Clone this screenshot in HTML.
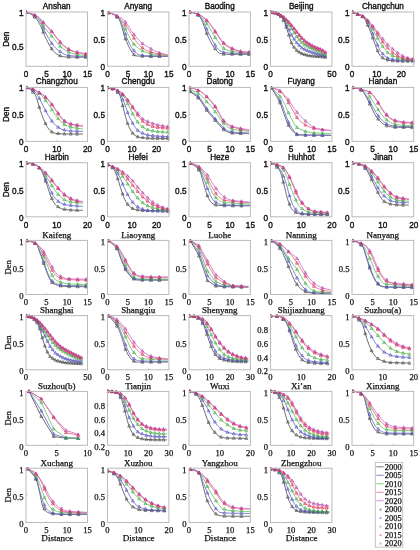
<!DOCTYPE html><html><head><meta charset="utf-8"><style>html,body{margin:0;padding:0;background:#fff;width:420px;height:550px;overflow:hidden}svg{display:block}.s{font-family:"Liberation Sans",sans-serif}.r{font-family:"Liberation Serif",serif}text{fill:#111}text.s{stroke:#111;stroke-width:0.35px}text.r{stroke:#111;stroke-width:0.25px}</style></head><body>
<svg width="420" height="550" viewBox="0 0 420 550">
<defs><filter id="bl" x="0" y="0" width="1" height="1" color-interpolation-filters="sRGB"><feGaussianBlur stdDeviation="0.35"/></filter></defs>
<rect width="420" height="550" fill="#fff"/>
<g filter="url(#bl)"><rect width="420" height="550" fill="#fff"/>
<g><clipPath id="c0"><rect x="26" y="10" width="63.5" height="56.3"/></clipPath><g clip-path="url(#c0)" fill="none" stroke-width="0.85" stroke-linejoin="round"><path d="M25.89 11.89C26.88 12.36 30.21 13.72 31.86 14.71C33.51 15.71 34.35 16.02 35.79 17.86C37.23 19.69 38.93 22.57 40.50 25.71C42.07 28.86 43.64 33.31 45.21 36.71C46.79 40.12 48.36 43.52 49.93 46.14C51.50 48.76 52.68 50.73 54.64 52.43C56.61 54.13 58.96 55.57 61.71 56.36C64.46 57.14 67.08 57.01 71.14 57.14C75.20 57.27 83.58 57.14 86.07 57.14" stroke="#555555"/><path d="M25.89 11.89C26.88 12.30 30.08 13.54 31.86 14.40C33.64 15.26 35.00 15.45 36.57 17.07C38.14 18.70 39.71 21.39 41.29 24.14C42.86 26.89 44.30 30.43 46.00 33.57C47.70 36.71 49.67 40.38 51.50 43.00C53.33 45.62 54.77 47.37 57.00 49.29C59.23 51.20 61.98 53.35 64.86 54.47C67.74 55.60 70.75 55.73 74.29 56.04C77.82 56.36 84.11 56.30 86.07 56.36" stroke="#6a6ad0"/><path d="M25.89 11.89C26.88 12.23 29.81 13.06 31.86 13.93C33.90 14.79 36.05 14.85 38.14 17.07C40.24 19.30 42.07 24.01 44.43 27.29C46.79 30.56 49.54 33.44 52.29 36.71C55.04 39.99 58.05 44.31 60.93 46.93C63.81 49.55 66.82 51.17 69.57 52.43C72.32 53.69 74.68 53.95 77.43 54.47C80.18 55.00 84.63 55.39 86.07 55.57" stroke="#66c466"/><path d="M25.89 11.89C26.88 12.23 29.81 13.06 31.86 13.93C33.90 14.79 36.05 15.42 38.14 17.07C40.24 18.72 42.07 21.29 44.43 23.83C46.79 26.37 49.54 29.07 52.29 32.31C55.04 35.56 58.05 40.35 60.93 43.31C63.81 46.27 66.82 48.55 69.57 50.07C72.32 51.59 74.68 51.77 77.43 52.43C80.18 53.08 84.63 53.74 86.07 54.00" stroke="#ea6a78"/><path d="M25.89 11.89C26.88 12.20 29.81 12.96 31.86 13.77C33.90 14.58 36.05 15.16 38.14 16.76C40.24 18.35 42.07 20.87 44.43 23.36C46.79 25.85 49.54 28.46 52.29 31.69C55.04 34.91 58.05 39.70 60.93 42.69C63.81 45.67 66.82 48.03 69.57 49.60C72.32 51.17 74.68 51.43 77.43 52.11C80.18 52.80 84.63 53.42 86.07 53.69" stroke="#c470d0"/><path d="M26.19 10.53l-1.5 2.7h3zM34.69 15.48l-1.5 2.7h3zM43.19 30.48l-1.5 2.7h3zM51.69 46.99l-1.5 2.7h3zM60.19 54.01l-1.5 2.7h3zM68.69 55.44l-1.5 2.7h3zM77.19 55.64l-1.5 2.7h3zM85.69 55.64l-1.5 2.7h3z" fill="#484848" fill-opacity="0.12" stroke="#484848" stroke-width="0.6"/><path d="M26.19 10.51l-1.5 2.7h3zM34.69 14.5l-1.5 2.7h3zM43.19 26.44l-1.5 2.7h3zM51.69 41.71l-1.5 2.7h3zM60.19 49.89l-1.5 2.7h3zM68.69 53.61l-1.5 2.7h3zM77.19 54.62l-1.5 2.7h3zM85.69 54.85l-1.5 2.7h3z" fill="#5050c0" fill-opacity="0.12" stroke="#5050c0" stroke-width="0.6"/><path d="M26.19 10.49l-1.5 2.7h3zM34.69 13.84l-1.5 2.7h3zM43.19 23.77l-1.5 2.7h3zM51.69 34.49l-1.5 2.7h3zM60.19 44.55l-1.5 2.7h3zM68.69 50.36l-1.5 2.7h3zM77.19 52.91l-1.5 2.7h3zM85.69 54.02l-1.5 2.7h3z" fill="#40a840" fill-opacity="0.12" stroke="#40a840" stroke-width="0.6"/><path d="M26.19 10.49l-1.5 2.7h3zM34.69 13.84l-1.5 2.7h3zM43.19 20.99l-1.5 2.7h3zM51.69 30.17l-1.5 2.7h3zM60.19 40.87l-1.5 2.7h3zM68.69 47.88l-1.5 2.7h3zM77.19 50.86l-1.5 2.7h3zM85.69 52.43l-1.5 2.7h3z" fill="#d82c54" fill-opacity="0.12" stroke="#d82c54" stroke-width="0.6"/><path d="M26.19 10.48l-1.5 2.7h3zM34.69 13.61l-1.5 2.7h3zM43.19 20.55l-1.5 2.7h3zM51.69 29.55l-1.5 2.7h3zM60.19 40.24l-1.5 2.7h3zM68.69 47.39l-1.5 2.7h3zM77.19 50.54l-1.5 2.7h3zM85.69 52.12l-1.5 2.7h3z" fill="#c03c98" fill-opacity="0.12" stroke="#c03c98" stroke-width="0.6"/></g><path d="M46.5 66.3v-1.3" stroke="#a0a0a0" stroke-width="0.6"/><path d="M67 66.3v-1.3" stroke="#a0a0a0" stroke-width="0.6"/><path d="M26 45.94h1.3" stroke="#a0a0a0" stroke-width="0.6"/><rect x="26" y="12" width="61.5" height="54.3" fill="none" stroke="#bababa" stroke-width="1"/><text class="s" x="0" y="0" font-size="8.2" text-anchor="middle"  transform="translate(56.75 8.9) scale(1 1.15)">Anshan</text><text class="s" x="0" y="0" font-size="8.2" text-anchor="end"  transform="translate(23.5 49.94) scale(1 1.15)">0.5</text><text class="s" x="0" y="0" font-size="8.2" text-anchor="end"  transform="translate(23.5 16) scale(1 1.15)">1</text><text class="s" x="0" y="0" font-size="8.2" text-anchor="middle"  transform="translate(26 77.3) scale(1 1.15)">0</text><text class="s" x="0" y="0" font-size="8.2" text-anchor="middle"  transform="translate(46.5 77.3) scale(1 1.15)">5</text><text class="s" x="0" y="0" font-size="8.2" text-anchor="middle"  transform="translate(67 77.3) scale(1 1.15)">10</text><text class="s" x="0" y="0" font-size="8.2" text-anchor="middle"  transform="translate(87.5 77.3) scale(1 1.15)">15</text><text class="s" x="0" y="0" font-size="8.2" text-anchor="middle"  transform="translate(9 39.15) rotate(-90)">Den</text></g>
<g><clipPath id="c1"><rect x="107.45" y="10" width="63.45" height="56.3"/></clipPath><g clip-path="url(#c1)" fill="none" stroke-width="0.85" stroke-linejoin="round"><path d="M108.14 12.36C109.19 12.75 112.73 13.80 114.43 14.71C116.13 15.63 117.18 16.02 118.36 17.86C119.54 19.69 120.45 22.57 121.50 25.71C122.55 28.86 123.46 33.31 124.64 36.71C125.82 40.12 127.13 43.26 128.57 46.14C130.01 49.02 131.98 52.38 133.29 54.00C134.60 55.62 133.29 55.49 136.43 55.89C139.57 56.28 146.90 56.28 152.14 56.36C157.38 56.44 165.24 56.36 167.86 56.36" stroke="#555555"/><path d="M108.14 12.36C109.19 12.75 112.60 13.67 114.43 14.71C116.26 15.76 117.70 16.55 119.14 18.64C120.58 20.74 121.76 24.01 123.07 27.29C124.38 30.56 125.56 34.88 127.00 38.29C128.44 41.69 130.14 45.23 131.71 47.71C133.29 50.20 134.33 51.90 136.43 53.21C138.52 54.52 139.05 55.10 144.29 55.57C149.52 56.04 163.93 55.96 167.86 56.04" stroke="#6a6ad0"/><path d="M108.14 12.36C109.19 12.75 112.46 13.67 114.43 14.71C116.39 15.76 118.10 16.29 119.93 18.64C121.76 21.00 123.73 25.58 125.43 28.86C127.13 32.13 128.57 35.54 130.14 38.29C131.71 41.04 132.76 43.26 134.86 45.36C136.95 47.45 139.83 49.42 142.71 50.86C145.60 52.30 147.95 53.21 152.14 54.00C156.33 54.79 165.24 55.31 167.86 55.57" stroke="#66c466"/><path d="M108.14 12.36C109.45 12.88 113.90 14.32 116.00 15.50C118.10 16.68 119.01 17.73 120.71 19.43C122.42 21.13 124.25 22.96 126.21 25.71C128.18 28.46 130.40 32.79 132.50 35.93C134.60 39.07 136.56 42.21 138.79 44.57C141.01 46.93 143.11 48.63 145.86 50.07C148.61 51.51 151.62 52.35 155.29 53.21C158.95 54.08 165.76 54.92 167.86 55.26" stroke="#ea6a78"/><path d="M108.14 12.36C109.58 12.88 113.90 13.93 116.79 15.50C119.67 17.07 122.68 18.77 125.43 21.79C128.18 24.80 130.54 30.04 133.29 33.57C136.04 37.11 139.05 40.51 141.93 43.00C144.81 45.49 147.82 46.93 150.57 48.50C153.32 50.07 155.55 51.38 158.43 52.43C161.31 53.48 166.29 54.39 167.86 54.79" stroke="#c470d0"/><path d="M108.44 10.97l-1.5 2.7h3zM116.94 15.23l-1.5 2.7h3zM125.44 37.13l-1.5 2.7h3zM133.94 52.89l-1.5 2.7h3zM142.44 54.57l-1.5 2.7h3zM150.94 54.82l-1.5 2.7h3zM159.44 54.86l-1.5 2.7h3z" fill="#484848" fill-opacity="0.12" stroke="#484848" stroke-width="0.6"/><path d="M108.44 10.97l-1.5 2.7h3zM116.94 15.31l-1.5 2.7h3zM125.44 32.43l-1.5 2.7h3zM133.94 48.81l-1.5 2.7h3zM142.44 53.52l-1.5 2.7h3zM150.94 54.2l-1.5 2.7h3zM159.44 54.37l-1.5 2.7h3z" fill="#5050c0" fill-opacity="0.12" stroke="#5050c0" stroke-width="0.6"/><path d="M108.44 10.97l-1.5 2.7h3zM116.94 15.01l-1.5 2.7h3zM125.44 27.39l-1.5 2.7h3zM133.94 42.49l-1.5 2.7h3zM142.44 49.17l-1.5 2.7h3zM150.94 52.1l-1.5 2.7h3zM159.44 53.23l-1.5 2.7h3z" fill="#40a840" fill-opacity="0.12" stroke="#40a840" stroke-width="0.6"/><path d="M108.44 10.98l-1.5 2.7h3zM116.94 14.79l-1.5 2.7h3zM125.44 23.33l-1.5 2.7h3zM133.94 36.41l-1.5 2.7h3zM142.44 45.92l-1.5 2.7h3zM150.94 50.27l-1.5 2.7h3zM159.44 52.39l-1.5 2.7h3z" fill="#d82c54" fill-opacity="0.12" stroke="#d82c54" stroke-width="0.6"/><path d="M108.44 10.97l-1.5 2.7h3zM116.94 14.11l-1.5 2.7h3zM125.44 20.31l-1.5 2.7h3zM133.94 32.79l-1.5 2.7h3zM142.44 41.83l-1.5 2.7h3zM150.94 47.19l-1.5 2.7h3zM159.44 51.18l-1.5 2.7h3z" fill="#c03c98" fill-opacity="0.12" stroke="#c03c98" stroke-width="0.6"/></g><path d="M127.93 66.3v-1.3" stroke="#a0a0a0" stroke-width="0.6"/><path d="M148.42 66.3v-1.3" stroke="#a0a0a0" stroke-width="0.6"/><path d="M107.45 39.15h1.3" stroke="#a0a0a0" stroke-width="0.6"/><rect x="107.45" y="12" width="61.45" height="54.3" fill="none" stroke="#bababa" stroke-width="1"/><text class="s" x="0" y="0" font-size="8.2" text-anchor="middle"  transform="translate(138.18 8.9) scale(1 1.15)">Anyang</text><text class="s" x="0" y="0" font-size="8.2" text-anchor="end"  transform="translate(104.95 70.3) scale(1 1.15)">0</text><text class="s" x="0" y="0" font-size="8.2" text-anchor="end"  transform="translate(104.95 43.15) scale(1 1.15)">0.5</text><text class="s" x="0" y="0" font-size="8.2" text-anchor="end"  transform="translate(104.95 16) scale(1 1.15)">1</text><text class="s" x="0" y="0" font-size="8.2" text-anchor="middle"  transform="translate(107.45 77.3) scale(1 1.15)">0</text><text class="s" x="0" y="0" font-size="8.2" text-anchor="middle"  transform="translate(127.93 77.3) scale(1 1.15)">5</text><text class="s" x="0" y="0" font-size="8.2" text-anchor="middle"  transform="translate(148.42 77.3) scale(1 1.15)">10</text><text class="s" x="0" y="0" font-size="8.2" text-anchor="middle"  transform="translate(168.9 77.3) scale(1 1.15)">15</text></g>
<g><clipPath id="c2"><rect x="189" y="10" width="63.4" height="56.3"/></clipPath><g clip-path="url(#c2)" fill="none" stroke-width="0.85" stroke-linejoin="round"><path d="M189.36 11.89C190.80 12.36 195.77 12.93 198.00 14.71C200.23 16.50 201.14 19.17 202.71 22.57C204.29 25.98 205.86 31.48 207.43 35.14C209.00 38.81 210.57 41.95 212.14 44.57C213.71 47.19 215.02 49.29 216.86 50.86C218.69 52.43 217.64 53.42 223.14 54.00C228.64 54.58 245.40 54.26 249.86 54.31" stroke="#555555"/><path d="M189.36 11.89C190.80 12.36 195.64 13.06 198.00 14.71C200.36 16.36 201.93 19.17 203.50 21.79C205.07 24.40 205.99 27.42 207.43 30.43C208.87 33.44 210.57 36.98 212.14 39.86C213.71 42.74 215.02 45.67 216.86 47.71C218.69 49.76 220.26 51.20 223.14 52.11C226.02 53.03 229.69 52.95 234.14 53.21C238.60 53.48 247.24 53.61 249.86 53.69" stroke="#6a6ad0"/><path d="M189.36 11.89C190.80 12.30 195.51 13.01 198.00 14.40C200.49 15.79 202.58 18.33 204.29 20.21C205.99 22.10 206.38 22.83 208.21 25.71C210.05 28.60 212.80 33.83 215.29 37.50C217.77 41.17 220.52 45.44 223.14 47.71C225.76 49.99 226.55 50.25 231.00 51.17C235.45 52.09 246.71 52.87 249.86 53.21" stroke="#66c466"/><path d="M189.36 11.89C190.93 12.30 195.77 12.88 198.79 14.40C201.80 15.92 204.68 18.07 207.43 21.00C210.18 23.93 212.67 28.33 215.29 32.00C217.90 35.67 220.52 40.25 223.14 43.00C225.76 45.75 228.12 47.06 231.00 48.50C233.88 49.94 237.29 50.99 240.43 51.64C243.57 52.30 248.29 52.30 249.86 52.43" stroke="#ea6a78"/><path d="M189.36 11.89C190.93 12.30 195.77 12.93 198.79 14.40C201.80 15.87 204.68 17.88 207.43 20.69C210.18 23.49 212.67 27.63 215.29 31.21C217.90 34.80 220.52 39.46 223.14 42.21C225.76 44.96 228.12 46.22 231.00 47.71C233.88 49.21 237.29 50.44 240.43 51.17C243.57 51.90 248.29 51.96 249.86 52.11" stroke="#c470d0"/><path d="M189.66 10.48l-1.5 2.7h3zM198.16 13.48l-1.5 2.7h3zM206.66 31.59l-1.5 2.7h3zM215.16 47.09l-1.5 2.7h3zM223.66 52.51l-1.5 2.7h3zM232.16 52.61l-1.5 2.7h3zM240.66 52.71l-1.5 2.7h3zM249.16 52.81l-1.5 2.7h3z" fill="#484848" fill-opacity="0.12" stroke="#484848" stroke-width="0.6"/><path d="M189.66 10.48l-1.5 2.7h3zM198.16 13.42l-1.5 2.7h3zM206.66 27.23l-1.5 2.7h3zM215.16 43.38l-1.5 2.7h3zM223.66 50.67l-1.5 2.7h3zM232.16 51.52l-1.5 2.7h3zM240.66 51.91l-1.5 2.7h3zM249.16 52.16l-1.5 2.7h3z" fill="#5050c0" fill-opacity="0.12" stroke="#5050c0" stroke-width="0.6"/><path d="M189.66 10.47l-1.5 2.7h3zM198.16 13.05l-1.5 2.7h3zM206.66 22.03l-1.5 2.7h3zM215.16 35.79l-1.5 2.7h3zM223.66 46.44l-1.5 2.7h3zM232.16 49.8l-1.5 2.7h3zM240.66 50.72l-1.5 2.7h3zM249.16 51.64l-1.5 2.7h3z" fill="#40a840" fill-opacity="0.12" stroke="#40a840" stroke-width="0.6"/><path d="M189.66 10.47l-1.5 2.7h3zM198.16 12.73l-1.5 2.7h3zM206.66 18.91l-1.5 2.7h3zM215.16 30.32l-1.5 2.7h3zM223.66 41.86l-1.5 2.7h3zM232.16 47.39l-1.5 2.7h3zM240.66 50.16l-1.5 2.7h3zM249.16 50.87l-1.5 2.7h3z" fill="#d82c54" fill-opacity="0.12" stroke="#d82c54" stroke-width="0.6"/><path d="M189.66 10.47l-1.5 2.7h3zM198.16 12.73l-1.5 2.7h3zM206.66 18.62l-1.5 2.7h3zM215.16 29.54l-1.5 2.7h3zM223.66 41.07l-1.5 2.7h3zM232.16 46.64l-1.5 2.7h3zM240.66 49.69l-1.5 2.7h3zM249.16 50.54l-1.5 2.7h3z" fill="#c03c98" fill-opacity="0.12" stroke="#c03c98" stroke-width="0.6"/></g><path d="M209.47 66.3v-1.3" stroke="#a0a0a0" stroke-width="0.6"/><path d="M229.93 66.3v-1.3" stroke="#a0a0a0" stroke-width="0.6"/><path d="M189 39.15h1.3" stroke="#a0a0a0" stroke-width="0.6"/><rect x="189" y="12" width="61.4" height="54.3" fill="none" stroke="#bababa" stroke-width="1"/><text class="s" x="0" y="0" font-size="8.2" text-anchor="middle"  transform="translate(219.7 8.9) scale(1 1.15)">Baoding</text><text class="s" x="0" y="0" font-size="8.2" text-anchor="end"  transform="translate(186.5 70.3) scale(1 1.15)">0</text><text class="s" x="0" y="0" font-size="8.2" text-anchor="end"  transform="translate(186.5 43.15) scale(1 1.15)">0.5</text><text class="s" x="0" y="0" font-size="8.2" text-anchor="end"  transform="translate(186.5 16) scale(1 1.15)">1</text><text class="s" x="0" y="0" font-size="8.2" text-anchor="middle"  transform="translate(189 77.3) scale(1 1.15)">0</text><text class="s" x="0" y="0" font-size="8.2" text-anchor="middle"  transform="translate(209.47 77.3) scale(1 1.15)">5</text><text class="s" x="0" y="0" font-size="8.2" text-anchor="middle"  transform="translate(229.93 77.3) scale(1 1.15)">10</text><text class="s" x="0" y="0" font-size="8.2" text-anchor="middle"  transform="translate(250.4 77.3) scale(1 1.15)">15</text></g>
<g><clipPath id="c3"><rect x="270.5" y="10" width="63.4" height="56.3"/></clipPath><g clip-path="url(#c3)" fill="none" stroke-width="0.85" stroke-linejoin="round"><path d="M270.36 11.89C271.54 12.10 275.46 12.28 277.43 13.14C279.39 14.01 280.83 15.24 282.14 17.07C283.45 18.90 284.24 21.39 285.29 24.14C286.33 26.89 287.38 30.43 288.43 33.57C289.48 36.71 290.39 40.38 291.57 43.00C292.75 45.62 293.93 47.58 295.50 49.29C297.07 50.99 298.77 52.17 301.00 53.21C303.23 54.26 305.98 55.05 308.86 55.57C311.74 56.10 315.40 56.10 318.29 56.36C321.17 56.62 324.83 57.01 326.14 57.14" stroke="#555555"/><path d="M270.36 11.89C271.54 12.10 275.33 12.15 277.43 13.14C279.52 14.14 281.36 15.76 282.93 17.86C284.50 19.95 285.42 22.83 286.86 25.71C288.30 28.60 290.00 32.39 291.57 35.14C293.14 37.89 294.58 40.12 296.29 42.21C297.99 44.31 299.69 46.22 301.79 47.71C303.88 49.21 306.11 50.12 308.86 51.17C311.61 52.22 315.40 53.14 318.29 54.00C321.17 54.86 324.83 55.96 326.14 56.36" stroke="#6a6ad0"/><path d="M270.36 11.89C271.54 12.10 275.20 12.15 277.43 13.14C279.65 14.14 281.88 16.02 283.71 17.86C285.55 19.69 286.86 21.92 288.43 24.14C290.00 26.37 291.57 28.86 293.14 31.21C294.71 33.57 296.15 36.19 297.86 38.29C299.56 40.38 301.26 42.21 303.36 43.79C305.45 45.36 307.94 46.48 310.43 47.71C312.92 48.95 315.67 49.99 318.29 51.17C320.90 52.35 324.83 54.18 326.14 54.79" stroke="#66c466"/><path d="M270.36 11.89C271.54 12.10 275.20 12.28 277.43 13.14C279.65 14.01 281.75 15.50 283.71 17.07C285.68 18.64 287.38 20.48 289.21 22.57C291.05 24.67 292.88 27.29 294.71 29.64C296.55 32.00 298.38 34.62 300.21 36.71C302.05 38.81 303.49 40.51 305.71 42.21C307.94 43.92 310.95 45.62 313.57 46.93C316.19 48.24 319.33 49.02 321.43 50.07C323.52 51.12 325.36 52.69 326.14 53.21" stroke="#ea6a78"/><path d="M270.36 11.89C271.54 12.10 275.20 12.28 277.43 13.14C279.65 14.01 281.75 15.55 283.71 17.07C285.68 18.59 287.38 20.29 289.21 22.26C291.05 24.22 292.88 26.58 294.71 28.86C296.55 31.14 298.38 33.83 300.21 35.93C302.05 38.02 303.49 39.73 305.71 41.43C307.94 43.13 310.95 44.83 313.57 46.14C316.19 47.45 319.33 48.24 321.43 49.29C323.52 50.33 325.36 51.90 326.14 52.43" stroke="#c470d0"/><path d="M270.66 10.44l-1.5 2.7h3zM273.26 10.9l-1.5 2.7h3zM275.86 11.36l-1.5 2.7h3zM278.46 12.5l-1.5 2.7h3zM281.06 14.67l-1.5 2.7h3zM283.66 18.98l-1.5 2.7h3zM286.26 25.56l-1.5 2.7h3zM288.86 33.36l-1.5 2.7h3zM291.46 41.16l-1.5 2.7h3zM294.06 45.48l-1.5 2.7h3zM296.66 48.61l-1.5 2.7h3zM299.26 50.47l-1.5 2.7h3zM301.86 51.97l-1.5 2.7h3zM304.46 52.75l-1.5 2.7h3zM307.06 53.53l-1.5 2.7h3zM309.66 54.14l-1.5 2.7h3zM312.26 54.35l-1.5 2.7h3zM314.86 54.57l-1.5 2.7h3zM317.46 54.79l-1.5 2.7h3zM320.06 55.03l-1.5 2.7h3zM322.66 55.29l-1.5 2.7h3zM325.26 55.55l-1.5 2.7h3z" fill="#484848" fill-opacity="0.12" stroke="#484848" stroke-width="0.6"/><path d="M270.66 10.44l-1.5 2.7h3zM273.26 10.9l-1.5 2.7h3zM275.86 11.36l-1.5 2.7h3zM278.46 12.52l-1.5 2.7h3zM281.06 14.75l-1.5 2.7h3zM283.66 17.81l-1.5 2.7h3zM286.26 23.01l-1.5 2.7h3zM288.86 28.21l-1.5 2.7h3zM291.46 33.41l-1.5 2.7h3zM294.06 37.37l-1.5 2.7h3zM296.66 41.09l-1.5 2.7h3zM299.26 43.69l-1.5 2.7h3zM301.86 46.25l-1.5 2.7h3zM304.46 47.52l-1.5 2.7h3zM307.06 48.79l-1.5 2.7h3zM309.66 49.91l-1.5 2.7h3zM312.26 50.69l-1.5 2.7h3zM314.86 51.47l-1.5 2.7h3zM317.46 52.25l-1.5 2.7h3zM320.06 53.03l-1.5 2.7h3zM322.66 53.81l-1.5 2.7h3zM325.26 54.59l-1.5 2.7h3z" fill="#5050c0" fill-opacity="0.12" stroke="#5050c0" stroke-width="0.6"/><path d="M270.66 10.44l-1.5 2.7h3zM273.26 10.9l-1.5 2.7h3zM275.86 11.36l-1.5 2.7h3zM278.46 12.41l-1.5 2.7h3zM281.06 14.36l-1.5 2.7h3zM283.66 16.31l-1.5 2.7h3zM286.26 19.75l-1.5 2.7h3zM288.86 23.29l-1.5 2.7h3zM291.46 27.19l-1.5 2.7h3zM294.06 31.09l-1.5 2.7h3zM296.66 34.99l-1.5 2.7h3zM299.26 38.19l-1.5 2.7h3zM301.86 40.79l-1.5 2.7h3zM304.46 42.9l-1.5 2.7h3zM307.06 44.34l-1.5 2.7h3zM309.66 45.79l-1.5 2.7h3zM312.26 47.02l-1.5 2.7h3zM314.86 48.16l-1.5 2.7h3zM317.46 49.31l-1.5 2.7h3zM320.06 50.49l-1.5 2.7h3zM322.66 51.68l-1.5 2.7h3zM325.26 52.88l-1.5 2.7h3z" fill="#40a840" fill-opacity="0.12" stroke="#40a840" stroke-width="0.6"/><path d="M270.66 10.44l-1.5 2.7h3zM273.26 10.9l-1.5 2.7h3zM275.86 11.36l-1.5 2.7h3zM278.46 12.29l-1.5 2.7h3zM281.06 13.91l-1.5 2.7h3zM283.66 15.54l-1.5 2.7h3zM286.26 18.11l-1.5 2.7h3zM288.86 20.71l-1.5 2.7h3zM291.46 23.96l-1.5 2.7h3zM294.06 27.3l-1.5 2.7h3zM296.66 30.64l-1.5 2.7h3zM299.26 33.98l-1.5 2.7h3zM301.86 36.86l-1.5 2.7h3zM304.46 39.46l-1.5 2.7h3zM307.06 41.52l-1.5 2.7h3zM309.66 43.08l-1.5 2.7h3zM312.26 44.64l-1.5 2.7h3zM314.86 45.94l-1.5 2.7h3zM317.46 46.98l-1.5 2.7h3zM320.06 48.02l-1.5 2.7h3zM322.66 49.39l-1.5 2.7h3zM325.26 51.12l-1.5 2.7h3z" fill="#d82c54" fill-opacity="0.12" stroke="#d82c54" stroke-width="0.6"/><path d="M270.66 10.44l-1.5 2.7h3zM273.26 10.9l-1.5 2.7h3zM275.86 11.36l-1.5 2.7h3zM278.46 12.29l-1.5 2.7h3zM281.06 13.91l-1.5 2.7h3zM283.66 15.54l-1.5 2.7h3zM286.26 17.97l-1.5 2.7h3zM288.86 20.42l-1.5 2.7h3zM291.46 23.45l-1.5 2.7h3zM294.06 26.57l-1.5 2.7h3zM296.66 29.86l-1.5 2.7h3zM299.26 33.2l-1.5 2.7h3zM301.86 36.07l-1.5 2.7h3zM304.46 38.67l-1.5 2.7h3zM307.06 40.73l-1.5 2.7h3zM309.66 42.29l-1.5 2.7h3zM312.26 43.85l-1.5 2.7h3zM314.86 45.16l-1.5 2.7h3zM317.46 46.2l-1.5 2.7h3zM320.06 47.24l-1.5 2.7h3zM322.66 48.6l-1.5 2.7h3zM325.26 50.34l-1.5 2.7h3z" fill="#c03c98" fill-opacity="0.12" stroke="#c03c98" stroke-width="0.6"/></g><path d="M270.5 39.15h1.3" stroke="#a0a0a0" stroke-width="0.6"/><rect x="270.5" y="12" width="61.4" height="54.3" fill="none" stroke="#bababa" stroke-width="1"/><text class="s" x="0" y="0" font-size="8.2" text-anchor="middle"  transform="translate(301.2 8.9) scale(1 1.15)">Beijing</text><text class="s" x="0" y="0" font-size="8.2" text-anchor="end"  transform="translate(268 70.3) scale(1 1.15)">0</text><text class="s" x="0" y="0" font-size="8.2" text-anchor="end"  transform="translate(268 43.15) scale(1 1.15)">0.5</text><text class="s" x="0" y="0" font-size="8.2" text-anchor="end"  transform="translate(268 16) scale(1 1.15)">1</text><text class="s" x="0" y="0" font-size="8.2" text-anchor="middle"  transform="translate(270.5 77.3) scale(1 1.15)">0</text><text class="s" x="0" y="0" font-size="8.2" text-anchor="middle"  transform="translate(331.9 77.3) scale(1 1.15)">50</text></g>
<g><clipPath id="c4"><rect x="352" y="10" width="63.7" height="56.3"/></clipPath><g clip-path="url(#c4)" fill="none" stroke-width="0.85" stroke-linejoin="round"><path d="M352.36 11.89C354.06 12.62 360.08 14.24 362.57 16.29C365.06 18.33 365.85 21.26 367.29 24.14C368.73 27.02 369.90 30.17 371.21 33.57C372.52 36.98 373.83 41.17 375.14 44.57C376.45 47.98 377.63 51.64 379.07 54.00C380.51 56.36 381.82 57.61 383.79 58.71C385.75 59.81 387.85 60.21 390.86 60.60C393.87 60.99 398.06 60.99 401.86 61.07C405.65 61.15 411.68 61.07 413.64 61.07" stroke="#555555"/><path d="M352.36 11.89C354.06 12.62 359.95 14.50 362.57 16.29C365.19 18.07 366.50 19.95 368.07 22.57C369.64 25.19 370.56 28.60 372.00 32.00C373.44 35.40 375.14 39.60 376.71 43.00C378.29 46.40 379.60 49.94 381.43 52.43C383.26 54.92 385.10 56.67 387.71 57.93C390.33 59.19 392.82 59.58 397.14 59.97C401.46 60.36 410.89 60.23 413.64 60.29" stroke="#6a6ad0"/><path d="M352.36 11.89C354.32 12.75 361.26 15.16 364.14 17.07C367.02 18.98 367.81 20.61 369.64 23.36C371.48 26.11 373.18 30.04 375.14 33.57C377.11 37.11 379.33 41.43 381.43 44.57C383.52 47.71 385.36 50.33 387.71 52.43C390.07 54.52 392.69 55.96 395.57 57.14C398.45 58.32 401.99 59.03 405.00 59.50C408.01 59.97 412.20 59.89 413.64 59.97" stroke="#66c466"/><path d="M352.36 11.89C354.32 12.75 360.87 14.77 364.14 17.07C367.42 19.38 369.64 22.70 372.00 25.71C374.36 28.73 376.19 32.00 378.29 35.14C380.38 38.29 382.21 41.69 384.57 44.57C386.93 47.45 389.81 50.33 392.43 52.43C395.05 54.52 397.67 56.04 400.29 57.14C402.90 58.24 405.92 58.64 408.14 59.03C410.37 59.42 412.73 59.42 413.64 59.50" stroke="#ea6a78"/><path d="M352.36 11.89C354.32 12.67 360.87 14.43 364.14 16.60C367.42 18.77 369.38 21.84 372.00 24.93C374.62 28.02 377.50 32.13 379.86 35.14C382.21 38.15 383.79 40.51 386.14 43.00C388.50 45.49 391.38 47.98 394.00 50.07C396.62 52.17 399.50 54.26 401.86 55.57C404.21 56.88 406.18 57.35 408.14 57.93C410.11 58.50 412.73 58.85 413.64 59.03" stroke="#c470d0"/><path d="M352.66 10.51l-1.5 2.7h3zM357.66 12.67l-1.5 2.7h3zM362.66 14.93l-1.5 2.7h3zM367.66 23.53l-1.5 2.7h3zM372.66 36.11l-1.5 2.7h3zM377.66 49.11l-1.5 2.7h3zM382.66 56.09l-1.5 2.7h3zM387.66 58.25l-1.5 2.7h3zM392.66 59.18l-1.5 2.7h3zM397.66 59.39l-1.5 2.7h3zM402.66 59.57l-1.5 2.7h3zM407.66 59.57l-1.5 2.7h3zM412.66 59.57l-1.5 2.7h3z" fill="#484848" fill-opacity="0.12" stroke="#484848" stroke-width="0.6"/><path d="M352.66 10.51l-1.5 2.7h3zM357.66 12.67l-1.5 2.7h3zM362.66 14.88l-1.5 2.7h3zM367.66 20.6l-1.5 2.7h3zM372.66 32.03l-1.5 2.7h3zM377.66 43.39l-1.5 2.7h3zM382.66 52l-1.5 2.7h3zM387.66 56.38l-1.5 2.7h3zM392.66 57.5l-1.5 2.7h3zM397.66 58.48l-1.5 2.7h3zM402.66 58.58l-1.5 2.7h3zM407.66 58.67l-1.5 2.7h3zM412.66 58.77l-1.5 2.7h3z" fill="#5050c0" fill-opacity="0.12" stroke="#5050c0" stroke-width="0.6"/><path d="M352.66 10.52l-1.5 2.7h3zM357.66 12.72l-1.5 2.7h3zM362.66 14.92l-1.5 2.7h3zM367.66 19.59l-1.5 2.7h3zM372.66 27.46l-1.5 2.7h3zM377.66 36.47l-1.5 2.7h3zM382.66 44.61l-1.5 2.7h3zM387.66 50.86l-1.5 2.7h3zM392.66 53.89l-1.5 2.7h3zM397.66 56.16l-1.5 2.7h3zM402.66 57.41l-1.5 2.7h3zM407.66 58.14l-1.5 2.7h3zM412.66 58.42l-1.5 2.7h3z" fill="#40a840" fill-opacity="0.12" stroke="#40a840" stroke-width="0.6"/><path d="M352.66 10.52l-1.5 2.7h3zM357.66 12.72l-1.5 2.7h3zM362.66 14.92l-1.5 2.7h3zM367.66 19.44l-1.5 2.7h3zM372.66 25.2l-1.5 2.7h3zM377.66 32.7l-1.5 2.7h3zM382.66 40.2l-1.5 2.7h3zM387.66 46.16l-1.5 2.7h3zM392.66 51.07l-1.5 2.7h3zM397.66 54.07l-1.5 2.7h3zM402.66 56.21l-1.5 2.7h3zM407.66 57.41l-1.5 2.7h3zM412.66 57.92l-1.5 2.7h3z" fill="#d82c54" fill-opacity="0.12" stroke="#d82c54" stroke-width="0.6"/><path d="M352.66 10.51l-1.5 2.7h3zM357.66 12.51l-1.5 2.7h3zM362.66 14.51l-1.5 2.7h3zM367.66 18.83l-1.5 2.7h3zM372.66 24.28l-1.5 2.7h3zM377.66 30.78l-1.5 2.7h3zM382.66 37.14l-1.5 2.7h3zM387.66 42.86l-1.5 2.7h3zM392.66 47.36l-1.5 2.7h3zM397.66 51.13l-1.5 2.7h3zM402.66 54.37l-1.5 2.7h3zM407.66 56.25l-1.5 2.7h3zM412.66 57.33l-1.5 2.7h3z" fill="#c03c98" fill-opacity="0.12" stroke="#c03c98" stroke-width="0.6"/></g><path d="M376.68 66.3v-1.3" stroke="#a0a0a0" stroke-width="0.6"/><path d="M401.36 66.3v-1.3" stroke="#a0a0a0" stroke-width="0.6"/><path d="M352 39.15h1.3" stroke="#a0a0a0" stroke-width="0.6"/><rect x="352" y="12" width="61.7" height="54.3" fill="none" stroke="#bababa" stroke-width="1"/><text class="s" x="0" y="0" font-size="8.2" text-anchor="middle"  transform="translate(382.85 8.9) scale(1 1.15)">Changchun</text><text class="s" x="0" y="0" font-size="8.2" text-anchor="end"  transform="translate(349.5 70.3) scale(1 1.15)">0</text><text class="s" x="0" y="0" font-size="8.2" text-anchor="end"  transform="translate(349.5 43.15) scale(1 1.15)">0.5</text><text class="s" x="0" y="0" font-size="8.2" text-anchor="end"  transform="translate(349.5 16) scale(1 1.15)">1</text><text class="s" x="0" y="0" font-size="8.2" text-anchor="middle"  transform="translate(352 77.3) scale(1 1.15)">0</text><text class="s" x="0" y="0" font-size="8.2" text-anchor="middle"  transform="translate(376.68 77.3) scale(1 1.15)">10</text><text class="s" x="0" y="0" font-size="8.2" text-anchor="middle"  transform="translate(401.36 77.3) scale(1 1.15)">20</text></g>
<g><clipPath id="c5"><rect x="26" y="85.4" width="63.5" height="56"/></clipPath><g clip-path="url(#c5)" fill="none" stroke-width="0.85" stroke-linejoin="round"><path d="M26.36 87.36C27.27 87.88 30.29 89.06 31.86 90.50C33.43 91.94 34.48 92.99 35.79 96.00C37.10 99.01 38.40 104.64 39.71 108.57C41.02 112.50 42.33 116.43 43.64 119.57C44.95 122.71 46.13 125.33 47.57 127.43C49.01 129.52 50.19 131.10 52.29 132.14C54.38 133.19 55.04 133.40 60.14 133.71C65.25 134.03 79.13 133.98 82.93 134.03" stroke="#555555"/><path d="M26.36 87.36C27.54 87.88 31.33 88.80 33.43 90.50C35.52 92.20 37.23 94.82 38.93 97.57C40.63 100.32 42.07 103.99 43.64 107.00C45.21 110.01 46.79 113.02 48.36 115.64C49.93 118.26 51.37 120.75 53.07 122.71C54.77 124.68 56.35 126.12 58.57 127.43C60.80 128.74 62.37 129.92 66.43 130.57C70.49 131.23 80.18 131.23 82.93 131.36" stroke="#6a6ad0"/><path d="M26.36 87.36C27.54 87.75 31.20 88.67 33.43 89.71C35.65 90.76 37.62 91.81 39.71 93.64C41.81 95.48 43.90 97.96 46.00 100.71C48.10 103.46 50.32 107.26 52.29 110.14C54.25 113.02 55.82 115.64 57.79 118.00C59.75 120.36 61.85 122.77 64.07 124.29C66.30 125.80 68.00 126.33 71.14 127.11C74.29 127.90 80.96 128.69 82.93 129.00" stroke="#66c466"/><path d="M26.36 87.36C27.54 87.70 31.20 88.48 33.43 89.40C35.65 90.32 37.62 91.50 39.71 92.86C41.81 94.22 43.90 95.48 46.00 97.57C48.10 99.67 50.32 102.81 52.29 105.43C54.25 108.05 55.82 110.67 57.79 113.29C59.75 115.90 61.85 119.31 64.07 121.14C66.30 122.98 68.00 123.45 71.14 124.29C74.29 125.12 80.96 125.86 82.93 126.17" stroke="#ea6a78"/><path d="M26.36 87.36C27.54 87.70 31.20 88.54 33.43 89.40C35.65 90.26 37.62 91.23 39.71 92.54C41.81 93.85 43.90 95.24 46.00 97.26C48.10 99.27 50.32 102.10 52.29 104.64C54.25 107.18 55.82 109.88 57.79 112.50C59.75 115.12 61.85 118.45 64.07 120.36C66.30 122.27 68.00 123.05 71.14 123.97C74.29 124.89 80.96 125.54 82.93 125.86" stroke="#c470d0"/><path d="M26.66 86.03l-1.5 2.7h3zM32.96 90.54l-1.5 2.7h3zM39.26 105.61l-1.5 2.7h3zM45.56 121.9l-1.5 2.7h3zM51.86 130.21l-1.5 2.7h3zM58.16 131.82l-1.5 2.7h3zM64.46 132.27l-1.5 2.7h3zM70.76 132.36l-1.5 2.7h3zM77.06 132.45l-1.5 2.7h3z" fill="#484848" fill-opacity="0.12" stroke="#484848" stroke-width="0.6"/><path d="M26.66 85.99l-1.5 2.7h3zM32.96 88.79l-1.5 2.7h3zM39.26 96.73l-1.5 2.7h3zM45.56 109.01l-1.5 2.7h3zM51.86 119.39l-1.5 2.7h3zM58.16 125.57l-1.5 2.7h3zM64.46 128.28l-1.5 2.7h3zM70.76 129.28l-1.5 2.7h3zM77.06 129.58l-1.5 2.7h3z" fill="#5050c0" fill-opacity="0.12" stroke="#5050c0" stroke-width="0.6"/><path d="M26.66 85.96l-1.5 2.7h3zM32.96 88.06l-1.5 2.7h3zM39.26 91.86l-1.5 2.7h3zM45.56 98.72l-1.5 2.7h3zM51.86 108l-1.5 2.7h3zM58.16 116.87l-1.5 2.7h3zM64.46 122.94l-1.5 2.7h3zM70.76 125.46l-1.5 2.7h3zM77.06 126.56l-1.5 2.7h3z" fill="#40a840" fill-opacity="0.12" stroke="#40a840" stroke-width="0.6"/><path d="M26.66 85.94l-1.5 2.7h3zM32.96 87.76l-1.5 2.7h3zM39.26 91.11l-1.5 2.7h3zM45.56 95.74l-1.5 2.7h3zM51.86 103.39l-1.5 2.7h3zM58.16 112.25l-1.5 2.7h3zM64.46 119.81l-1.5 2.7h3zM70.76 122.61l-1.5 2.7h3zM77.06 123.73l-1.5 2.7h3z" fill="#d82c54" fill-opacity="0.12" stroke="#d82c54" stroke-width="0.6"/><path d="M26.66 85.94l-1.5 2.7h3zM32.96 87.76l-1.5 2.7h3zM39.26 90.81l-1.5 2.7h3zM45.56 95.42l-1.5 2.7h3zM51.86 102.64l-1.5 2.7h3zM58.16 111.46l-1.5 2.7h3zM64.46 119.05l-1.5 2.7h3zM70.76 122.27l-1.5 2.7h3zM77.06 123.42l-1.5 2.7h3z" fill="#c03c98" fill-opacity="0.12" stroke="#c03c98" stroke-width="0.6"/></g><path d="M56.75 141.4v-1.3" stroke="#a0a0a0" stroke-width="0.6"/><path d="M26 114.4h1.3" stroke="#a0a0a0" stroke-width="0.6"/><rect x="26" y="87.4" width="61.5" height="54" fill="none" stroke="#bababa" stroke-width="1"/><text class="s" x="0" y="0" font-size="8.2" text-anchor="middle"  transform="translate(56.75 83.9) scale(1 1.15)">Changzhou</text><text class="s" x="0" y="0" font-size="8.2" text-anchor="end"  transform="translate(23.5 145.4) scale(1 1.15)">0</text><text class="s" x="0" y="0" font-size="8.2" text-anchor="end"  transform="translate(23.5 118.4) scale(1 1.15)">0.5</text><text class="s" x="0" y="0" font-size="8.2" text-anchor="end"  transform="translate(23.5 91.4) scale(1 1.15)">1</text><text class="s" x="0" y="0" font-size="8.2" text-anchor="middle"  transform="translate(26 152.4) scale(1 1.15)">0</text><text class="s" x="0" y="0" font-size="8.2" text-anchor="middle"  transform="translate(56.75 152.4) scale(1 1.15)">10</text><text class="s" x="0" y="0" font-size="8.2" text-anchor="middle"  transform="translate(87.5 152.4) scale(1 1.15)">20</text><text class="s" x="0" y="0" font-size="8.2" text-anchor="middle"  transform="translate(9 114.4) rotate(-90)">Den</text></g>
<g><clipPath id="c6"><rect x="107.45" y="85.4" width="63.45" height="56"/></clipPath><g clip-path="url(#c6)" fill="none" stroke-width="0.85" stroke-linejoin="round"><path d="M107.36 87.36C108.54 87.62 112.46 87.88 114.43 88.93C116.39 89.98 117.83 91.15 119.14 93.64C120.45 96.13 121.24 100.06 122.29 103.86C123.33 107.65 124.38 112.76 125.43 116.43C126.48 120.10 127.39 123.11 128.57 125.86C129.75 128.61 130.93 131.10 132.50 132.93C134.07 134.76 135.25 135.99 138.00 136.86C140.75 137.72 143.89 137.85 149.00 138.11C154.11 138.38 165.37 138.38 168.64 138.43" stroke="#555555"/><path d="M107.36 87.36C108.54 87.62 112.33 87.88 114.43 88.93C116.52 89.98 118.23 91.15 119.93 93.64C121.63 96.13 123.20 100.32 124.64 103.86C126.08 107.39 127.13 111.45 128.57 114.86C130.01 118.26 131.71 121.67 133.29 124.29C134.86 126.90 135.90 128.87 138.00 130.57C140.10 132.27 142.71 133.58 145.86 134.50C149.00 135.42 153.06 135.73 156.86 136.07C160.65 136.41 166.68 136.46 168.64 136.54" stroke="#6a6ad0"/><path d="M107.36 87.36C108.80 87.70 113.51 88.22 116.00 89.40C118.49 90.58 120.32 92.02 122.29 94.43C124.25 96.84 125.95 100.45 127.79 103.86C129.62 107.26 131.45 111.58 133.29 114.86C135.12 118.13 136.69 121.14 138.79 123.50C140.88 125.86 143.11 127.69 145.86 129.00C148.61 130.31 151.49 130.83 155.29 131.36C159.08 131.88 166.42 132.01 168.64 132.14" stroke="#66c466"/><path d="M107.36 87.36C108.80 87.70 113.25 88.09 116.00 89.40C118.75 90.71 121.50 92.80 123.86 95.21C126.21 97.62 128.05 100.85 130.14 103.86C132.24 106.87 134.33 110.40 136.43 113.29C138.52 116.17 140.36 119.05 142.71 121.14C145.07 123.24 147.95 124.81 150.57 125.86C153.19 126.90 155.42 127.04 158.43 127.43C161.44 127.82 166.94 128.08 168.64 128.21" stroke="#ea6a78"/><path d="M107.36 87.36C108.80 87.70 113.25 88.17 116.00 89.40C118.75 90.63 121.50 92.46 123.86 94.74C126.21 97.02 128.05 100.24 130.14 103.07C132.24 105.90 134.33 109.10 136.43 111.71C138.52 114.33 140.36 116.95 142.71 118.79C145.07 120.62 147.95 121.67 150.57 122.71C153.19 123.76 155.42 124.42 158.43 125.07C161.44 125.73 166.94 126.38 168.64 126.64" stroke="#c470d0"/><path d="M107.66 85.92l-1.5 2.7h3zM112.66 87.03l-1.5 2.7h3zM117.66 90.66l-1.5 2.7h3zM122.66 103.84l-1.5 2.7h3zM127.66 121.61l-1.5 2.7h3zM132.66 131.54l-1.5 2.7h3zM137.66 135.11l-1.5 2.7h3zM142.66 135.89l-1.5 2.7h3zM147.66 136.46l-1.5 2.7h3zM152.66 136.67l-1.5 2.7h3zM157.66 136.75l-1.5 2.7h3zM162.66 136.83l-1.5 2.7h3zM167.66 136.91l-1.5 2.7h3z" fill="#484848" fill-opacity="0.12" stroke="#484848" stroke-width="0.6"/><path d="M107.66 85.92l-1.5 2.7h3zM112.66 87.03l-1.5 2.7h3zM117.66 90.2l-1.5 2.7h3zM122.66 98.05l-1.5 2.7h3zM127.66 110.8l-1.5 2.7h3zM132.66 121.53l-1.5 2.7h3zM137.66 128.61l-1.5 2.7h3zM142.66 131.4l-1.5 2.7h3zM147.66 133.26l-1.5 2.7h3zM152.66 133.97l-1.5 2.7h3zM157.66 134.6l-1.5 2.7h3zM162.66 134.8l-1.5 2.7h3zM167.66 135l-1.5 2.7h3z" fill="#5050c0" fill-opacity="0.12" stroke="#5050c0" stroke-width="0.6"/><path d="M107.66 85.93l-1.5 2.7h3zM112.66 87.11l-1.5 2.7h3zM117.66 89.23l-1.5 2.7h3zM122.66 93.57l-1.5 2.7h3zM127.66 102.14l-1.5 2.7h3zM132.66 112.1l-1.5 2.7h3zM137.66 120.23l-1.5 2.7h3zM142.66 125.01l-1.5 2.7h3zM147.66 127.95l-1.5 2.7h3zM152.66 129.2l-1.5 2.7h3zM157.66 130l-1.5 2.7h3zM162.66 130.29l-1.5 2.7h3zM167.66 130.58l-1.5 2.7h3z" fill="#40a840" fill-opacity="0.12" stroke="#40a840" stroke-width="0.6"/><path d="M107.66 85.93l-1.5 2.7h3zM112.66 87.11l-1.5 2.7h3zM117.66 89.13l-1.5 2.7h3zM122.66 92.83l-1.5 2.7h3zM127.66 98.94l-1.5 2.7h3zM132.66 106.13l-1.5 2.7h3zM137.66 113.32l-1.5 2.7h3zM142.66 119.57l-1.5 2.7h3zM147.66 122.61l-1.5 2.7h3zM152.66 124.77l-1.5 2.7h3zM157.66 125.77l-1.5 2.7h3zM162.66 126.25l-1.5 2.7h3zM167.66 126.64l-1.5 2.7h3z" fill="#d82c54" fill-opacity="0.12" stroke="#d82c54" stroke-width="0.6"/><path d="M107.66 85.93l-1.5 2.7h3zM112.66 87.11l-1.5 2.7h3zM117.66 89.03l-1.5 2.7h3zM122.66 92.43l-1.5 2.7h3zM127.66 98.28l-1.5 2.7h3zM132.66 105.03l-1.5 2.7h3zM137.66 111.6l-1.5 2.7h3zM142.66 117.22l-1.5 2.7h3zM147.66 119.76l-1.5 2.7h3zM152.66 121.84l-1.5 2.7h3zM157.66 123.34l-1.5 2.7h3zM162.66 124.22l-1.5 2.7h3zM167.66 124.99l-1.5 2.7h3z" fill="#c03c98" fill-opacity="0.12" stroke="#c03c98" stroke-width="0.6"/></g><path d="M132.03 141.4v-1.3" stroke="#a0a0a0" stroke-width="0.6"/><path d="M156.61 141.4v-1.3" stroke="#a0a0a0" stroke-width="0.6"/><path d="M107.45 114.4h1.3" stroke="#a0a0a0" stroke-width="0.6"/><rect x="107.45" y="87.4" width="61.45" height="54" fill="none" stroke="#bababa" stroke-width="1"/><text class="s" x="0" y="0" font-size="8.2" text-anchor="middle"  transform="translate(138.18 83.9) scale(1 1.15)">Chengdu</text><text class="s" x="0" y="0" font-size="8.2" text-anchor="end"  transform="translate(104.95 145.4) scale(1 1.15)">0</text><text class="s" x="0" y="0" font-size="8.2" text-anchor="end"  transform="translate(104.95 118.4) scale(1 1.15)">0.5</text><text class="s" x="0" y="0" font-size="8.2" text-anchor="end"  transform="translate(104.95 91.4) scale(1 1.15)">1</text><text class="s" x="0" y="0" font-size="8.2" text-anchor="middle"  transform="translate(107.45 152.4) scale(1 1.15)">0</text><text class="s" x="0" y="0" font-size="8.2" text-anchor="middle"  transform="translate(132.03 152.4) scale(1 1.15)">10</text><text class="s" x="0" y="0" font-size="8.2" text-anchor="middle"  transform="translate(156.61 152.4) scale(1 1.15)">20</text></g>
<g><clipPath id="c7"><rect x="189" y="85.4" width="63.4" height="56"/></clipPath><g clip-path="url(#c7)" fill="none" stroke-width="0.85" stroke-linejoin="round"><path d="M189.36 91.29C190.93 92.46 195.90 95.21 198.79 98.36C201.67 101.50 203.89 106.48 206.64 110.14C209.39 113.81 212.40 117.08 215.29 120.36C218.17 123.63 221.18 127.69 223.93 129.79C226.68 131.88 227.60 132.27 231.79 132.93C235.98 133.58 246.19 133.58 249.07 133.71" stroke="#555555"/><path d="M189.36 90.50C190.93 91.55 195.90 93.83 198.79 96.79C201.67 99.75 203.89 104.59 206.64 108.26C209.39 111.92 212.40 115.46 215.29 118.79C218.17 122.11 221.18 126.04 223.93 128.21C226.68 130.39 227.60 131.04 231.79 131.83C235.98 132.61 246.19 132.75 249.07 132.93" stroke="#6a6ad0"/><path d="M189.36 89.40C190.93 90.11 195.90 91.63 198.79 93.64C201.67 95.66 203.89 98.49 206.64 101.50C209.39 104.51 212.40 108.05 215.29 111.71C218.17 115.38 221.18 120.62 223.93 123.50C226.68 126.38 227.60 127.69 231.79 129.00C235.98 130.31 246.19 130.96 249.07 131.36" stroke="#66c466"/><path d="M189.36 87.36C190.93 87.88 195.90 88.93 198.79 90.50C201.67 92.07 203.89 94.04 206.64 96.79C209.39 99.54 212.40 102.89 215.29 107.00C218.17 111.11 221.18 118.18 223.93 121.46C226.68 124.73 229.04 125.39 231.79 126.64C234.54 127.90 237.55 128.35 240.43 129.00C243.31 129.65 247.63 130.31 249.07 130.57" stroke="#ea6a78"/><path d="M189.36 87.36C190.93 87.88 195.90 89.01 198.79 90.50C201.67 91.99 203.89 93.70 206.64 96.31C209.39 98.93 212.40 102.13 215.29 106.21C218.17 110.30 221.18 117.50 223.93 120.83C226.68 124.15 229.04 124.94 231.79 126.17C234.54 127.40 237.55 127.61 240.43 128.21C243.31 128.82 247.63 129.52 249.07 129.79" stroke="#c470d0"/><path d="M189.66 90.01l-1.5 2.7h3zM198.16 96.39l-1.5 2.7h3zM206.66 108.66l-1.5 2.7h3zM215.16 118.71l-1.5 2.7h3zM223.66 127.99l-1.5 2.7h3zM232.16 131.45l-1.5 2.7h3zM240.66 131.83l-1.5 2.7h3z" fill="#484848" fill-opacity="0.12" stroke="#484848" stroke-width="0.6"/><path d="M189.66 89.2l-1.5 2.7h3zM198.16 94.87l-1.5 2.7h3zM206.66 106.77l-1.5 2.7h3zM215.16 117.13l-1.5 2.7h3zM223.66 126.42l-1.5 2.7h3zM232.16 130.35l-1.5 2.7h3zM240.66 130.89l-1.5 2.7h3z" fill="#5050c0" fill-opacity="0.12" stroke="#5050c0" stroke-width="0.6"/><path d="M189.66 88.04l-1.5 2.7h3zM198.16 91.86l-1.5 2.7h3zM206.66 100.02l-1.5 2.7h3zM215.16 110.06l-1.5 2.7h3zM223.66 121.63l-1.5 2.7h3zM232.16 127.55l-1.5 2.7h3zM240.66 128.71l-1.5 2.7h3z" fill="#40a840" fill-opacity="0.12" stroke="#40a840" stroke-width="0.6"/><path d="M189.66 85.96l-1.5 2.7h3zM198.16 88.79l-1.5 2.7h3zM206.66 95.3l-1.5 2.7h3zM215.16 105.35l-1.5 2.7h3zM223.66 119.5l-1.5 2.7h3zM232.16 125.24l-1.5 2.7h3zM240.66 127.54l-1.5 2.7h3z" fill="#d82c54" fill-opacity="0.12" stroke="#d82c54" stroke-width="0.6"/><path d="M189.66 85.96l-1.5 2.7h3zM198.16 88.79l-1.5 2.7h3zM206.66 94.83l-1.5 2.7h3zM215.16 104.57l-1.5 2.7h3zM223.66 118.87l-1.5 2.7h3zM232.16 124.76l-1.5 2.7h3zM240.66 126.76l-1.5 2.7h3z" fill="#c03c98" fill-opacity="0.12" stroke="#c03c98" stroke-width="0.6"/></g><path d="M209.47 141.4v-1.3" stroke="#a0a0a0" stroke-width="0.6"/><path d="M229.93 141.4v-1.3" stroke="#a0a0a0" stroke-width="0.6"/><path d="M189 114.4h1.3" stroke="#a0a0a0" stroke-width="0.6"/><rect x="189" y="87.4" width="61.4" height="54" fill="none" stroke="#bababa" stroke-width="1"/><text class="s" x="0" y="0" font-size="8.2" text-anchor="middle"  transform="translate(219.7 83.9) scale(1 1.15)">Datong</text><text class="s" x="0" y="0" font-size="8.2" text-anchor="end"  transform="translate(186.5 145.4) scale(1 1.15)">0</text><text class="s" x="0" y="0" font-size="8.2" text-anchor="end"  transform="translate(186.5 118.4) scale(1 1.15)">0.5</text><text class="s" x="0" y="0" font-size="8.2" text-anchor="end"  transform="translate(186.5 91.4) scale(1 1.15)">1</text><text class="s" x="0" y="0" font-size="8.2" text-anchor="middle"  transform="translate(189 152.4) scale(1 1.15)">0</text><text class="s" x="0" y="0" font-size="8.2" text-anchor="middle"  transform="translate(209.47 152.4) scale(1 1.15)">5</text><text class="s" x="0" y="0" font-size="8.2" text-anchor="middle"  transform="translate(229.93 152.4) scale(1 1.15)">10</text><text class="s" x="0" y="0" font-size="8.2" text-anchor="middle"  transform="translate(250.4 152.4) scale(1 1.15)">15</text></g>
<g><clipPath id="c8"><rect x="270.5" y="85.4" width="63.4" height="56"/></clipPath><g clip-path="url(#c8)" fill="none" stroke-width="0.85" stroke-linejoin="round"><path d="M271.14 87.36C272.58 89.85 277.69 97.96 279.79 102.29C281.88 106.61 282.27 109.49 283.71 113.29C285.15 117.08 286.86 122.06 288.43 125.07C290.00 128.08 291.70 129.79 293.14 131.36C294.58 132.93 294.98 133.90 297.07 134.50C299.17 135.10 300.08 134.84 305.71 134.97C311.35 135.10 326.67 135.23 330.86 135.29" stroke="#555555"/><path d="M271.14 87.36C272.58 89.45 277.56 95.87 279.79 99.93C282.01 103.99 283.06 108.05 284.50 111.71C285.94 115.38 286.99 118.92 288.43 121.93C289.87 124.94 291.70 127.77 293.14 129.79C294.58 131.80 294.98 133.16 297.07 134.03C299.17 134.89 300.08 134.76 305.71 134.97C311.35 135.18 326.67 135.23 330.86 135.29" stroke="#6a6ad0"/><path d="M271.14 87.36C272.58 88.80 277.69 93.51 279.79 96.00C281.88 98.49 282.27 99.54 283.71 102.29C285.15 105.04 286.86 109.23 288.43 112.50C290.00 115.77 291.70 119.44 293.14 121.93C294.58 124.42 294.98 125.86 297.07 127.43C299.17 129.00 302.70 130.44 305.71 131.36C308.73 132.27 310.95 132.59 315.14 132.93C319.33 133.27 328.24 133.32 330.86 133.40" stroke="#66c466"/><path d="M271.14 87.36C272.58 88.01 277.43 89.58 279.79 91.29C282.14 92.99 283.71 95.48 285.29 97.57C286.86 99.67 287.90 101.63 289.21 103.86C290.52 106.08 291.70 108.44 293.14 110.93C294.58 113.42 295.76 116.43 297.86 118.79C299.95 121.14 303.10 123.50 305.71 125.07C308.33 126.64 309.38 127.30 313.57 128.21C317.76 129.13 327.98 130.18 330.86 130.57" stroke="#ea6a78"/><path d="M271.14 87.36C272.58 87.88 277.43 89.06 279.79 90.50C282.14 91.94 283.71 94.30 285.29 96.00C286.86 97.70 287.90 98.88 289.21 100.71C290.52 102.55 291.70 104.90 293.14 107.00C294.58 109.10 295.76 110.93 297.86 113.29C299.95 115.64 303.10 118.84 305.71 121.14C308.33 123.45 310.95 125.73 313.57 127.11C316.19 128.50 318.55 128.90 321.43 129.47C324.31 130.05 329.29 130.39 330.86 130.57" stroke="#c470d0"/><path d="M271.44 86.38l-1.5 2.7h3zM279.94 101.23l-1.5 2.7h3zM288.44 123.59l-1.5 2.7h3zM296.94 132.9l-1.5 2.7h3zM305.44 133.46l-1.5 2.7h3zM313.94 133.57l-1.5 2.7h3zM322.44 133.68l-1.5 2.7h3z" fill="#484848" fill-opacity="0.12" stroke="#484848" stroke-width="0.6"/><path d="M271.44 86.29l-1.5 2.7h3zM279.94 98.82l-1.5 2.7h3zM288.44 120.45l-1.5 2.7h3zM296.94 132.39l-1.5 2.7h3zM305.44 133.44l-1.5 2.7h3zM313.94 133.57l-1.5 2.7h3zM322.44 133.68l-1.5 2.7h3z" fill="#5050c0" fill-opacity="0.12" stroke="#5050c0" stroke-width="0.6"/><path d="M271.44 86.16l-1.5 2.7h3zM279.94 94.75l-1.5 2.7h3zM288.44 111.03l-1.5 2.7h3zM296.94 125.75l-1.5 2.7h3zM305.44 129.73l-1.5 2.7h3zM313.94 131.23l-1.5 2.7h3zM322.44 131.65l-1.5 2.7h3z" fill="#40a840" fill-opacity="0.12" stroke="#40a840" stroke-width="0.6"/><path d="M271.44 85.99l-1.5 2.7h3zM279.94 89.97l-1.5 2.7h3zM288.44 101.12l-1.5 2.7h3zM296.94 115.76l-1.5 2.7h3zM305.44 123.35l-1.5 2.7h3zM313.94 126.76l-1.5 2.7h3zM322.44 127.92l-1.5 2.7h3z" fill="#d82c54" fill-opacity="0.12" stroke="#d82c54" stroke-width="0.6"/><path d="M271.44 85.97l-1.5 2.7h3zM279.94 89.16l-1.5 2.7h3zM288.44 98.29l-1.5 2.7h3zM296.94 110.57l-1.5 2.7h3zM305.44 119.37l-1.5 2.7h3zM313.94 125.73l-1.5 2.7h3zM322.44 128.09l-1.5 2.7h3z" fill="#c03c98" fill-opacity="0.12" stroke="#c03c98" stroke-width="0.6"/></g><path d="M290.97 141.4v-1.3" stroke="#a0a0a0" stroke-width="0.6"/><path d="M311.43 141.4v-1.3" stroke="#a0a0a0" stroke-width="0.6"/><path d="M270.5 114.4h1.3" stroke="#a0a0a0" stroke-width="0.6"/><rect x="270.5" y="87.4" width="61.4" height="54" fill="none" stroke="#bababa" stroke-width="1"/><text class="s" x="0" y="0" font-size="8.2" text-anchor="middle"  transform="translate(301.2 83.9) scale(1 1.15)">Fuyang</text><text class="s" x="0" y="0" font-size="8.2" text-anchor="end"  transform="translate(268 145.4) scale(1 1.15)">0</text><text class="s" x="0" y="0" font-size="8.2" text-anchor="end"  transform="translate(268 118.4) scale(1 1.15)">0.5</text><text class="s" x="0" y="0" font-size="8.2" text-anchor="end"  transform="translate(268 91.4) scale(1 1.15)">1</text><text class="s" x="0" y="0" font-size="8.2" text-anchor="middle"  transform="translate(270.5 152.4) scale(1 1.15)">0</text><text class="s" x="0" y="0" font-size="8.2" text-anchor="middle"  transform="translate(290.97 152.4) scale(1 1.15)">5</text><text class="s" x="0" y="0" font-size="8.2" text-anchor="middle"  transform="translate(311.43 152.4) scale(1 1.15)">10</text><text class="s" x="0" y="0" font-size="8.2" text-anchor="middle"  transform="translate(331.9 152.4) scale(1 1.15)">15</text></g>
<g><clipPath id="c9"><rect x="352" y="85.4" width="63.7" height="56"/></clipPath><g clip-path="url(#c9)" fill="none" stroke-width="0.85" stroke-linejoin="round"><path d="M352.36 87.36C353.80 87.75 358.77 88.27 361.00 89.71C363.23 91.15 364.14 93.38 365.71 96.00C367.29 98.62 368.86 102.29 370.43 105.43C372.00 108.57 373.57 112.24 375.14 114.86C376.71 117.48 378.02 119.36 379.86 121.14C381.69 122.92 383.79 124.55 386.14 125.54C388.50 126.54 389.55 126.80 394.00 127.11C398.45 127.43 409.71 127.38 412.86 127.43" stroke="#555555"/><path d="M352.36 87.36C353.80 87.75 358.64 88.27 361.00 89.71C363.36 91.15 364.80 93.64 366.50 96.00C368.20 98.36 369.64 101.11 371.21 103.86C372.79 106.61 374.36 110.01 375.93 112.50C377.50 114.99 378.81 116.87 380.64 118.79C382.48 120.70 384.44 122.74 386.93 123.97C389.42 125.20 391.25 125.73 395.57 126.17C399.89 126.62 409.98 126.56 412.86 126.64" stroke="#6a6ad0"/><path d="M352.36 87.36C353.93 87.75 359.17 88.54 361.79 89.71C364.40 90.89 366.11 92.33 368.07 94.43C370.04 96.52 371.74 99.54 373.57 102.29C375.40 105.04 377.11 108.18 379.07 110.93C381.04 113.68 383.13 116.69 385.36 118.79C387.58 120.88 389.94 122.45 392.43 123.50C394.92 124.55 396.88 124.73 400.29 125.07C403.69 125.41 410.76 125.46 412.86 125.54" stroke="#66c466"/><path d="M352.36 87.36C354.06 87.75 359.56 88.80 362.57 89.71C365.58 90.63 368.07 91.02 370.43 92.86C372.79 94.69 374.62 97.70 376.71 100.71C378.81 103.73 380.90 108.05 383.00 110.93C385.10 113.81 387.19 116.30 389.29 118.00C391.38 119.70 393.21 120.36 395.57 121.14C397.93 121.93 400.55 122.37 403.43 122.71C406.31 123.05 411.29 123.11 412.86 123.19" stroke="#ea6a78"/><path d="M352.36 87.36C354.06 87.75 359.56 88.85 362.57 89.71C365.58 90.58 368.07 90.84 370.43 92.54C372.79 94.25 374.62 97.00 376.71 99.93C378.81 102.86 380.90 107.26 383.00 110.14C385.10 113.02 387.19 115.51 389.29 117.21C391.38 118.92 393.21 119.57 395.57 120.36C397.93 121.14 400.55 121.59 403.43 121.93C406.31 122.27 411.29 122.32 412.86 122.40" stroke="#c470d0"/><path d="M352.66 85.94l-1.5 2.7h3zM361.16 88.42l-1.5 2.7h3zM369.66 102.39l-1.5 2.7h3zM378.16 117.38l-1.5 2.7h3zM386.66 124.15l-1.5 2.7h3zM395.16 125.63l-1.5 2.7h3zM403.66 125.78l-1.5 2.7h3zM412.16 125.92l-1.5 2.7h3z" fill="#484848" fill-opacity="0.12" stroke="#484848" stroke-width="0.6"/><path d="M352.66 85.94l-1.5 2.7h3zM361.16 88.39l-1.5 2.7h3zM369.66 99.76l-1.5 2.7h3zM378.16 113.97l-1.5 2.7h3zM386.66 122.25l-1.5 2.7h3zM395.16 124.57l-1.5 2.7h3zM403.66 124.89l-1.5 2.7h3zM412.16 125.12l-1.5 2.7h3z" fill="#5050c0" fill-opacity="0.12" stroke="#5050c0" stroke-width="0.6"/><path d="M352.66 85.93l-1.5 2.7h3zM361.16 88.06l-1.5 2.7h3zM369.66 95.19l-1.5 2.7h3zM378.16 107.99l-1.5 2.7h3zM386.66 118.15l-1.5 2.7h3zM395.16 122.55l-1.5 2.7h3zM403.66 123.7l-1.5 2.7h3zM412.16 124.02l-1.5 2.7h3z" fill="#40a840" fill-opacity="0.12" stroke="#40a840" stroke-width="0.6"/><path d="M352.66 85.93l-1.5 2.7h3zM361.16 87.89l-1.5 2.7h3zM369.66 91.05l-1.5 2.7h3zM378.16 101.56l-1.5 2.7h3zM386.66 113.54l-1.5 2.7h3zM395.16 119.44l-1.5 2.7h3zM403.66 121.23l-1.5 2.7h3zM412.16 121.65l-1.5 2.7h3z" fill="#d82c54" fill-opacity="0.12" stroke="#d82c54" stroke-width="0.6"/><path d="M352.66 85.93l-1.5 2.7h3zM361.16 87.89l-1.5 2.7h3zM369.66 90.77l-1.5 2.7h3zM378.16 100.77l-1.5 2.7h3zM386.66 112.76l-1.5 2.7h3zM395.16 118.65l-1.5 2.7h3zM403.66 120.44l-1.5 2.7h3zM412.16 120.87l-1.5 2.7h3z" fill="#c03c98" fill-opacity="0.12" stroke="#c03c98" stroke-width="0.6"/></g><path d="M372.57 141.4v-1.3" stroke="#a0a0a0" stroke-width="0.6"/><path d="M393.13 141.4v-1.3" stroke="#a0a0a0" stroke-width="0.6"/><path d="M352 114.4h1.3" stroke="#a0a0a0" stroke-width="0.6"/><rect x="352" y="87.4" width="61.7" height="54" fill="none" stroke="#bababa" stroke-width="1"/><text class="s" x="0" y="0" font-size="8.2" text-anchor="middle"  transform="translate(382.85 83.9) scale(1 1.15)">Handan</text><text class="s" x="0" y="0" font-size="8.2" text-anchor="end"  transform="translate(349.5 145.4) scale(1 1.15)">0</text><text class="s" x="0" y="0" font-size="8.2" text-anchor="end"  transform="translate(349.5 118.4) scale(1 1.15)">0.5</text><text class="s" x="0" y="0" font-size="8.2" text-anchor="end"  transform="translate(349.5 91.4) scale(1 1.15)">1</text><text class="s" x="0" y="0" font-size="8.2" text-anchor="middle"  transform="translate(352 152.4) scale(1 1.15)">0</text><text class="s" x="0" y="0" font-size="8.2" text-anchor="middle"  transform="translate(372.57 152.4) scale(1 1.15)">5</text><text class="s" x="0" y="0" font-size="8.2" text-anchor="middle"  transform="translate(393.13 152.4) scale(1 1.15)">10</text><text class="s" x="0" y="0" font-size="8.2" text-anchor="middle"  transform="translate(413.7 152.4) scale(1 1.15)">15</text></g>
<g><clipPath id="c10"><rect x="26" y="160.7" width="63.5" height="56.1"/></clipPath><g clip-path="url(#c10)" fill="none" stroke-width="0.85" stroke-linejoin="round"><path d="M26.36 162.83C27.54 163.01 31.20 163.09 33.43 163.93C35.65 164.77 38.01 165.89 39.71 167.86C41.42 169.82 42.33 172.57 43.64 175.71C44.95 178.86 46.39 183.31 47.57 186.71C48.75 190.12 49.40 193.13 50.71 196.14C52.02 199.15 53.60 202.69 55.43 204.79C57.26 206.88 59.10 207.85 61.71 208.71C64.33 209.58 67.61 209.71 71.14 209.97C74.68 210.23 80.96 210.23 82.93 210.29" stroke="#555555"/><path d="M26.36 162.83C27.54 163.01 31.20 163.09 33.43 163.93C35.65 164.77 37.88 165.76 39.71 167.86C41.55 169.95 42.86 173.36 44.43 176.50C46.00 179.64 47.70 183.57 49.14 186.71C50.58 189.86 51.50 192.87 53.07 195.36C54.64 197.85 56.35 200.07 58.57 201.64C60.80 203.21 62.37 204.00 66.43 204.79C70.49 205.57 80.18 206.10 82.93 206.36" stroke="#6a6ad0"/><path d="M26.36 162.83C27.54 163.01 31.20 163.09 33.43 163.93C35.65 164.77 37.75 166.02 39.71 167.86C41.68 169.69 43.38 172.31 45.21 174.93C47.05 177.55 48.88 180.69 50.71 183.57C52.55 186.45 54.25 189.73 56.21 192.21C58.18 194.70 60.27 196.93 62.50 198.50C64.73 200.07 66.17 200.86 69.57 201.64C72.98 202.43 80.70 202.95 82.93 203.21" stroke="#66c466"/><path d="M26.36 162.83C27.54 163.01 31.20 163.09 33.43 163.93C35.65 164.77 37.62 166.29 39.71 167.86C41.81 169.43 43.90 171.13 46.00 173.36C48.10 175.58 50.19 178.60 52.29 181.21C54.38 183.83 56.48 186.71 58.57 189.07C60.67 191.43 62.50 193.52 64.86 195.36C67.21 197.19 69.70 198.95 72.71 200.07C75.73 201.20 81.23 201.77 82.93 202.11" stroke="#ea6a78"/><path d="M26.36 162.83C27.54 163.01 31.20 163.09 33.43 163.93C35.65 164.77 37.62 166.36 39.71 167.86C41.81 169.35 43.90 170.79 46.00 172.89C48.10 174.98 50.19 177.86 52.29 180.43C54.38 183.00 56.48 185.93 58.57 188.29C60.67 190.64 62.50 192.74 64.86 194.57C67.21 196.40 69.70 198.11 72.71 199.29C75.73 200.46 81.23 201.25 82.93 201.64" stroke="#c470d0"/><path d="M26.66 161.38l-1.5 2.7h3zM32.96 162.36l-1.5 2.7h3zM39.26 166.07l-1.5 2.7h3zM45.56 179.57l-1.5 2.7h3zM51.86 196.74l-1.5 2.7h3zM58.16 204.99l-1.5 2.7h3zM64.46 207.58l-1.5 2.7h3zM70.76 208.42l-1.5 2.7h3zM77.06 208.63l-1.5 2.7h3z" fill="#484848" fill-opacity="0.12" stroke="#484848" stroke-width="0.6"/><path d="M26.66 161.38l-1.5 2.7h3zM32.96 162.36l-1.5 2.7h3zM39.26 166.07l-1.5 2.7h3zM45.56 177.45l-1.5 2.7h3zM51.86 191.19l-1.5 2.7h3zM58.16 199.67l-1.5 2.7h3zM64.46 202.5l-1.5 2.7h3zM70.76 203.7l-1.5 2.7h3zM77.06 204.3l-1.5 2.7h3z" fill="#5050c0" fill-opacity="0.12" stroke="#5050c0" stroke-width="0.6"/><path d="M26.66 161.38l-1.5 2.7h3zM32.96 162.36l-1.5 2.7h3zM39.26 166.07l-1.5 2.7h3zM45.56 173.97l-1.5 2.7h3zM51.86 183.87l-1.5 2.7h3zM58.16 192.66l-1.5 2.7h3zM64.46 197.87l-1.5 2.7h3zM70.76 200.28l-1.5 2.7h3zM77.06 201.02l-1.5 2.7h3z" fill="#40a840" fill-opacity="0.12" stroke="#40a840" stroke-width="0.6"/><path d="M26.66 161.38l-1.5 2.7h3zM32.96 162.36l-1.5 2.7h3zM39.26 166.07l-1.5 2.7h3zM45.56 171.47l-1.5 2.7h3zM51.86 179.18l-1.5 2.7h3zM58.16 187.05l-1.5 2.7h3zM64.46 193.46l-1.5 2.7h3zM70.76 197.4l-1.5 2.7h3zM77.06 199.44l-1.5 2.7h3z" fill="#d82c54" fill-opacity="0.12" stroke="#d82c54" stroke-width="0.6"/><path d="M26.66 161.38l-1.5 2.7h3zM32.96 162.36l-1.5 2.7h3zM39.26 166.07l-1.5 2.7h3zM45.56 171.03l-1.5 2.7h3zM51.86 178.41l-1.5 2.7h3zM58.16 186.27l-1.5 2.7h3zM64.46 192.67l-1.5 2.7h3zM70.76 196.61l-1.5 2.7h3zM77.06 198.79l-1.5 2.7h3z" fill="#c03c98" fill-opacity="0.12" stroke="#c03c98" stroke-width="0.6"/></g><path d="M56.75 216.8v-1.3" stroke="#a0a0a0" stroke-width="0.6"/><path d="M26 189.75h1.3" stroke="#a0a0a0" stroke-width="0.6"/><rect x="26" y="162.7" width="61.5" height="54.1" fill="none" stroke="#bababa" stroke-width="1"/><text class="s" x="0" y="0" font-size="8.2" text-anchor="middle"  transform="translate(56.75 159.6) scale(1 1.15)">Harbin</text><text class="s" x="0" y="0" font-size="8.2" text-anchor="end"  transform="translate(23.5 220.8) scale(1 1.15)">0</text><text class="s" x="0" y="0" font-size="8.2" text-anchor="end"  transform="translate(23.5 193.75) scale(1 1.15)">0.5</text><text class="s" x="0" y="0" font-size="8.2" text-anchor="end"  transform="translate(23.5 166.7) scale(1 1.15)">1</text><text class="s" x="0" y="0" font-size="8.2" text-anchor="middle"  transform="translate(26 227.8) scale(1 1.15)">0</text><text class="s" x="0" y="0" font-size="8.2" text-anchor="middle"  transform="translate(56.75 227.8) scale(1 1.15)">10</text><text class="s" x="0" y="0" font-size="8.2" text-anchor="middle"  transform="translate(87.5 227.8) scale(1 1.15)">20</text><text class="s" x="0" y="0" font-size="8.2" text-anchor="middle"  transform="translate(9 189.75) rotate(-90)">Den</text></g>
<g><clipPath id="c11"><rect x="107.45" y="160.7" width="63.45" height="56.1"/></clipPath><g clip-path="url(#c11)" fill="none" stroke-width="0.85" stroke-linejoin="round"><path d="M107.36 163.93C108.27 164.58 111.29 165.89 112.86 167.86C114.43 169.82 115.48 172.31 116.79 175.71C118.10 179.12 119.40 184.36 120.71 188.29C122.02 192.21 123.33 196.40 124.64 199.29C125.95 202.17 127.13 204.00 128.57 205.57C130.01 207.14 131.19 207.93 133.29 208.71C135.38 209.50 135.25 209.89 141.14 210.29C147.04 210.68 164.06 210.94 168.64 211.07" stroke="#555555"/><path d="M107.36 163.93C108.40 164.58 111.68 165.89 113.64 167.86C115.61 169.82 117.44 172.57 119.14 175.71C120.85 178.86 122.29 183.31 123.86 186.71C125.43 190.12 126.87 193.26 128.57 196.14C130.27 199.02 132.24 202.04 134.07 204.00C135.90 205.96 137.35 206.88 139.57 207.93C141.80 208.98 142.58 209.76 147.43 210.29C152.27 210.81 165.11 210.94 168.64 211.07" stroke="#6a6ad0"/><path d="M107.36 164.71C108.54 165.24 111.94 166.02 114.43 167.86C116.92 169.69 119.93 172.83 122.29 175.71C124.64 178.60 126.48 182.00 128.57 185.14C130.67 188.29 132.76 191.82 134.86 194.57C136.95 197.32 138.79 199.68 141.14 201.64C143.50 203.61 146.12 205.13 149.00 206.36C151.88 207.59 155.15 208.43 158.43 209.03C161.70 209.63 166.94 209.81 168.64 209.97" stroke="#66c466"/><path d="M107.36 164.71C108.80 165.24 113.25 166.29 116.00 167.86C118.75 169.43 121.50 171.79 123.86 174.14C126.21 176.50 128.05 179.38 130.14 182.00C132.24 184.62 134.33 187.37 136.43 189.86C138.52 192.35 140.36 194.70 142.71 196.93C145.07 199.15 147.95 201.51 150.57 203.21C153.19 204.92 155.42 206.10 158.43 207.14C161.44 208.19 166.94 209.11 168.64 209.50" stroke="#ea6a78"/><path d="M107.36 164.71C108.80 165.24 113.25 166.55 116.00 167.86C118.75 169.17 121.24 170.61 123.86 172.57C126.48 174.54 129.36 177.15 131.71 179.64C134.07 182.13 135.90 185.01 138.00 187.50C140.10 189.99 141.93 192.21 144.29 194.57C146.64 196.93 149.52 199.68 152.14 201.64C154.76 203.61 157.25 205.13 160.00 206.36C162.75 207.59 167.20 208.58 168.64 209.03" stroke="#c470d0"/><path d="M107.66 162.64l-1.5 2.7h3zM112.66 166.21l-1.5 2.7h3zM117.66 177l-1.5 2.7h3zM122.66 192.23l-1.5 2.7h3zM127.66 202.61l-1.5 2.7h3zM132.66 206.8l-1.5 2.7h3zM137.66 208.09l-1.5 2.7h3zM142.66 208.83l-1.5 2.7h3zM147.66 208.97l-1.5 2.7h3zM152.66 209.11l-1.5 2.7h3zM157.66 209.26l-1.5 2.7h3zM162.66 209.4l-1.5 2.7h3zM167.66 209.54l-1.5 2.7h3z" fill="#484848" fill-opacity="0.12" stroke="#484848" stroke-width="0.6"/><path d="M107.66 162.62l-1.5 2.7h3zM112.66 165.74l-1.5 2.7h3zM117.66 172.09l-1.5 2.7h3zM122.66 182.41l-1.5 2.7h3zM127.66 192.81l-1.5 2.7h3zM132.66 200.48l-1.5 2.7h3zM137.66 205.06l-1.5 2.7h3zM142.66 207.35l-1.5 2.7h3zM147.66 208.79l-1.5 2.7h3zM152.66 208.98l-1.5 2.7h3zM157.66 209.16l-1.5 2.7h3zM162.66 209.35l-1.5 2.7h3zM167.66 209.53l-1.5 2.7h3z" fill="#5050c0" fill-opacity="0.12" stroke="#5050c0" stroke-width="0.6"/><path d="M107.66 163.35l-1.5 2.7h3zM112.66 165.57l-1.5 2.7h3zM117.66 169.59l-1.5 2.7h3zM122.66 174.77l-1.5 2.7h3zM127.66 182.27l-1.5 2.7h3zM132.66 189.77l-1.5 2.7h3zM137.66 196.22l-1.5 2.7h3zM142.66 201.05l-1.5 2.7h3zM147.66 204.05l-1.5 2.7h3zM152.66 205.89l-1.5 2.7h3zM157.66 207.31l-1.5 2.7h3zM162.66 207.92l-1.5 2.7h3zM167.66 208.38l-1.5 2.7h3z" fill="#40a840" fill-opacity="0.12" stroke="#40a840" stroke-width="0.6"/><path d="M107.66 163.32l-1.5 2.7h3zM112.66 165.14l-1.5 2.7h3zM117.66 167.68l-1.5 2.7h3zM122.66 171.68l-1.5 2.7h3zM127.66 177.39l-1.5 2.7h3zM132.66 183.64l-1.5 2.7h3zM137.66 189.74l-1.5 2.7h3zM142.66 195.36l-1.5 2.7h3zM147.66 199.38l-1.5 2.7h3zM152.66 202.76l-1.5 2.7h3zM157.66 205.26l-1.5 2.7h3zM162.66 206.62l-1.5 2.7h3zM167.66 207.77l-1.5 2.7h3z" fill="#d82c54" fill-opacity="0.12" stroke="#d82c54" stroke-width="0.6"/><path d="M107.66 163.32l-1.5 2.7h3zM112.66 165.14l-1.5 2.7h3zM117.66 167.35l-1.5 2.7h3zM122.66 170.35l-1.5 2.7h3zM127.66 174.49l-1.5 2.7h3zM132.66 179.32l-1.5 2.7h3zM137.66 185.57l-1.5 2.7h3zM142.66 191.24l-1.5 2.7h3zM147.66 196.11l-1.5 2.7h3zM152.66 200.45l-1.5 2.7h3zM157.66 203.45l-1.5 2.7h3zM162.66 205.68l-1.5 2.7h3zM167.66 207.22l-1.5 2.7h3z" fill="#c03c98" fill-opacity="0.12" stroke="#c03c98" stroke-width="0.6"/></g><path d="M132.03 216.8v-1.3" stroke="#a0a0a0" stroke-width="0.6"/><path d="M156.61 216.8v-1.3" stroke="#a0a0a0" stroke-width="0.6"/><path d="M107.45 189.75h1.3" stroke="#a0a0a0" stroke-width="0.6"/><rect x="107.45" y="162.7" width="61.45" height="54.1" fill="none" stroke="#bababa" stroke-width="1"/><text class="s" x="0" y="0" font-size="8.2" text-anchor="middle"  transform="translate(138.18 159.6) scale(1 1.15)">Hefei</text><text class="s" x="0" y="0" font-size="8.2" text-anchor="end"  transform="translate(104.95 220.8) scale(1 1.15)">0</text><text class="s" x="0" y="0" font-size="8.2" text-anchor="end"  transform="translate(104.95 193.75) scale(1 1.15)">0.5</text><text class="s" x="0" y="0" font-size="8.2" text-anchor="end"  transform="translate(104.95 166.7) scale(1 1.15)">1</text><text class="s" x="0" y="0" font-size="8.2" text-anchor="middle"  transform="translate(107.45 227.8) scale(1 1.15)">0</text><text class="s" x="0" y="0" font-size="8.2" text-anchor="middle"  transform="translate(132.03 227.8) scale(1 1.15)">10</text><text class="s" x="0" y="0" font-size="8.2" text-anchor="middle"  transform="translate(156.61 227.8) scale(1 1.15)">20</text></g>
<g><clipPath id="c12"><rect x="189" y="160.7" width="63.4" height="56.1"/></clipPath><g clip-path="url(#c12)" fill="none" stroke-width="0.85" stroke-linejoin="round"><path d="M190.14 162.83C191.58 163.93 196.69 166.50 198.79 169.43C200.88 172.36 201.40 176.37 202.71 180.43C204.02 184.49 205.33 190.25 206.64 193.79C207.95 197.32 209.13 199.81 210.57 201.64C212.01 203.48 213.19 204.13 215.29 204.79C217.38 205.44 217.38 205.39 223.14 205.57C228.90 205.75 245.40 205.83 249.86 205.89" stroke="#555555"/><path d="M190.14 162.83C191.58 163.80 196.56 166.10 198.79 168.64C201.01 171.18 202.06 174.80 203.50 178.07C204.94 181.35 205.99 184.88 207.43 188.29C208.87 191.69 210.57 196.09 212.14 198.50C213.71 200.91 214.76 201.70 216.86 202.74C218.95 203.79 219.21 204.37 224.71 204.79C230.21 205.20 245.67 205.18 249.86 205.26" stroke="#6a6ad0"/><path d="M190.14 162.83C191.58 163.67 196.43 165.71 198.79 167.86C201.14 170.00 202.71 173.10 204.29 175.71C205.86 178.33 206.77 180.56 208.21 183.57C209.65 186.58 211.36 191.17 212.93 193.79C214.50 196.40 215.68 197.85 217.64 199.29C219.61 200.73 219.35 201.64 224.71 202.43C230.08 203.21 245.67 203.74 249.86 204.00" stroke="#66c466"/><path d="M190.14 162.83C191.58 163.54 196.43 165.32 198.79 167.07C201.14 168.83 202.71 171.26 204.29 173.36C205.86 175.45 206.51 176.63 208.21 179.64C209.92 182.65 212.54 188.42 214.50 191.43C216.46 194.44 218.04 196.20 220.00 197.71C221.96 199.23 221.31 199.70 226.29 200.54C231.26 201.38 245.93 202.38 249.86 202.74" stroke="#ea6a78"/><path d="M190.14 162.83C191.58 163.40 195.90 164.27 198.79 166.29C201.67 168.30 204.68 171.39 207.43 174.93C210.18 178.46 212.67 183.96 215.29 187.50C217.90 191.04 220.52 194.05 223.14 196.14C225.76 198.24 226.55 199.08 231.00 200.07C235.45 201.07 246.71 201.77 249.86 202.11" stroke="#c470d0"/><path d="M190.44 161.56l-1.5 2.7h3zM198.94 168.37l-1.5 2.7h3zM207.44 193.89l-1.5 2.7h3zM215.94 203.35l-1.5 2.7h3zM224.44 204.09l-1.5 2.7h3zM232.94 204.19l-1.5 2.7h3zM241.44 204.29l-1.5 2.7h3z" fill="#484848" fill-opacity="0.12" stroke="#484848" stroke-width="0.6"/><path d="M190.44 161.53l-1.5 2.7h3zM198.94 167.46l-1.5 2.7h3zM207.44 186.82l-1.5 2.7h3zM215.94 200.42l-1.5 2.7h3zM224.44 203.22l-1.5 2.7h3zM232.94 203.44l-1.5 2.7h3zM241.44 203.6l-1.5 2.7h3z" fill="#5050c0" fill-opacity="0.12" stroke="#5050c0" stroke-width="0.6"/><path d="M190.44 161.5l-1.5 2.7h3zM198.94 166.58l-1.5 2.7h3zM207.44 180.53l-1.5 2.7h3zM215.94 195.8l-1.5 2.7h3zM224.44 200.81l-1.5 2.7h3zM232.94 201.44l-1.5 2.7h3zM241.44 201.97l-1.5 2.7h3z" fill="#40a840" fill-opacity="0.12" stroke="#40a840" stroke-width="0.6"/><path d="M190.44 161.48l-1.5 2.7h3zM198.94 165.75l-1.5 2.7h3zM207.44 176.91l-1.5 2.7h3zM215.94 191.58l-1.5 2.7h3zM224.44 198.21l-1.5 2.7h3zM232.94 199.66l-1.5 2.7h3zM241.44 200.46l-1.5 2.7h3z" fill="#d82c54" fill-opacity="0.12" stroke="#d82c54" stroke-width="0.6"/><path d="M190.44 161.45l-1.5 2.7h3zM198.94 164.94l-1.5 2.7h3zM207.44 173.45l-1.5 2.7h3zM215.94 186.72l-1.5 2.7h3zM224.44 195.29l-1.5 2.7h3zM232.94 198.78l-1.5 2.7h3zM241.44 199.7l-1.5 2.7h3z" fill="#c03c98" fill-opacity="0.12" stroke="#c03c98" stroke-width="0.6"/></g><path d="M209.47 216.8v-1.3" stroke="#a0a0a0" stroke-width="0.6"/><path d="M229.93 216.8v-1.3" stroke="#a0a0a0" stroke-width="0.6"/><path d="M189 189.75h1.3" stroke="#a0a0a0" stroke-width="0.6"/><rect x="189" y="162.7" width="61.4" height="54.1" fill="none" stroke="#bababa" stroke-width="1"/><text class="s" x="0" y="0" font-size="8.2" text-anchor="middle"  transform="translate(219.7 159.6) scale(1 1.15)">Heze</text><text class="s" x="0" y="0" font-size="8.2" text-anchor="end"  transform="translate(186.5 220.8) scale(1 1.15)">0</text><text class="s" x="0" y="0" font-size="8.2" text-anchor="end"  transform="translate(186.5 193.75) scale(1 1.15)">0.5</text><text class="s" x="0" y="0" font-size="8.2" text-anchor="end"  transform="translate(186.5 166.7) scale(1 1.15)">1</text><text class="s" x="0" y="0" font-size="8.2" text-anchor="middle"  transform="translate(189 227.8) scale(1 1.15)">0</text><text class="s" x="0" y="0" font-size="8.2" text-anchor="middle"  transform="translate(209.47 227.8) scale(1 1.15)">5</text><text class="s" x="0" y="0" font-size="8.2" text-anchor="middle"  transform="translate(229.93 227.8) scale(1 1.15)">10</text><text class="s" x="0" y="0" font-size="8.2" text-anchor="middle"  transform="translate(250.4 227.8) scale(1 1.15)">15</text></g>
<g><clipPath id="c13"><rect x="270.5" y="160.7" width="63.4" height="56.1"/></clipPath><g clip-path="url(#c13)" fill="none" stroke-width="0.85" stroke-linejoin="round"><path d="M270.36 162.83C271.27 163.27 274.15 163.88 275.86 165.50C277.56 167.12 279.26 169.56 280.57 172.57C281.88 175.58 282.54 179.12 283.71 183.57C284.89 188.02 286.33 195.10 287.64 199.29C288.95 203.48 290.13 206.49 291.57 208.71C293.01 210.94 294.19 211.73 296.29 212.64C298.38 213.56 298.90 213.87 304.14 214.21C309.38 214.55 323.79 214.61 327.71 214.69" stroke="#555555"/><path d="M270.36 162.83C271.40 163.27 274.81 164.01 276.64 165.50C278.48 166.99 279.92 169.30 281.36 171.79C282.80 174.27 283.98 176.63 285.29 180.43C286.60 184.23 287.90 190.38 289.21 194.57C290.52 198.76 291.70 202.69 293.14 205.57C294.58 208.45 295.76 210.50 297.86 211.86C299.95 213.22 300.74 213.35 305.71 213.74C310.69 214.14 324.05 214.14 327.71 214.21" stroke="#6a6ad0"/><path d="M270.36 162.83C271.54 163.27 275.20 164.27 277.43 165.50C279.65 166.73 282.01 167.99 283.71 170.21C285.42 172.44 286.33 175.58 287.64 178.86C288.95 182.13 290.13 186.19 291.57 189.86C293.01 193.52 294.71 197.85 296.29 200.86C297.86 203.87 298.90 206.10 301.00 207.93C303.10 209.76 304.40 210.94 308.86 211.86C313.31 212.77 324.57 213.17 327.71 213.43" stroke="#66c466"/><path d="M270.36 162.83C271.54 163.14 275.20 163.88 277.43 164.71C279.65 165.55 281.62 165.63 283.71 167.86C285.81 170.08 288.17 174.40 290.00 178.07C291.83 181.74 293.14 186.19 294.71 189.86C296.29 193.52 297.60 197.19 299.43 200.07C301.26 202.95 303.36 205.31 305.71 207.14C308.07 208.98 309.90 210.15 313.57 211.07C317.24 211.99 325.36 212.38 327.71 212.64" stroke="#ea6a78"/><path d="M270.36 162.83C271.54 163.14 275.20 163.93 277.43 164.71C279.65 165.50 281.62 165.45 283.71 167.54C285.81 169.64 288.04 173.57 290.00 177.29C291.96 181.00 293.67 185.93 295.50 189.86C297.33 193.79 299.04 197.85 301.00 200.86C302.96 203.87 304.93 206.15 307.29 207.93C309.64 209.71 311.74 210.81 315.14 211.54C318.55 212.28 325.62 212.20 327.71 212.33" stroke="#c470d0"/><path d="M270.66 161.47l-1.5 2.7h3zM276.96 165.65l-1.5 2.7h3zM283.26 180.47l-1.5 2.7h3zM289.56 202.38l-1.5 2.7h3zM295.86 210.79l-1.5 2.7h3zM302.16 212.32l-1.5 2.7h3zM308.46 212.8l-1.5 2.7h3zM314.76 212.93l-1.5 2.7h3zM321.06 213.05l-1.5 2.7h3zM327.36 213.18l-1.5 2.7h3z" fill="#484848" fill-opacity="0.12" stroke="#484848" stroke-width="0.6"/><path d="M270.66 161.46l-1.5 2.7h3zM276.96 164.42l-1.5 2.7h3zM283.26 174.47l-1.5 2.7h3zM289.56 194.03l-1.5 2.7h3zM295.86 207.69l-1.5 2.7h3zM302.16 211.39l-1.5 2.7h3zM308.46 212.3l-1.5 2.7h3zM314.76 212.44l-1.5 2.7h3zM321.06 212.57l-1.5 2.7h3zM327.36 212.71l-1.5 2.7h3z" fill="#5050c0" fill-opacity="0.12" stroke="#5050c0" stroke-width="0.6"/><path d="M270.66 161.44l-1.5 2.7h3zM276.96 163.82l-1.5 2.7h3zM283.26 168.37l-1.5 2.7h3zM289.56 182.72l-1.5 2.7h3zM295.86 198.36l-1.5 2.7h3zM302.16 207.01l-1.5 2.7h3zM308.46 210.16l-1.5 2.7h3zM314.76 210.85l-1.5 2.7h3zM321.06 211.37l-1.5 2.7h3zM327.36 211.9l-1.5 2.7h3z" fill="#40a840" fill-opacity="0.12" stroke="#40a840" stroke-width="0.6"/><path d="M270.66 161.41l-1.5 2.7h3zM276.96 163.09l-1.5 2.7h3zM283.26 166.13l-1.5 2.7h3zM289.56 175.85l-1.5 2.7h3zM295.86 190.83l-1.5 2.7h3zM302.16 201.64l-1.5 2.7h3zM308.46 207.01l-1.5 2.7h3zM314.76 209.7l-1.5 2.7h3zM321.06 210.4l-1.5 2.7h3zM327.36 211.1l-1.5 2.7h3z" fill="#d82c54" fill-opacity="0.12" stroke="#d82c54" stroke-width="0.6"/><path d="M270.66 161.41l-1.5 2.7h3zM276.96 163.09l-1.5 2.7h3zM283.26 165.84l-1.5 2.7h3zM289.56 175.1l-1.5 2.7h3zM295.86 189.07l-1.5 2.7h3zM302.16 200.66l-1.5 2.7h3zM308.46 206.97l-1.5 2.7h3zM314.76 209.87l-1.5 2.7h3zM321.06 210.41l-1.5 2.7h3zM327.36 210.81l-1.5 2.7h3z" fill="#c03c98" fill-opacity="0.12" stroke="#c03c98" stroke-width="0.6"/></g><path d="M301.2 216.8v-1.3" stroke="#a0a0a0" stroke-width="0.6"/><path d="M270.5 189.75h1.3" stroke="#a0a0a0" stroke-width="0.6"/><rect x="270.5" y="162.7" width="61.4" height="54.1" fill="none" stroke="#bababa" stroke-width="1"/><text class="s" x="0" y="0" font-size="8.2" text-anchor="middle"  transform="translate(301.2 159.6) scale(1 1.15)">Huhhot</text><text class="s" x="0" y="0" font-size="8.2" text-anchor="end"  transform="translate(268 220.8) scale(1 1.15)">0</text><text class="s" x="0" y="0" font-size="8.2" text-anchor="end"  transform="translate(268 193.75) scale(1 1.15)">0.5</text><text class="s" x="0" y="0" font-size="8.2" text-anchor="end"  transform="translate(268 166.7) scale(1 1.15)">1</text><text class="s" x="0" y="0" font-size="8.2" text-anchor="middle"  transform="translate(270.5 227.8) scale(1 1.15)">0</text><text class="s" x="0" y="0" font-size="8.2" text-anchor="middle"  transform="translate(301.2 227.8) scale(1 1.15)">10</text><text class="s" x="0" y="0" font-size="8.2" text-anchor="middle"  transform="translate(331.9 227.8) scale(1 1.15)">20</text></g>
<g><clipPath id="c14"><rect x="352" y="160.7" width="63.7" height="56.1"/></clipPath><g clip-path="url(#c14)" fill="none" stroke-width="0.85" stroke-linejoin="round"><path d="M352.36 162.83C353.54 163.01 357.20 162.96 359.43 163.93C361.65 164.90 363.88 166.42 365.71 168.64C367.55 170.87 368.86 174.27 370.43 177.29C372.00 180.30 373.57 183.57 375.14 186.71C376.71 189.86 378.29 193.65 379.86 196.14C381.43 198.63 382.74 200.33 384.57 201.64C386.40 202.95 388.76 203.48 390.86 204.00C392.95 204.52 394.13 204.60 397.14 204.79C400.15 204.97 406.96 205.05 408.93 205.10" stroke="#555555"/><path d="M352.36 162.83C353.54 163.01 357.20 163.09 359.43 163.93C361.65 164.77 363.75 165.89 365.71 167.86C367.68 169.82 369.51 172.96 371.21 175.71C372.92 178.46 374.23 181.48 375.93 184.36C377.63 187.24 379.60 190.64 381.43 193.00C383.26 195.36 384.83 197.06 386.93 198.50C389.02 199.94 390.33 200.94 394.00 201.64C397.67 202.35 406.44 202.56 408.93 202.74" stroke="#6a6ad0"/><path d="M352.36 162.83C353.54 163.01 357.20 163.22 359.43 163.93C361.65 164.64 363.62 165.50 365.71 167.07C367.81 168.64 370.04 171.00 372.00 173.36C373.96 175.71 375.67 178.46 377.50 181.21C379.33 183.96 381.04 187.37 383.00 189.86C384.96 192.35 386.93 194.44 389.29 196.14C391.64 197.85 393.87 199.23 397.14 200.07C400.42 200.91 406.96 200.99 408.93 201.17" stroke="#66c466"/><path d="M352.36 162.83C353.54 163.01 357.20 163.35 359.43 163.93C361.65 164.50 363.62 164.98 365.71 166.29C367.81 167.60 369.90 169.69 372.00 171.79C374.10 173.88 376.19 176.24 378.29 178.86C380.38 181.48 382.48 185.01 384.57 187.50C386.67 189.99 388.76 192.08 390.86 193.79C392.95 195.49 394.13 196.75 397.14 197.71C400.15 198.68 406.96 199.29 408.93 199.60" stroke="#ea6a78"/><path d="M352.36 162.83C353.54 163.01 357.20 163.40 359.43 163.93C361.65 164.45 363.62 164.79 365.71 165.97C367.81 167.15 369.90 168.98 372.00 171.00C374.10 173.02 376.19 175.45 378.29 178.07C380.38 180.69 382.48 184.23 384.57 186.71C386.67 189.20 388.76 191.30 390.86 193.00C392.95 194.70 394.13 195.93 397.14 196.93C400.15 197.92 406.96 198.63 408.93 198.97" stroke="#c470d0"/><path d="M352.66 161.38l-1.5 2.7h3zM358.96 162.36l-1.5 2.7h3zM365.26 166.8l-1.5 2.7h3zM371.56 178.04l-1.5 2.7h3zM377.86 190.64l-1.5 2.7h3zM384.16 199.66l-1.5 2.7h3zM390.46 202.35l-1.5 2.7h3zM396.76 203.24l-1.5 2.7h3zM403.06 203.44l-1.5 2.7h3z" fill="#484848" fill-opacity="0.12" stroke="#484848" stroke-width="0.6"/><path d="M352.66 161.38l-1.5 2.7h3zM358.96 162.36l-1.5 2.7h3zM365.26 166.07l-1.5 2.7h3zM371.56 174.84l-1.5 2.7h3zM377.86 185.89l-1.5 2.7h3zM384.16 194.23l-1.5 2.7h3zM390.46 198.57l-1.5 2.7h3zM396.76 200.35l-1.5 2.7h3zM403.06 200.81l-1.5 2.7h3z" fill="#5050c0" fill-opacity="0.12" stroke="#5050c0" stroke-width="0.6"/><path d="M352.66 161.38l-1.5 2.7h3zM358.96 162.36l-1.5 2.7h3zM365.26 165.34l-1.5 2.7h3zM371.56 171.41l-1.5 2.7h3zM377.86 180.28l-1.5 2.7h3zM384.16 189.51l-1.5 2.7h3zM390.46 195.23l-1.5 2.7h3zM396.76 198.38l-1.5 2.7h3zM403.06 199.12l-1.5 2.7h3z" fill="#40a840" fill-opacity="0.12" stroke="#40a840" stroke-width="0.6"/><path d="M352.66 161.38l-1.5 2.7h3zM358.96 162.36l-1.5 2.7h3zM365.26 164.61l-1.5 2.7h3zM371.56 169.9l-1.5 2.7h3zM377.86 176.88l-1.5 2.7h3zM384.16 185.43l-1.5 2.7h3zM390.46 191.89l-1.5 2.7h3zM396.76 195.97l-1.5 2.7h3zM403.06 197.16l-1.5 2.7h3z" fill="#d82c54" fill-opacity="0.12" stroke="#d82c54" stroke-width="0.6"/><path d="M352.66 161.38l-1.5 2.7h3zM358.96 162.36l-1.5 2.7h3zM365.26 164.32l-1.5 2.7h3zM371.56 169.15l-1.5 2.7h3zM377.86 176.09l-1.5 2.7h3zM384.16 184.64l-1.5 2.7h3zM390.46 191.1l-1.5 2.7h3zM396.76 195.19l-1.5 2.7h3zM403.06 196.45l-1.5 2.7h3z" fill="#c03c98" fill-opacity="0.12" stroke="#c03c98" stroke-width="0.6"/></g><path d="M382.85 216.8v-1.3" stroke="#a0a0a0" stroke-width="0.6"/><path d="M352 189.75h1.3" stroke="#a0a0a0" stroke-width="0.6"/><rect x="352" y="162.7" width="61.7" height="54.1" fill="none" stroke="#bababa" stroke-width="1"/><text class="s" x="0" y="0" font-size="8.2" text-anchor="middle"  transform="translate(382.85 159.6) scale(1 1.15)">Jinan</text><text class="s" x="0" y="0" font-size="8.2" text-anchor="end"  transform="translate(349.5 220.8) scale(1 1.15)">0</text><text class="s" x="0" y="0" font-size="8.2" text-anchor="end"  transform="translate(349.5 193.75) scale(1 1.15)">0.5</text><text class="s" x="0" y="0" font-size="8.2" text-anchor="end"  transform="translate(349.5 166.7) scale(1 1.15)">1</text><text class="s" x="0" y="0" font-size="8.2" text-anchor="middle"  transform="translate(352 227.8) scale(1 1.15)">0</text><text class="s" x="0" y="0" font-size="8.2" text-anchor="middle"  transform="translate(382.85 227.8) scale(1 1.15)">10</text><text class="s" x="0" y="0" font-size="8.2" text-anchor="middle"  transform="translate(413.7 227.8) scale(1 1.15)">20</text></g>
<g><clipPath id="c15"><rect x="26" y="238.4" width="63.5" height="56.1"/></clipPath><g clip-path="url(#c15)" fill="none" stroke-width="0.85" stroke-linejoin="round"><path d="M26.36 240.36C27.93 240.88 33.56 241.54 35.79 243.50C38.01 245.46 38.40 248.87 39.71 252.14C41.02 255.42 42.33 259.48 43.64 263.14C44.95 266.81 46.26 271.00 47.57 274.14C48.88 277.29 49.93 280.17 51.50 282.00C53.07 283.83 54.77 284.41 57.00 285.14C59.23 285.88 59.88 286.14 64.86 286.40C69.83 286.66 83.19 286.66 86.86 286.71" stroke="#555555"/><path d="M26.36 240.36C27.93 240.88 33.56 241.67 35.79 243.50C38.01 245.33 38.40 248.35 39.71 251.36C41.02 254.37 42.33 258.04 43.64 261.57C44.95 265.11 46.26 269.43 47.57 272.57C48.88 275.71 49.93 278.54 51.50 280.43C53.07 282.31 54.77 283.05 57.00 283.89C59.23 284.72 59.88 285.12 64.86 285.46C69.83 285.80 83.19 285.85 86.86 285.93" stroke="#6a6ad0"/><path d="M26.36 240.36C27.93 240.88 33.43 241.80 35.79 243.50C38.14 245.20 39.06 248.08 40.50 250.57C41.94 253.06 42.99 255.29 44.43 258.43C45.87 261.57 47.57 266.15 49.14 269.43C50.71 272.70 52.02 275.98 53.86 278.07C55.69 280.17 57.52 281.03 60.14 282.00C62.76 282.97 65.12 283.49 69.57 283.89C74.02 284.28 83.98 284.28 86.86 284.36" stroke="#66c466"/><path d="M26.36 240.36C27.93 240.88 33.30 241.93 35.79 243.50C38.27 245.07 39.58 247.30 41.29 249.79C42.99 252.27 44.43 255.42 46.00 258.43C47.57 261.44 49.14 265.11 50.71 267.86C52.29 270.61 53.60 273.15 55.43 274.93C57.26 276.71 59.10 277.76 61.71 278.54C64.33 279.33 66.95 279.38 71.14 279.64C75.33 279.90 84.24 280.04 86.86 280.11" stroke="#ea6a78"/><path d="M26.36 240.36C27.93 240.88 33.17 242.06 35.79 243.50C38.40 244.94 40.24 246.77 42.07 249.00C43.90 251.23 45.08 253.85 46.79 256.86C48.49 259.87 50.58 264.19 52.29 267.07C53.99 269.95 55.17 272.39 57.00 274.14C58.83 275.90 60.93 276.81 63.29 277.60C65.64 278.39 67.21 278.60 71.14 278.86C75.07 279.12 84.24 279.12 86.86 279.17" stroke="#c470d0"/><path d="M26.66 238.96l-1.5 2.7h3zM35.16 241.79l-1.5 2.7h3zM43.66 261.68l-1.5 2.7h3zM52.16 280.88l-1.5 2.7h3zM60.66 284.23l-1.5 2.7h3zM69.16 284.96l-1.5 2.7h3zM77.66 285.08l-1.5 2.7h3zM86.16 285.2l-1.5 2.7h3z" fill="#484848" fill-opacity="0.12" stroke="#484848" stroke-width="0.6"/><path d="M26.66 238.96l-1.5 2.7h3zM35.16 241.79l-1.5 2.7h3zM43.66 260.11l-1.5 2.7h3zM52.16 279.34l-1.5 2.7h3zM60.66 283.12l-1.5 2.7h3zM69.16 284.05l-1.5 2.7h3zM77.66 284.23l-1.5 2.7h3zM86.16 284.41l-1.5 2.7h3z" fill="#5050c0" fill-opacity="0.12" stroke="#5050c0" stroke-width="0.6"/><path d="M26.66 238.96l-1.5 2.7h3zM35.16 241.79l-1.5 2.7h3zM43.66 255.39l-1.5 2.7h3zM52.16 273.45l-1.5 2.7h3zM60.66 280.6l-1.5 2.7h3zM69.16 282.3l-1.5 2.7h3zM77.66 282.61l-1.5 2.7h3zM86.16 282.84l-1.5 2.7h3z" fill="#40a840" fill-opacity="0.12" stroke="#40a840" stroke-width="0.6"/><path d="M26.66 238.96l-1.5 2.7h3zM35.16 241.79l-1.5 2.7h3zM43.66 252.63l-1.5 2.7h3zM52.16 268.52l-1.5 2.7h3zM60.66 276.44l-1.5 2.7h3zM69.16 277.91l-1.5 2.7h3zM77.66 278.34l-1.5 2.7h3zM86.16 278.59l-1.5 2.7h3z" fill="#d82c54" fill-opacity="0.12" stroke="#d82c54" stroke-width="0.6"/><path d="M26.66 238.96l-1.5 2.7h3zM35.16 241.79l-1.5 2.7h3zM43.66 250.14l-1.5 2.7h3zM52.16 265.33l-1.5 2.7h3zM60.66 274.65l-1.5 2.7h3zM69.16 277.04l-1.5 2.7h3zM77.66 277.49l-1.5 2.7h3zM86.16 277.66l-1.5 2.7h3z" fill="#c03c98" fill-opacity="0.12" stroke="#c03c98" stroke-width="0.6"/></g><path d="M46.5 294.5v-1.3" stroke="#a0a0a0" stroke-width="0.6"/><path d="M67 294.5v-1.3" stroke="#a0a0a0" stroke-width="0.6"/><path d="M26 267.45h1.3" stroke="#a0a0a0" stroke-width="0.6"/><rect x="26" y="240.4" width="61.5" height="54.1" fill="none" stroke="#bababa" stroke-width="1"/><text class="r" x="56.75" y="237.9" font-size="9.0" text-anchor="middle" >Kaifeng</text><text class="r" x="23.5" y="298.8" font-size="8.6" text-anchor="end" >0</text><text class="r" x="23.5" y="271.75" font-size="8.6" text-anchor="end" >0.5</text><text class="r" x="23.5" y="244.7" font-size="8.6" text-anchor="end" >1</text><text class="r" x="26" y="304.9" font-size="8.6" text-anchor="middle" >0</text><text class="r" x="46.5" y="304.9" font-size="8.6" text-anchor="middle" >5</text><text class="r" x="67" y="304.9" font-size="8.6" text-anchor="middle" >10</text><text class="r" x="87.5" y="304.9" font-size="8.6" text-anchor="middle" >15</text><text class="r" x="0" y="0" font-size="8.6" text-anchor="middle"  transform="translate(11.4 267.45) rotate(-90)">Den</text></g>
<g><clipPath id="c16"><rect x="107.45" y="238.4" width="63.45" height="56.1"/></clipPath><g clip-path="url(#c16)" fill="none" stroke-width="0.85" stroke-linejoin="round"><path d="M108.14 240.36C109.58 241.67 114.69 245.20 116.79 248.21C118.88 251.23 119.27 254.89 120.71 258.43C122.15 261.96 123.86 266.55 125.43 269.43C127.00 272.31 128.57 274.01 130.14 275.71C131.71 277.42 132.24 278.91 134.86 279.64C137.48 280.38 140.36 280.04 145.86 280.11C151.36 280.19 164.19 280.11 167.86 280.11" stroke="#555555"/><path d="M108.14 240.36C109.58 241.59 114.69 244.86 116.79 247.74C118.88 250.62 119.27 254.29 120.71 257.64C122.15 261.00 123.86 264.98 125.43 267.86C127.00 270.74 128.57 273.10 130.14 274.93C131.71 276.76 132.24 278.07 134.86 278.86C137.48 279.64 140.36 279.51 145.86 279.64C151.36 279.77 164.19 279.64 167.86 279.64" stroke="#6a6ad0"/><path d="M108.14 240.36C109.58 241.54 114.56 244.68 116.79 247.43C119.01 250.18 119.93 253.71 121.50 256.86C123.07 260.00 124.64 263.40 126.21 266.29C127.79 269.17 129.36 272.18 130.93 274.14C132.50 276.11 133.15 277.29 135.64 278.07C138.13 278.86 140.49 278.67 145.86 278.86C151.23 279.04 164.19 279.12 167.86 279.17" stroke="#66c466"/><path d="M108.14 240.36C109.58 241.40 114.43 244.15 116.79 246.64C119.14 249.13 120.58 252.40 122.29 255.29C123.99 258.17 125.43 261.18 127.00 263.93C128.57 266.68 130.14 269.82 131.71 271.79C133.29 273.75 134.07 274.80 136.43 275.71C138.79 276.63 140.62 276.97 145.86 277.29C151.10 277.60 164.19 277.55 167.86 277.60" stroke="#ea6a78"/><path d="M108.14 240.36C109.58 241.27 114.43 243.63 116.79 245.86C119.14 248.08 120.58 250.96 122.29 253.71C123.99 256.46 125.43 259.53 127.00 262.36C128.57 265.19 130.14 268.59 131.71 270.69C133.29 272.78 134.07 273.96 136.43 274.93C138.79 275.90 140.62 276.16 145.86 276.50C151.10 276.84 164.19 276.89 167.86 276.97" stroke="#c470d0"/><path d="M108.44 239.13l-1.5 2.7h3zM116.94 247.12l-1.5 2.7h3zM125.44 267.95l-1.5 2.7h3zM133.94 277.38l-1.5 2.7h3zM142.44 278.47l-1.5 2.7h3zM150.94 278.61l-1.5 2.7h3zM159.44 278.61l-1.5 2.7h3z" fill="#484848" fill-opacity="0.12" stroke="#484848" stroke-width="0.6"/><path d="M108.44 239.11l-1.5 2.7h3zM116.94 246.64l-1.5 2.7h3zM125.44 266.38l-1.5 2.7h3zM133.94 276.6l-1.5 2.7h3zM142.44 277.9l-1.5 2.7h3zM150.94 278.14l-1.5 2.7h3zM159.44 278.14l-1.5 2.7h3z" fill="#5050c0" fill-opacity="0.12" stroke="#5050c0" stroke-width="0.6"/><path d="M108.44 239.1l-1.5 2.7h3zM116.94 246.24l-1.5 2.7h3zM125.44 263.24l-1.5 2.7h3zM133.94 275.15l-1.5 2.7h3zM142.44 277.09l-1.5 2.7h3zM150.94 277.43l-1.5 2.7h3zM159.44 277.55l-1.5 2.7h3z" fill="#40a840" fill-opacity="0.12" stroke="#40a840" stroke-width="0.6"/><path d="M108.44 239.08l-1.5 2.7h3zM116.94 245.39l-1.5 2.7h3zM125.44 259.57l-1.5 2.7h3zM133.94 272.14l-1.5 2.7h3zM142.44 275.22l-1.5 2.7h3zM150.94 275.86l-1.5 2.7h3zM159.44 275.98l-1.5 2.7h3z" fill="#d82c54" fill-opacity="0.12" stroke="#d82c54" stroke-width="0.6"/><path d="M108.44 239.05l-1.5 2.7h3zM116.94 244.58l-1.5 2.7h3zM125.44 258l-1.5 2.7h3zM133.94 271.19l-1.5 2.7h3zM142.44 274.43l-1.5 2.7h3zM150.94 275.11l-1.5 2.7h3zM159.44 275.29l-1.5 2.7h3z" fill="#c03c98" fill-opacity="0.12" stroke="#c03c98" stroke-width="0.6"/></g><path d="M127.93 294.5v-1.3" stroke="#a0a0a0" stroke-width="0.6"/><path d="M148.42 294.5v-1.3" stroke="#a0a0a0" stroke-width="0.6"/><path d="M107.45 267.45h1.3" stroke="#a0a0a0" stroke-width="0.6"/><rect x="107.45" y="240.4" width="61.45" height="54.1" fill="none" stroke="#bababa" stroke-width="1"/><text class="r" x="138.18" y="237.9" font-size="9.0" text-anchor="middle" >Liaoyang</text><text class="r" x="104.95" y="298.8" font-size="8.6" text-anchor="end" >0</text><text class="r" x="104.95" y="271.75" font-size="8.6" text-anchor="end" >0.5</text><text class="r" x="104.95" y="244.7" font-size="8.6" text-anchor="end" >1</text><text class="r" x="107.45" y="304.9" font-size="8.6" text-anchor="middle" >0</text><text class="r" x="127.93" y="304.9" font-size="8.6" text-anchor="middle" >5</text><text class="r" x="148.42" y="304.9" font-size="8.6" text-anchor="middle" >10</text><text class="r" x="168.9" y="304.9" font-size="8.6" text-anchor="middle" >15</text></g>
<g><clipPath id="c17"><rect x="189" y="238.4" width="63.4" height="56.1"/></clipPath><g clip-path="url(#c17)" fill="none" stroke-width="0.85" stroke-linejoin="round"><path d="M190.14 240.36L198.79 255.29L207.43 280.43L215.29 285.93L223.93 286.71L248.29 287.03" stroke="#555555"/><path d="M190.14 240.36L198.79 252.14L207.43 275.71L215.29 284.36L223.93 286.4L248.29 287.03" stroke="#6a6ad0"/><path d="M190.14 240.36L198.79 248.21L207.43 271L215.29 281.21L223.93 285.14L248.29 286.71" stroke="#66c466"/><path d="M190.14 240.36L198.79 246.64L207.43 263.93L215.29 277.29L223.93 282.79L231.79 285.93L248.29 286.71" stroke="#ea6a78"/><path d="M190.14 240.36L198.79 245.07L207.43 260.79L215.29 274.14L223.93 281.21L231.79 285.46L248.29 286.4" stroke="#c470d0"/><path d="M190.44 239.38l-1.5 2.7h3zM198.94 254.24l-1.5 2.7h3zM207.44 278.94l-1.5 2.7h3zM215.94 284.49l-1.5 2.7h3zM224.44 285.22l-1.5 2.7h3zM232.94 285.33l-1.5 2.7h3zM241.44 285.44l-1.5 2.7h3z" fill="#484848" fill-opacity="0.12" stroke="#484848" stroke-width="0.6"/><path d="M190.44 239.27l-1.5 2.7h3zM198.94 251.07l-1.5 2.7h3zM207.44 274.23l-1.5 2.7h3zM215.94 283.01l-1.5 2.7h3zM224.44 284.91l-1.5 2.7h3zM232.94 285.13l-1.5 2.7h3zM241.44 285.35l-1.5 2.7h3z" fill="#5050c0" fill-opacity="0.12" stroke="#5050c0" stroke-width="0.6"/><path d="M190.44 239.13l-1.5 2.7h3zM198.94 247.13l-1.5 2.7h3zM207.44 269.52l-1.5 2.7h3zM215.94 280.01l-1.5 2.7h3zM224.44 283.68l-1.5 2.7h3zM232.94 284.22l-1.5 2.7h3zM241.44 284.77l-1.5 2.7h3z" fill="#40a840" fill-opacity="0.12" stroke="#40a840" stroke-width="0.6"/><path d="M190.44 239.08l-1.5 2.7h3zM198.94 245.46l-1.5 2.7h3zM207.44 262.45l-1.5 2.7h3zM215.94 276.2l-1.5 2.7h3zM224.44 281.49l-1.5 2.7h3zM232.94 284.48l-1.5 2.7h3zM241.44 284.89l-1.5 2.7h3z" fill="#d82c54" fill-opacity="0.12" stroke="#d82c54" stroke-width="0.6"/><path d="M190.44 239.02l-1.5 2.7h3zM198.94 243.86l-1.5 2.7h3zM207.44 259.31l-1.5 2.7h3zM215.94 273.18l-1.5 2.7h3zM224.44 279.99l-1.5 2.7h3zM232.94 284.02l-1.5 2.7h3zM241.44 284.51l-1.5 2.7h3z" fill="#c03c98" fill-opacity="0.12" stroke="#c03c98" stroke-width="0.6"/></g><path d="M209.47 294.5v-1.3" stroke="#a0a0a0" stroke-width="0.6"/><path d="M229.93 294.5v-1.3" stroke="#a0a0a0" stroke-width="0.6"/><path d="M189 267.45h1.3" stroke="#a0a0a0" stroke-width="0.6"/><rect x="189" y="240.4" width="61.4" height="54.1" fill="none" stroke="#bababa" stroke-width="1"/><text class="r" x="219.7" y="237.9" font-size="9.0" text-anchor="middle" >Luohe</text><text class="r" x="186.5" y="298.8" font-size="8.6" text-anchor="end" >0</text><text class="r" x="186.5" y="271.75" font-size="8.6" text-anchor="end" >0.5</text><text class="r" x="186.5" y="244.7" font-size="8.6" text-anchor="end" >1</text><text class="r" x="189" y="304.9" font-size="8.6" text-anchor="middle" >0</text><text class="r" x="209.47" y="304.9" font-size="8.6" text-anchor="middle" >5</text><text class="r" x="229.93" y="304.9" font-size="8.6" text-anchor="middle" >10</text><text class="r" x="250.4" y="304.9" font-size="8.6" text-anchor="middle" >15</text></g>
<g><clipPath id="c18"><rect x="270.5" y="238.4" width="63.4" height="56.1"/></clipPath><g clip-path="url(#c18)" fill="none" stroke-width="0.85" stroke-linejoin="round"><path d="M271.14 240.36C272.71 241.80 277.69 244.68 280.57 249.00C283.45 253.32 285.81 260.52 288.43 266.29C291.05 272.05 293.54 279.38 296.29 283.57C299.04 287.76 302.05 289.86 304.93 291.43C307.81 293.00 309.25 292.69 313.57 293.00C317.89 293.31 327.98 293.26 330.86 293.31" stroke="#555555"/><path d="M271.14 240.36C272.71 241.54 277.56 243.76 280.57 247.43C283.58 251.10 286.46 257.25 289.21 262.36C291.96 267.46 294.45 273.62 297.07 278.07C299.69 282.52 302.18 286.64 304.93 289.07C307.68 291.51 309.25 292.03 313.57 292.69C317.89 293.34 327.98 292.95 330.86 293.00" stroke="#6a6ad0"/><path d="M271.14 240.36C272.71 241.27 277.56 242.71 280.57 245.86C283.58 249.00 286.46 255.29 289.21 259.21C291.96 263.14 294.32 265.37 297.07 269.43C299.82 273.49 302.96 280.04 305.71 283.57C308.46 287.11 309.38 289.12 313.57 290.64C317.76 292.16 327.98 292.35 330.86 292.69" stroke="#66c466"/><path d="M271.14 240.36C272.71 241.01 277.69 242.45 280.57 244.29C283.45 246.12 285.68 248.21 288.43 251.36C291.18 254.50 294.19 258.95 297.07 263.14C299.95 267.33 302.96 272.70 305.71 276.50C308.46 280.30 310.95 283.70 313.57 285.93C316.19 288.15 318.55 288.94 321.43 289.86C324.31 290.77 329.29 291.17 330.86 291.43" stroke="#ea6a78"/><path d="M271.14 240.36C272.71 241.01 277.43 242.19 280.57 244.29C283.71 246.38 287.25 250.57 290.00 252.93C292.75 255.29 294.45 255.02 297.07 258.43C299.69 261.83 302.96 269.30 305.71 273.36C308.46 277.42 310.95 280.43 313.57 282.79C316.19 285.14 318.55 286.32 321.43 287.50C324.31 288.68 329.29 289.46 330.86 289.86" stroke="#c470d0"/><path d="M271.44 239.13l-1.5 2.7h3zM279.94 246.92l-1.5 2.7h3zM288.44 264.82l-1.5 2.7h3zM296.94 282.67l-1.5 2.7h3zM305.44 290.02l-1.5 2.7h3zM313.94 291.51l-1.5 2.7h3zM322.44 291.66l-1.5 2.7h3z" fill="#484848" fill-opacity="0.12" stroke="#484848" stroke-width="0.6"/><path d="M271.44 239.08l-1.5 2.7h3zM279.94 245.46l-1.5 2.7h3zM288.44 259.52l-1.5 2.7h3zM296.94 276.31l-1.5 2.7h3zM305.44 287.79l-1.5 2.7h3zM313.94 291.19l-1.5 2.7h3zM322.44 291.35l-1.5 2.7h3z" fill="#5050c0" fill-opacity="0.12" stroke="#5050c0" stroke-width="0.6"/><path d="M271.44 239.03l-1.5 2.7h3zM279.94 243.99l-1.5 2.7h3zM288.44 256.52l-1.5 2.7h3zM296.94 267.76l-1.5 2.7h3zM305.44 281.63l-1.5 2.7h3zM313.94 289.19l-1.5 2.7h3zM322.44 290.19l-1.5 2.7h3z" fill="#40a840" fill-opacity="0.12" stroke="#40a840" stroke-width="0.6"/><path d="M271.44 238.98l-1.5 2.7h3zM279.94 242.52l-1.5 2.7h3zM288.44 249.88l-1.5 2.7h3zM296.94 261.47l-1.5 2.7h3zM305.44 274.58l-1.5 2.7h3zM313.94 284.61l-1.5 2.7h3zM322.44 288.53l-1.5 2.7h3z" fill="#d82c54" fill-opacity="0.12" stroke="#d82c54" stroke-width="0.6"/><path d="M271.44 238.98l-1.5 2.7h3zM279.94 242.52l-1.5 2.7h3zM288.44 250l-1.5 2.7h3zM296.94 256.83l-1.5 2.7h3zM305.44 271.39l-1.5 2.7h3zM313.94 281.51l-1.5 2.7h3zM322.44 286.25l-1.5 2.7h3z" fill="#c03c98" fill-opacity="0.12" stroke="#c03c98" stroke-width="0.6"/></g><path d="M290.97 294.5v-1.3" stroke="#a0a0a0" stroke-width="0.6"/><path d="M311.43 294.5v-1.3" stroke="#a0a0a0" stroke-width="0.6"/><path d="M270.5 267.45h1.3" stroke="#a0a0a0" stroke-width="0.6"/><rect x="270.5" y="240.4" width="61.4" height="54.1" fill="none" stroke="#bababa" stroke-width="1"/><text class="r" x="301.2" y="237.9" font-size="9.0" text-anchor="middle" >Nanning</text><text class="r" x="268" y="298.8" font-size="8.6" text-anchor="end" >0</text><text class="r" x="268" y="271.75" font-size="8.6" text-anchor="end" >0.5</text><text class="r" x="268" y="244.7" font-size="8.6" text-anchor="end" >1</text><text class="r" x="270.5" y="304.9" font-size="8.6" text-anchor="middle" >0</text><text class="r" x="290.97" y="304.9" font-size="8.6" text-anchor="middle" >5</text><text class="r" x="311.43" y="304.9" font-size="8.6" text-anchor="middle" >10</text><text class="r" x="331.9" y="304.9" font-size="8.6" text-anchor="middle" >15</text></g>
<g><clipPath id="c19"><rect x="352" y="238.4" width="63.7" height="56.1"/></clipPath><g clip-path="url(#c19)" fill="none" stroke-width="0.85" stroke-linejoin="round"><path d="M352.36 240.36C353.93 241.14 359.56 242.58 361.79 245.07C364.01 247.56 364.40 251.49 365.71 255.29C367.02 259.08 368.20 263.93 369.64 267.86C371.08 271.79 372.79 275.98 374.36 278.86C375.93 281.74 377.11 283.78 379.07 285.14C381.04 286.50 380.51 286.64 386.14 287.03C391.77 287.42 408.40 287.42 412.86 287.50" stroke="#555555"/><path d="M352.36 240.36C353.93 241.14 359.56 242.71 361.79 245.07C364.01 247.43 364.40 250.96 365.71 254.50C367.02 258.04 368.20 262.36 369.64 266.29C371.08 270.21 372.79 275.06 374.36 278.07C375.93 281.08 377.11 282.92 379.07 284.36C381.04 285.80 380.51 286.27 386.14 286.71C391.77 287.16 408.40 286.98 412.86 287.03" stroke="#6a6ad0"/><path d="M352.36 240.36C353.93 241.01 359.43 242.45 361.79 244.29C364.14 246.12 364.93 248.48 366.50 251.36C368.07 254.24 369.64 258.04 371.21 261.57C372.79 265.11 374.23 269.30 375.93 272.57C377.63 275.85 379.46 279.25 381.43 281.21C383.39 283.18 382.48 283.57 387.71 284.36C392.95 285.14 408.67 285.67 412.86 285.93" stroke="#66c466"/><path d="M352.36 240.36C353.93 240.88 359.30 242.19 361.79 243.50C364.27 244.81 365.58 245.99 367.29 248.21C368.99 250.44 370.43 253.58 372.00 256.86C373.57 260.13 375.01 264.45 376.71 267.86C378.42 271.26 380.12 274.80 382.21 277.29C384.31 279.77 384.18 281.48 389.29 282.79C394.39 284.10 408.93 284.75 412.86 285.14" stroke="#ea6a78"/><path d="M352.36 240.36C353.93 240.88 359.17 242.27 361.79 243.50C364.40 244.73 366.24 245.65 368.07 247.74C369.90 249.84 371.21 252.85 372.79 256.07C374.36 259.29 375.80 263.67 377.50 267.07C379.20 270.48 380.90 273.96 383.00 276.50C385.10 279.04 385.10 280.93 390.07 282.31C395.05 283.70 409.06 284.41 412.86 284.83" stroke="#c470d0"/><path d="M352.66 239.01l-1.5 2.7h3zM361.16 243.26l-1.5 2.7h3zM369.66 266.39l-1.5 2.7h3zM378.16 282.42l-1.5 2.7h3zM386.66 285.54l-1.5 2.7h3zM395.16 285.69l-1.5 2.7h3zM403.66 285.84l-1.5 2.7h3zM412.16 285.99l-1.5 2.7h3z" fill="#484848" fill-opacity="0.12" stroke="#484848" stroke-width="0.6"/><path d="M352.66 239.01l-1.5 2.7h3zM361.16 243.26l-1.5 2.7h3zM369.66 264.82l-1.5 2.7h3zM378.16 281.64l-1.5 2.7h3zM386.66 285.22l-1.5 2.7h3zM395.16 285.32l-1.5 2.7h3zM403.66 285.42l-1.5 2.7h3zM412.16 285.52l-1.5 2.7h3z" fill="#5050c0" fill-opacity="0.12" stroke="#5050c0" stroke-width="0.6"/><path d="M352.66 238.98l-1.5 2.7h3zM361.16 242.52l-1.5 2.7h3zM369.66 256.7l-1.5 2.7h3zM378.16 274.57l-1.5 2.7h3zM386.66 282.33l-1.5 2.7h3zM395.16 283.32l-1.5 2.7h3zM403.66 283.85l-1.5 2.7h3zM412.16 284.38l-1.5 2.7h3z" fill="#40a840" fill-opacity="0.12" stroke="#40a840" stroke-width="0.6"/><path d="M352.66 238.96l-1.5 2.7h3zM361.16 241.79l-1.5 2.7h3zM369.66 251.06l-1.5 2.7h3zM378.16 268.83l-1.5 2.7h3zM386.66 279.24l-1.5 2.7h3zM395.16 281.87l-1.5 2.7h3zM403.66 282.72l-1.5 2.7h3zM412.16 283.57l-1.5 2.7h3z" fill="#d82c54" fill-opacity="0.12" stroke="#d82c54" stroke-width="0.6"/><path d="M352.66 238.96l-1.5 2.7h3zM361.16 241.79l-1.5 2.7h3zM369.66 249.04l-1.5 2.7h3zM378.16 266.7l-1.5 2.7h3zM386.66 278.01l-1.5 2.7h3zM395.16 281.38l-1.5 2.7h3zM403.66 282.31l-1.5 2.7h3zM412.16 283.25l-1.5 2.7h3z" fill="#c03c98" fill-opacity="0.12" stroke="#c03c98" stroke-width="0.6"/></g><path d="M372.57 294.5v-1.3" stroke="#a0a0a0" stroke-width="0.6"/><path d="M393.13 294.5v-1.3" stroke="#a0a0a0" stroke-width="0.6"/><path d="M352 267.45h1.3" stroke="#a0a0a0" stroke-width="0.6"/><rect x="352" y="240.4" width="61.7" height="54.1" fill="none" stroke="#bababa" stroke-width="1"/><text class="r" x="382.85" y="237.9" font-size="9.0" text-anchor="middle" >Nanyang</text><text class="r" x="349.5" y="298.8" font-size="8.6" text-anchor="end" >0</text><text class="r" x="349.5" y="271.75" font-size="8.6" text-anchor="end" >0.5</text><text class="r" x="349.5" y="244.7" font-size="8.6" text-anchor="end" >1</text><text class="r" x="352" y="304.9" font-size="8.6" text-anchor="middle" >0</text><text class="r" x="372.57" y="304.9" font-size="8.6" text-anchor="middle" >5</text><text class="r" x="393.13" y="304.9" font-size="8.6" text-anchor="middle" >10</text><text class="r" x="413.7" y="304.9" font-size="8.6" text-anchor="middle" >15</text></g>
<g><clipPath id="c20"><rect x="26" y="313.6" width="63.5" height="56.2"/></clipPath><g clip-path="url(#c20)" fill="none" stroke-width="0.85" stroke-linejoin="round"><path d="M26.36 315.83C27.27 316.01 30.15 315.96 31.86 316.93C33.56 317.90 35.26 319.68 36.57 321.64C37.88 323.61 38.67 325.70 39.71 328.71C40.76 331.73 41.81 336.31 42.86 339.71C43.90 343.12 44.82 346.39 46.00 349.14C47.18 351.89 48.36 354.38 49.93 356.21C51.50 358.05 52.94 359.10 55.43 360.14C57.92 361.19 60.54 361.92 64.86 362.50C69.18 363.08 78.61 363.42 81.36 363.60" stroke="#555555"/><path d="M26.36 315.83C27.27 316.01 30.02 315.96 31.86 316.93C33.69 317.90 35.79 319.68 37.36 321.64C38.93 323.61 39.98 326.23 41.29 328.71C42.60 331.20 43.77 333.69 45.21 336.57C46.65 339.45 48.23 343.25 49.93 346.00C51.63 348.75 53.20 351.11 55.43 353.07C57.65 355.04 60.67 356.61 63.29 357.79C65.90 358.96 68.13 359.49 71.14 360.14C74.15 360.80 79.65 361.45 81.36 361.71" stroke="#6a6ad0"/><path d="M26.36 315.83C27.27 316.01 29.89 315.96 31.86 316.93C33.82 317.90 36.31 319.68 38.14 321.64C39.98 323.61 41.29 326.36 42.86 328.71C44.43 331.07 45.87 333.43 47.57 335.79C49.27 338.14 51.24 340.76 53.07 342.86C54.90 344.95 56.35 346.65 58.57 348.36C60.80 350.06 63.81 351.63 66.43 353.07C69.05 354.51 71.80 355.95 74.29 357.00C76.77 358.05 80.18 358.96 81.36 359.36" stroke="#66c466"/><path d="M26.36 315.83C27.27 316.01 29.89 316.09 31.86 316.93C33.82 317.77 36.18 319.15 38.14 320.86C40.11 322.56 41.81 324.92 43.64 327.14C45.48 329.37 47.31 331.86 49.14 334.21C50.98 336.57 52.81 339.19 54.64 341.29C56.48 343.38 57.92 345.08 60.14 346.79C62.37 348.49 65.38 350.06 68.00 351.50C70.62 352.94 73.63 354.38 75.86 355.43C78.08 356.48 80.44 357.39 81.36 357.79" stroke="#ea6a78"/><path d="M26.36 315.83C27.27 315.93 29.89 315.67 31.86 316.46C33.82 317.24 36.18 318.89 38.14 320.54C40.11 322.19 41.81 324.21 43.64 326.36C45.48 328.50 47.31 331.07 49.14 333.43C50.98 335.79 52.81 338.40 54.64 340.50C56.48 342.60 57.92 344.30 60.14 346.00C62.37 347.70 65.38 349.27 68.00 350.71C70.62 352.15 73.63 353.54 75.86 354.64C78.08 355.74 80.44 356.87 81.36 357.31" stroke="#c470d0"/><path d="M26.66 314.39l-1.5 2.7h3zM29.26 314.91l-1.5 2.7h3zM31.86 315.43l-1.5 2.7h3zM34.46 318.03l-1.5 2.7h3zM37.06 321.24l-1.5 2.7h3zM39.66 327.09l-1.5 2.7h3zM42.26 336.11l-1.5 2.7h3zM44.86 344.21l-1.5 2.7h3zM47.46 350.27l-1.5 2.7h3zM50.06 354.81l-1.5 2.7h3zM52.66 356.66l-1.5 2.7h3zM55.26 358.52l-1.5 2.7h3zM57.86 359.25l-1.5 2.7h3zM60.46 359.9l-1.5 2.7h3zM63.06 360.55l-1.5 2.7h3zM65.66 361.05l-1.5 2.7h3zM68.26 361.23l-1.5 2.7h3zM70.86 361.4l-1.5 2.7h3zM73.46 361.57l-1.5 2.7h3zM76.06 361.75l-1.5 2.7h3zM78.66 361.92l-1.5 2.7h3zM81.26 362.09l-1.5 2.7h3z" fill="#484848" fill-opacity="0.12" stroke="#484848" stroke-width="0.6"/><path d="M26.66 314.39l-1.5 2.7h3zM29.26 314.91l-1.5 2.7h3zM31.86 315.43l-1.5 2.7h3zM34.46 317.66l-1.5 2.7h3zM37.06 319.89l-1.5 2.7h3zM39.66 324.28l-1.5 2.7h3zM42.26 329.16l-1.5 2.7h3zM44.86 334.36l-1.5 2.7h3zM47.46 339.56l-1.5 2.7h3zM50.06 344.67l-1.5 2.7h3zM52.66 348.01l-1.5 2.7h3zM55.26 351.35l-1.5 2.7h3zM57.86 353.03l-1.5 2.7h3zM60.46 354.59l-1.5 2.7h3zM63.06 356.15l-1.5 2.7h3zM65.66 357l-1.5 2.7h3zM68.26 357.78l-1.5 2.7h3zM70.86 358.56l-1.5 2.7h3zM73.46 359l-1.5 2.7h3zM76.06 359.4l-1.5 2.7h3zM78.66 359.8l-1.5 2.7h3zM81.26 360.2l-1.5 2.7h3z" fill="#5050c0" fill-opacity="0.12" stroke="#5050c0" stroke-width="0.6"/><path d="M26.66 314.39l-1.5 2.7h3zM29.26 314.91l-1.5 2.7h3zM31.86 315.43l-1.5 2.7h3zM34.46 317.38l-1.5 2.7h3zM37.06 319.33l-1.5 2.7h3zM39.66 322.41l-1.5 2.7h3zM42.26 326.31l-1.5 2.7h3zM44.86 330.21l-1.5 2.7h3zM47.46 334.11l-1.5 2.7h3zM50.06 337.48l-1.5 2.7h3zM52.66 340.82l-1.5 2.7h3zM55.26 343.54l-1.5 2.7h3zM57.86 346.14l-1.5 2.7h3zM60.46 347.99l-1.5 2.7h3zM63.06 349.55l-1.5 2.7h3zM65.66 351.11l-1.5 2.7h3zM68.26 352.49l-1.5 2.7h3zM70.86 353.79l-1.5 2.7h3zM73.46 355.09l-1.5 2.7h3zM76.06 356.09l-1.5 2.7h3zM78.66 356.96l-1.5 2.7h3zM81.26 357.82l-1.5 2.7h3z" fill="#40a840" fill-opacity="0.12" stroke="#40a840" stroke-width="0.6"/><path d="M26.66 314.39l-1.5 2.7h3zM29.26 314.91l-1.5 2.7h3zM31.86 315.43l-1.5 2.7h3zM34.46 317.05l-1.5 2.7h3zM37.06 318.68l-1.5 2.7h3zM39.66 321.09l-1.5 2.7h3zM42.26 324.06l-1.5 2.7h3zM44.86 327.2l-1.5 2.7h3zM47.46 330.55l-1.5 2.7h3zM50.06 333.89l-1.5 2.7h3zM52.66 337.23l-1.5 2.7h3zM55.26 340.4l-1.5 2.7h3zM57.86 343l-1.5 2.7h3zM60.46 345.47l-1.5 2.7h3zM63.06 347.03l-1.5 2.7h3zM65.66 348.59l-1.5 2.7h3zM68.26 350.13l-1.5 2.7h3zM70.86 351.43l-1.5 2.7h3zM73.46 352.73l-1.5 2.7h3zM76.06 354.01l-1.5 2.7h3zM78.66 355.13l-1.5 2.7h3zM81.26 356.24l-1.5 2.7h3z" fill="#d82c54" fill-opacity="0.12" stroke="#d82c54" stroke-width="0.6"/><path d="M26.66 314.36l-1.5 2.7h3zM29.26 314.66l-1.5 2.7h3zM31.86 314.96l-1.5 2.7h3zM34.46 316.65l-1.5 2.7h3zM37.06 318.34l-1.5 2.7h3zM39.66 320.64l-1.5 2.7h3zM42.26 323.39l-1.5 2.7h3zM44.86 326.42l-1.5 2.7h3zM47.46 329.76l-1.5 2.7h3zM50.06 333.1l-1.5 2.7h3zM52.66 336.45l-1.5 2.7h3zM55.26 339.61l-1.5 2.7h3zM57.86 342.21l-1.5 2.7h3zM60.46 344.69l-1.5 2.7h3zM63.06 346.25l-1.5 2.7h3zM65.66 347.81l-1.5 2.7h3zM68.26 349.34l-1.5 2.7h3zM70.86 350.64l-1.5 2.7h3zM73.46 351.94l-1.5 2.7h3zM76.06 353.24l-1.5 2.7h3zM78.66 354.5l-1.5 2.7h3zM81.26 355.77l-1.5 2.7h3z" fill="#c03c98" fill-opacity="0.12" stroke="#c03c98" stroke-width="0.6"/></g><path d="M26 342.7h1.3" stroke="#a0a0a0" stroke-width="0.6"/><rect x="26" y="315.6" width="61.5" height="54.2" fill="none" stroke="#bababa" stroke-width="1"/><text class="r" x="56.75" y="313" font-size="9.0" text-anchor="middle" >Shanghai</text><text class="r" x="23.5" y="374.1" font-size="8.6" text-anchor="end" >0</text><text class="r" x="23.5" y="347" font-size="8.6" text-anchor="end" >0.5</text><text class="r" x="23.5" y="319.9" font-size="8.6" text-anchor="end" >1</text><text class="r" x="26" y="380.2" font-size="8.6" text-anchor="middle" >0</text><text class="r" x="87.5" y="380.2" font-size="8.6" text-anchor="middle" >50</text><text class="r" x="0" y="0" font-size="8.6" text-anchor="middle"  transform="translate(11.4 342.7) rotate(-90)">Den</text></g>
<g><clipPath id="c21"><rect x="107.45" y="313.6" width="63.45" height="56.2"/></clipPath><g clip-path="url(#c21)" fill="none" stroke-width="0.85" stroke-linejoin="round"><path d="M108.14 315.36C109.58 317.06 114.56 322.04 116.79 325.57C119.01 329.11 120.06 332.64 121.50 336.57C122.94 340.50 123.99 345.61 125.43 349.14C126.87 352.68 128.57 355.69 130.14 357.79C131.71 359.88 132.76 361.01 134.86 361.71C136.95 362.42 137.21 361.98 142.71 362.03C148.21 362.08 163.67 362.03 167.86 362.03" stroke="#555555"/><path d="M108.14 315.36C109.58 316.67 114.56 320.20 116.79 323.21C119.01 326.23 120.06 329.89 121.50 333.43C122.94 336.96 123.99 340.89 125.43 344.43C126.87 347.96 128.57 352.15 130.14 354.64C131.71 357.13 132.76 358.31 134.86 359.36C136.95 360.40 137.21 360.59 142.71 360.93C148.21 361.27 163.67 361.32 167.86 361.40" stroke="#6a6ad0"/><path d="M108.14 315.36C109.58 316.40 114.43 319.15 116.79 321.64C119.14 324.13 120.71 327.54 122.29 330.29C123.86 333.04 124.77 335.13 126.21 338.14C127.65 341.15 129.23 345.48 130.93 348.36C132.63 351.24 134.46 353.73 136.43 355.43C138.39 357.13 137.48 357.79 142.71 358.57C147.95 359.36 163.67 359.88 167.86 360.14" stroke="#66c466"/><path d="M108.14 315.36C109.58 316.27 114.43 318.89 116.79 320.86C119.14 322.82 120.58 324.79 122.29 327.14C123.99 329.50 125.17 331.99 127.00 335.00C128.83 338.01 131.19 342.33 133.29 345.21C135.38 348.10 137.21 350.32 139.57 352.29C141.93 354.25 142.71 355.82 147.43 357.00C152.14 358.18 164.45 358.96 167.86 359.36" stroke="#ea6a78"/><path d="M108.14 315.36C109.58 316.01 113.90 317.06 116.79 319.29C119.67 321.51 122.68 325.05 125.43 328.71C128.18 332.38 130.67 337.75 133.29 341.29C135.90 344.82 138.52 347.57 141.14 349.93C143.76 352.29 146.12 354.12 149.00 355.43C151.88 356.74 155.29 357.21 158.43 357.79C161.57 358.36 166.29 358.70 167.86 358.89" stroke="#c470d0"/><path d="M108.44 314.21l-1.5 2.7h3zM116.94 324.44l-1.5 2.7h3zM125.44 347.67l-1.5 2.7h3zM133.94 359.45l-1.5 2.7h3zM142.44 360.52l-1.5 2.7h3zM150.94 360.53l-1.5 2.7h3zM159.44 360.53l-1.5 2.7h3z" fill="#484848" fill-opacity="0.12" stroke="#484848" stroke-width="0.6"/><path d="M108.44 314.13l-1.5 2.7h3zM116.94 322.05l-1.5 2.7h3zM125.44 342.96l-1.5 2.7h3zM133.94 356.94l-1.5 2.7h3zM142.44 359.37l-1.5 2.7h3zM150.94 359.58l-1.5 2.7h3zM159.44 359.74l-1.5 2.7h3z" fill="#5050c0" fill-opacity="0.12" stroke="#5050c0" stroke-width="0.6"/><path d="M108.44 314.08l-1.5 2.7h3zM116.94 320.39l-1.5 2.7h3zM125.44 335.1l-1.5 2.7h3zM133.94 350.73l-1.5 2.7h3zM142.44 356.94l-1.5 2.7h3zM150.94 357.59l-1.5 2.7h3zM159.44 358.12l-1.5 2.7h3z" fill="#40a840" fill-opacity="0.12" stroke="#40a840" stroke-width="0.6"/><path d="M108.44 314.05l-1.5 2.7h3zM116.94 319.54l-1.5 2.7h3zM125.44 330.9l-1.5 2.7h3zM133.94 344.45l-1.5 2.7h3zM142.44 352.51l-1.5 2.7h3zM150.94 355.91l-1.5 2.7h3zM159.44 356.89l-1.5 2.7h3z" fill="#d82c54" fill-opacity="0.12" stroke="#d82c54" stroke-width="0.6"/><path d="M108.44 313.99l-1.5 2.7h3zM116.94 317.96l-1.5 2.7h3zM125.44 327.24l-1.5 2.7h3zM133.94 340.51l-1.5 2.7h3zM142.44 349.34l-1.5 2.7h3zM150.94 354.41l-1.5 2.7h3zM159.44 356.4l-1.5 2.7h3z" fill="#c03c98" fill-opacity="0.12" stroke="#c03c98" stroke-width="0.6"/></g><path d="M127.93 369.8v-1.3" stroke="#a0a0a0" stroke-width="0.6"/><path d="M148.42 369.8v-1.3" stroke="#a0a0a0" stroke-width="0.6"/><path d="M107.45 342.7h1.3" stroke="#a0a0a0" stroke-width="0.6"/><rect x="107.45" y="315.6" width="61.45" height="54.2" fill="none" stroke="#bababa" stroke-width="1"/><text class="r" x="138.18" y="313" font-size="9.0" text-anchor="middle" >Shangqiu</text><text class="r" x="104.95" y="374.1" font-size="8.6" text-anchor="end" >0</text><text class="r" x="104.95" y="347" font-size="8.6" text-anchor="end" >0.5</text><text class="r" x="104.95" y="319.9" font-size="8.6" text-anchor="end" >1</text><text class="r" x="107.45" y="380.2" font-size="8.6" text-anchor="middle" >0</text><text class="r" x="127.93" y="380.2" font-size="8.6" text-anchor="middle" >5</text><text class="r" x="148.42" y="380.2" font-size="8.6" text-anchor="middle" >10</text><text class="r" x="168.9" y="380.2" font-size="8.6" text-anchor="middle" >15</text></g>
<g><clipPath id="c22"><rect x="189" y="313.6" width="63.4" height="56.2"/></clipPath><g clip-path="url(#c22)" fill="none" stroke-width="0.85" stroke-linejoin="round"><path d="M189.36 315.83C190.54 315.93 194.33 315.49 196.43 316.46C198.52 317.43 200.36 319.21 201.93 321.64C203.50 324.08 204.55 327.54 205.86 331.07C207.17 334.61 208.48 339.32 209.79 342.86C211.10 346.39 212.27 349.80 213.71 352.29C215.15 354.77 216.60 356.48 218.43 357.79C220.26 359.10 222.10 359.54 224.71 360.14C227.33 360.75 230.21 361.14 234.14 361.40C238.07 361.66 245.93 361.66 248.29 361.71" stroke="#555555"/><path d="M189.36 315.83C190.54 315.93 194.33 315.62 196.43 316.46C198.52 317.30 200.23 318.55 201.93 320.86C203.63 323.16 205.20 327.01 206.64 330.29C208.08 333.56 209.13 337.10 210.57 340.50C212.01 343.90 213.71 348.10 215.29 350.71C216.86 353.33 218.17 354.85 220.00 356.21C221.83 357.58 223.40 358.18 226.29 358.89C229.17 359.59 233.62 360.12 237.29 360.46C240.95 360.80 246.45 360.85 248.29 360.93" stroke="#6a6ad0"/><path d="M189.36 315.83C190.54 315.93 194.20 315.75 196.43 316.46C198.65 317.16 200.88 318.29 202.71 320.07C204.55 321.85 205.86 324.39 207.43 327.14C209.00 329.89 210.44 333.30 212.14 336.57C213.85 339.85 215.68 343.85 217.64 346.79C219.61 349.72 221.70 352.34 223.93 354.17C226.15 356.00 228.25 356.92 231.00 357.79C233.75 358.65 237.55 359.02 240.43 359.36C243.31 359.70 246.98 359.75 248.29 359.83" stroke="#66c466"/><path d="M189.36 315.83C190.54 315.93 193.94 315.75 196.43 316.46C198.92 317.16 202.06 318.29 204.29 320.07C206.51 321.85 207.95 324.39 209.79 327.14C211.62 329.89 213.45 333.69 215.29 336.57C217.12 339.45 218.95 342.07 220.79 344.43C222.62 346.79 224.06 348.88 226.29 350.71C228.51 352.55 231.52 354.25 234.14 355.43C236.76 356.61 239.64 357.26 242.00 357.79C244.36 358.31 247.24 358.44 248.29 358.57" stroke="#ea6a78"/><path d="M189.36 315.83C190.54 315.93 193.94 315.83 196.43 316.46C198.92 317.09 202.06 317.95 204.29 319.60C206.51 321.25 207.95 323.66 209.79 326.36C211.62 329.05 213.45 332.90 215.29 335.79C217.12 338.67 218.95 341.29 220.79 343.64C222.62 346.00 224.06 348.10 226.29 349.93C228.51 351.76 231.52 353.41 234.14 354.64C236.76 355.87 239.64 356.71 242.00 357.31C244.36 357.92 247.24 358.10 248.29 358.26" stroke="#c470d0"/><path d="M189.66 314.36l-1.5 2.7h3zM193.96 314.74l-1.5 2.7h3zM198.26 316.68l-1.5 2.7h3zM202.56 321.65l-1.5 2.7h3zM206.86 332.57l-1.5 2.7h3zM211.16 344.65l-1.5 2.7h3zM215.46 352.82l-1.5 2.7h3zM219.76 356.78l-1.5 2.7h3zM224.06 358.4l-1.5 2.7h3zM228.36 359.13l-1.5 2.7h3zM232.66 359.7l-1.5 2.7h3zM236.96 359.96l-1.5 2.7h3zM241.26 360.06l-1.5 2.7h3zM245.56 360.15l-1.5 2.7h3z" fill="#484848" fill-opacity="0.12" stroke="#484848" stroke-width="0.6"/><path d="M189.66 314.36l-1.5 2.7h3zM193.96 314.74l-1.5 2.7h3zM198.26 316.42l-1.5 2.7h3zM202.56 320.61l-1.5 2.7h3zM206.86 329.34l-1.5 2.7h3zM211.16 340.27l-1.5 2.7h3zM215.46 349.41l-1.5 2.7h3zM219.76 354.43l-1.5 2.7h3zM224.06 356.44l-1.5 2.7h3zM228.36 357.68l-1.5 2.7h3zM232.66 358.3l-1.5 2.7h3zM236.96 358.91l-1.5 2.7h3zM241.26 359.13l-1.5 2.7h3zM245.56 359.31l-1.5 2.7h3z" fill="#5050c0" fill-opacity="0.12" stroke="#5050c0" stroke-width="0.6"/><path d="M189.66 314.36l-1.5 2.7h3zM193.96 314.74l-1.5 2.7h3zM198.26 316.01l-1.5 2.7h3zM202.56 318.48l-1.5 2.7h3zM206.86 324.79l-1.5 2.7h3zM211.16 333.1l-1.5 2.7h3zM215.46 341.23l-1.5 2.7h3zM219.76 347.77l-1.5 2.7h3zM224.06 352.74l-1.5 2.7h3zM228.36 354.93l-1.5 2.7h3zM232.66 356.56l-1.5 2.7h3zM236.96 357.28l-1.5 2.7h3zM241.26 357.91l-1.5 2.7h3zM245.56 358.16l-1.5 2.7h3z" fill="#40a840" fill-opacity="0.12" stroke="#40a840" stroke-width="0.6"/><path d="M189.66 314.36l-1.5 2.7h3zM193.96 314.74l-1.5 2.7h3zM198.26 315.8l-1.5 2.7h3zM202.56 317.78l-1.5 2.7h3zM206.86 321.88l-1.5 2.7h3zM211.16 327.99l-1.5 2.7h3zM215.46 335.32l-1.5 2.7h3zM219.76 341.46l-1.5 2.7h3zM224.06 346.67l-1.5 2.7h3zM228.36 350.46l-1.5 2.7h3zM232.66 353.04l-1.5 2.7h3zM236.96 354.77l-1.5 2.7h3zM241.26 356.06l-1.5 2.7h3zM245.56 356.73l-1.5 2.7h3z" fill="#d82c54" fill-opacity="0.12" stroke="#d82c54" stroke-width="0.6"/><path d="M189.66 314.36l-1.5 2.7h3zM193.96 314.74l-1.5 2.7h3zM198.26 315.69l-1.5 2.7h3zM202.56 317.41l-1.5 2.7h3zM206.86 321.26l-1.5 2.7h3zM211.16 327.21l-1.5 2.7h3zM215.46 334.53l-1.5 2.7h3zM219.76 340.67l-1.5 2.7h3zM224.06 345.88l-1.5 2.7h3zM228.36 349.67l-1.5 2.7h3zM232.66 352.25l-1.5 2.7h3zM236.96 354.1l-1.5 2.7h3zM241.26 355.56l-1.5 2.7h3zM245.56 356.35l-1.5 2.7h3z" fill="#c03c98" fill-opacity="0.12" stroke="#c03c98" stroke-width="0.6"/></g><path d="M209.47 369.8v-1.3" stroke="#a0a0a0" stroke-width="0.6"/><path d="M229.93 369.8v-1.3" stroke="#a0a0a0" stroke-width="0.6"/><path d="M189 342.7h1.3" stroke="#a0a0a0" stroke-width="0.6"/><rect x="189" y="315.6" width="61.4" height="54.2" fill="none" stroke="#bababa" stroke-width="1"/><text class="r" x="219.7" y="313" font-size="9.0" text-anchor="middle" >Shenyang</text><text class="r" x="186.5" y="374.1" font-size="8.6" text-anchor="end" >0</text><text class="r" x="186.5" y="347" font-size="8.6" text-anchor="end" >0.5</text><text class="r" x="186.5" y="319.9" font-size="8.6" text-anchor="end" >1</text><text class="r" x="189" y="380.2" font-size="8.6" text-anchor="middle" >0</text><text class="r" x="209.47" y="380.2" font-size="8.6" text-anchor="middle" >10</text><text class="r" x="229.93" y="380.2" font-size="8.6" text-anchor="middle" >20</text><text class="r" x="250.4" y="380.2" font-size="8.6" text-anchor="middle" >30</text></g>
<g><clipPath id="c23"><rect x="270.5" y="313.6" width="63.4" height="56.2"/></clipPath><g clip-path="url(#c23)" fill="none" stroke-width="0.85" stroke-linejoin="round"><path d="M270.36 315.83C271.80 315.88 276.51 315.30 279.00 316.14C281.49 316.98 283.45 318.24 285.29 320.86C287.12 323.48 288.56 327.93 290.00 331.86C291.44 335.79 292.62 340.76 293.93 344.43C295.24 348.10 296.42 351.24 297.86 353.86C299.30 356.48 300.74 358.70 302.57 360.14C304.40 361.58 306.24 361.98 308.86 362.50C311.48 363.02 315.14 363.10 318.29 363.29C321.43 363.47 326.14 363.55 327.71 363.60" stroke="#555555"/><path d="M270.36 315.83C271.80 315.88 276.51 315.30 279.00 316.14C281.49 316.98 283.32 318.24 285.29 320.86C287.25 323.48 289.21 328.19 290.79 331.86C292.36 335.52 293.27 339.45 294.71 342.86C296.15 346.26 297.73 349.67 299.43 352.29C301.13 354.90 302.83 357.05 304.93 358.57C307.02 360.09 308.20 360.75 312.00 361.40C315.80 362.05 325.10 362.32 327.71 362.50" stroke="#6a6ad0"/><path d="M270.36 315.83C271.80 315.88 276.38 315.30 279.00 316.14C281.62 316.98 283.98 318.76 286.07 320.86C288.17 322.95 289.74 325.70 291.57 328.71C293.40 331.73 295.24 335.65 297.07 338.93C298.90 342.20 300.61 345.74 302.57 348.36C304.54 350.98 306.50 352.94 308.86 354.64C311.21 356.35 313.57 357.65 316.71 358.57C319.86 359.49 325.88 359.88 327.71 360.14" stroke="#66c466"/><path d="M270.36 315.83C271.80 315.88 276.25 315.44 279.00 316.14C281.75 316.85 284.50 318.11 286.86 320.07C289.21 322.04 291.05 325.05 293.14 327.93C295.24 330.81 297.33 334.35 299.43 337.36C301.52 340.37 303.62 343.64 305.71 346.00C307.81 348.36 309.64 349.98 312.00 351.50C314.36 353.02 317.24 354.20 319.86 355.11C322.48 356.03 326.40 356.69 327.71 357.00" stroke="#ea6a78"/><path d="M270.36 315.83C271.80 315.88 276.25 315.44 279.00 316.14C281.75 316.85 284.50 318.24 286.86 320.07C289.21 321.90 291.05 324.39 293.14 327.14C295.24 329.89 297.33 333.69 299.43 336.57C301.52 339.45 303.62 342.20 305.71 344.43C307.81 346.65 309.64 348.36 312.00 349.93C314.36 351.50 317.24 352.81 319.86 353.86C322.48 354.90 326.40 355.82 327.71 356.21" stroke="#c470d0"/><path d="M270.66 314.34l-1.5 2.7h3zM276.96 314.57l-1.5 2.7h3zM283.26 317.84l-1.5 2.7h3zM289.56 329.32l-1.5 2.7h3zM295.86 347.56l-1.5 2.7h3zM302.16 358.09l-1.5 2.7h3zM308.46 360.85l-1.5 2.7h3zM314.76 361.49l-1.5 2.7h3zM321.06 361.88l-1.5 2.7h3zM327.36 362.09l-1.5 2.7h3z" fill="#484848" fill-opacity="0.12" stroke="#484848" stroke-width="0.6"/><path d="M270.66 314.34l-1.5 2.7h3zM276.96 314.57l-1.5 2.7h3zM283.26 317.84l-1.5 2.7h3zM289.56 327.9l-1.5 2.7h3zM295.86 343.64l-1.5 2.7h3zM302.16 353.9l-1.5 2.7h3zM308.46 358.48l-1.5 2.7h3zM314.76 360.09l-1.5 2.7h3zM321.06 360.53l-1.5 2.7h3zM327.36 360.98l-1.5 2.7h3z" fill="#5050c0" fill-opacity="0.12" stroke="#5050c0" stroke-width="0.6"/><path d="M270.66 314.34l-1.5 2.7h3zM276.96 314.57l-1.5 2.7h3zM283.26 317.48l-1.5 2.7h3zM289.56 324.34l-1.5 2.7h3zM295.86 335.17l-1.5 2.7h3zM302.16 346.15l-1.5 2.7h3zM308.46 352.74l-1.5 2.7h3zM314.76 356.09l-1.5 2.7h3zM321.06 357.69l-1.5 2.7h3zM327.36 358.59l-1.5 2.7h3z" fill="#40a840" fill-opacity="0.12" stroke="#40a840" stroke-width="0.6"/><path d="M270.66 314.34l-1.5 2.7h3zM276.96 314.57l-1.5 2.7h3zM283.26 316.77l-1.5 2.7h3zM289.56 321.95l-1.5 2.7h3zM295.86 330.5l-1.5 2.7h3zM302.16 339.61l-1.5 2.7h3zM308.46 346.9l-1.5 2.7h3zM314.76 351.27l-1.5 2.7h3zM321.06 353.9l-1.5 2.7h3zM327.36 355.41l-1.5 2.7h3z" fill="#d82c54" fill-opacity="0.12" stroke="#d82c54" stroke-width="0.6"/><path d="M270.66 314.34l-1.5 2.7h3zM276.96 314.57l-1.5 2.7h3zM283.26 316.77l-1.5 2.7h3zM289.56 321.61l-1.5 2.7h3zM295.86 329.71l-1.5 2.7h3zM302.16 338.48l-1.5 2.7h3zM308.46 345.33l-1.5 2.7h3zM314.76 349.81l-1.5 2.7h3zM321.06 352.72l-1.5 2.7h3zM327.36 354.61l-1.5 2.7h3z" fill="#c03c98" fill-opacity="0.12" stroke="#c03c98" stroke-width="0.6"/></g><path d="M301.2 369.8v-1.3" stroke="#a0a0a0" stroke-width="0.6"/><path d="M270.5 356.25h1.3" stroke="#a0a0a0" stroke-width="0.6"/><path d="M270.5 342.7h1.3" stroke="#a0a0a0" stroke-width="0.6"/><path d="M270.5 329.15h1.3" stroke="#a0a0a0" stroke-width="0.6"/><rect x="270.5" y="315.6" width="61.4" height="54.2" fill="none" stroke="#bababa" stroke-width="1"/><text class="r" x="301.2" y="313" font-size="9.0" text-anchor="middle" >Shijiazhuang</text><text class="r" x="268" y="374.1" font-size="8.6" text-anchor="end" >0.2</text><text class="r" x="268" y="360.55" font-size="8.6" text-anchor="end" >0.4</text><text class="r" x="268" y="347" font-size="8.6" text-anchor="end" >0.6</text><text class="r" x="268" y="333.45" font-size="8.6" text-anchor="end" >0.8</text><text class="r" x="270.5" y="380.2" font-size="8.6" text-anchor="middle" >0</text><text class="r" x="301.2" y="380.2" font-size="8.6" text-anchor="middle" >10</text><text class="r" x="331.9" y="380.2" font-size="8.6" text-anchor="middle" >20</text></g>
<g><clipPath id="c24"><rect x="352" y="313.6" width="63.7" height="56.2"/></clipPath><g clip-path="url(#c24)" fill="none" stroke-width="0.85" stroke-linejoin="round"><path d="M352.36 315.83C353.27 316.27 356.15 317.01 357.86 318.50C359.56 319.99 361.26 322.04 362.57 324.79C363.88 327.54 364.67 331.73 365.71 335.00C366.76 338.27 367.81 341.68 368.86 344.43C369.90 347.18 370.69 349.27 372.00 351.50C373.31 353.73 374.88 356.21 376.71 357.79C378.55 359.36 380.64 360.14 383.00 360.93C385.36 361.71 386.40 362.16 390.86 362.50C395.31 362.84 406.57 362.89 409.71 362.97" stroke="#555555"/><path d="M352.36 315.83C353.40 316.27 356.55 316.88 358.64 318.50C360.74 320.12 363.10 323.08 364.93 325.57C366.76 328.06 368.07 330.81 369.64 333.43C371.21 336.05 372.79 338.93 374.36 341.29C375.93 343.64 377.37 345.74 379.07 347.57C380.77 349.40 382.35 350.92 384.57 352.29C386.80 353.65 389.55 354.96 392.43 355.74C395.31 356.53 398.98 356.74 401.86 357.00C404.74 357.26 408.40 357.26 409.71 357.31" stroke="#6a6ad0"/><path d="M352.36 315.83C353.54 316.27 357.20 317.40 359.43 318.50C361.65 319.60 363.62 320.73 365.71 322.43C367.81 324.13 369.90 326.49 372.00 328.71C374.10 330.94 376.19 333.43 378.29 335.79C380.38 338.14 382.48 340.76 384.57 342.86C386.67 344.95 388.76 346.92 390.86 348.36C392.95 349.80 395.05 350.71 397.14 351.50C399.24 352.29 401.33 352.63 403.43 353.07C405.52 353.52 408.67 353.99 409.71 354.17" stroke="#66c466"/><path d="M352.36 315.83C353.54 316.20 357.20 317.19 359.43 318.03C361.65 318.87 363.62 319.73 365.71 320.86C367.81 321.98 369.90 323.35 372.00 324.79C374.10 326.23 376.19 327.67 378.29 329.50C380.38 331.33 382.48 333.82 384.57 335.79C386.67 337.75 388.76 339.71 390.86 341.29C392.95 342.86 395.05 344.17 397.14 345.21C399.24 346.26 401.33 346.97 403.43 347.57C405.52 348.17 408.67 348.62 409.71 348.83" stroke="#ea6a78"/><path d="M352.36 315.83C353.54 316.20 357.20 317.19 359.43 318.03C361.65 318.87 363.62 319.81 365.71 320.86C367.81 321.90 369.90 323.00 372.00 324.31C374.10 325.62 376.19 326.99 378.29 328.71C380.38 330.44 382.48 332.85 384.57 334.69C386.67 336.52 388.76 338.22 390.86 339.71C392.95 341.21 395.05 342.54 397.14 343.64C399.24 344.74 401.33 345.61 403.43 346.31C405.52 347.02 408.67 347.62 409.71 347.89" stroke="#c470d0"/><path d="M352.66 314.47l-1.5 2.7h3zM358.96 318.47l-1.5 2.7h3zM365.26 332.01l-1.5 2.7h3zM371.56 349l-1.5 2.7h3zM377.86 356.86l-1.5 2.7h3zM384.16 359.66l-1.5 2.7h3zM390.46 360.92l-1.5 2.7h3zM396.76 361.15l-1.5 2.7h3zM403.06 361.31l-1.5 2.7h3zM409.36 361.46l-1.5 2.7h3z" fill="#484848" fill-opacity="0.12" stroke="#484848" stroke-width="0.6"/><path d="M352.66 314.46l-1.5 2.7h3zM358.96 317.35l-1.5 2.7h3zM365.26 324.62l-1.5 2.7h3zM371.56 335.12l-1.5 2.7h3zM377.86 344.45l-1.5 2.7h3zM384.16 350.43l-1.5 2.7h3zM390.46 353.38l-1.5 2.7h3zM396.76 354.82l-1.5 2.7h3zM403.06 355.55l-1.5 2.7h3zM409.36 355.8l-1.5 2.7h3z" fill="#5050c0" fill-opacity="0.12" stroke="#5050c0" stroke-width="0.6"/><path d="M352.66 314.44l-1.5 2.7h3zM358.96 316.82l-1.5 2.7h3zM365.26 320.64l-1.5 2.7h3zM371.56 326.77l-1.5 2.7h3zM377.86 333.8l-1.5 2.7h3zM384.16 340.89l-1.5 2.7h3zM390.46 346.51l-1.5 2.7h3zM396.76 349.81l-1.5 2.7h3zM403.06 351.48l-1.5 2.7h3zM409.36 352.61l-1.5 2.7h3z" fill="#40a840" fill-opacity="0.12" stroke="#40a840" stroke-width="0.6"/><path d="M352.66 314.42l-1.5 2.7h3zM358.96 316.38l-1.5 2.7h3zM365.26 319.15l-1.5 2.7h3zM371.56 323.01l-1.5 2.7h3zM377.86 327.68l-1.5 2.7h3zM384.16 333.87l-1.5 2.7h3zM390.46 339.44l-1.5 2.7h3zM396.76 343.47l-1.5 2.7h3zM403.06 345.93l-1.5 2.7h3zM409.36 347.26l-1.5 2.7h3z" fill="#d82c54" fill-opacity="0.12" stroke="#d82c54" stroke-width="0.6"/><path d="M352.66 314.42l-1.5 2.7h3zM358.96 316.38l-1.5 2.7h3zM365.26 319.15l-1.5 2.7h3zM371.56 322.57l-1.5 2.7h3zM377.86 326.91l-1.5 2.7h3zM384.16 332.79l-1.5 2.7h3zM390.46 337.89l-1.5 2.7h3zM396.76 341.9l-1.5 2.7h3zM403.06 344.66l-1.5 2.7h3zM409.36 346.3l-1.5 2.7h3z" fill="#c03c98" fill-opacity="0.12" stroke="#c03c98" stroke-width="0.6"/></g><path d="M382.85 369.8v-1.3" stroke="#a0a0a0" stroke-width="0.6"/><path d="M352 342.7h1.3" stroke="#a0a0a0" stroke-width="0.6"/><rect x="352" y="315.6" width="61.7" height="54.2" fill="none" stroke="#bababa" stroke-width="1"/><text class="r" x="382.85" y="313" font-size="9.0" text-anchor="middle" >Suzhou(a)</text><text class="r" x="349.5" y="374.1" font-size="8.6" text-anchor="end" >0</text><text class="r" x="349.5" y="347" font-size="8.6" text-anchor="end" >0.5</text><text class="r" x="349.5" y="319.9" font-size="8.6" text-anchor="end" >1</text><text class="r" x="352" y="380.2" font-size="8.6" text-anchor="middle" >0</text><text class="r" x="382.85" y="380.2" font-size="8.6" text-anchor="middle" >10</text><text class="r" x="413.7" y="380.2" font-size="8.6" text-anchor="middle" >20</text></g>
<g><clipPath id="c25"><rect x="26" y="389.4" width="63.5" height="55.9"/></clipPath><g clip-path="url(#c25)" fill="none" stroke-width="0.85" stroke-linejoin="round"><path d="M28.71 390.83L41.29 416.29L53.86 436.71L66.11 437.97L78.21 438.29" stroke="#555555"/><path d="M28.71 390.83L41.29 410.79L53.86 434.36L66.11 437.97L78.21 438.29" stroke="#6a6ad0"/><path d="M28.71 390.83L41.29 402.46L53.86 429.17L66.11 437.97L78.21 438.29" stroke="#66c466"/><path d="M28.71 390.83L41.29 398.69L53.86 417.86L66.11 432.79L78.21 435.14" stroke="#ea6a78"/><path d="M28.71 390.83L41.29 398.69L53.86 417.07L66.11 430.43L78.21 434.36" stroke="#c470d0"/><path d="M29.01 389.94l-1.5 2.7h3zM41.31 414.83l-1.5 2.7h3zM53.61 434.82l-1.5 2.7h3zM65.91 436.45l-1.5 2.7h3zM78.21 436.79l-1.5 2.7h3z" fill="#484848" fill-opacity="0.12" stroke="#484848" stroke-width="0.6"/><path d="M29.01 389.8l-1.5 2.7h3zM41.31 409.34l-1.5 2.7h3zM53.61 432.4l-1.5 2.7h3zM65.91 436.41l-1.5 2.7h3zM78.21 436.79l-1.5 2.7h3z" fill="#5050c0" fill-opacity="0.12" stroke="#5050c0" stroke-width="0.6"/><path d="M29.01 389.61l-1.5 2.7h3zM41.31 401.02l-1.5 2.7h3zM53.61 427.16l-1.5 2.7h3zM65.91 436.33l-1.5 2.7h3zM78.21 436.79l-1.5 2.7h3z" fill="#40a840" fill-opacity="0.12" stroke="#40a840" stroke-width="0.6"/><path d="M29.01 389.52l-1.5 2.7h3zM41.31 397.23l-1.5 2.7h3zM53.61 415.99l-1.5 2.7h3zM65.91 431.04l-1.5 2.7h3zM78.21 433.64l-1.5 2.7h3z" fill="#d82c54" fill-opacity="0.12" stroke="#d82c54" stroke-width="0.6"/><path d="M29.01 389.52l-1.5 2.7h3zM41.31 397.23l-1.5 2.7h3zM53.61 415.22l-1.5 2.7h3zM65.91 428.71l-1.5 2.7h3zM78.21 432.86l-1.5 2.7h3z" fill="#c03c98" fill-opacity="0.12" stroke="#c03c98" stroke-width="0.6"/></g><path d="M56.75 445.3v-1.3" stroke="#a0a0a0" stroke-width="0.6"/><path d="M26 418.35h1.3" stroke="#a0a0a0" stroke-width="0.6"/><rect x="26" y="391.4" width="61.5" height="53.9" fill="none" stroke="#bababa" stroke-width="1"/><text class="r" x="56.75" y="388.6" font-size="9.0" text-anchor="middle" >Suzhou(b)</text><text class="r" x="23.5" y="449.6" font-size="8.6" text-anchor="end" >0</text><text class="r" x="23.5" y="422.65" font-size="8.6" text-anchor="end" >0.5</text><text class="r" x="23.5" y="395.7" font-size="8.6" text-anchor="end" >1</text><text class="r" x="26" y="455.7" font-size="8.6" text-anchor="middle" >0</text><text class="r" x="56.75" y="455.7" font-size="8.6" text-anchor="middle" >5</text><text class="r" x="87.5" y="455.7" font-size="8.6" text-anchor="middle" >10</text><text class="r" x="0" y="0" font-size="8.6" text-anchor="middle"  transform="translate(11.4 418.35) rotate(-90)">Den</text></g>
<g><clipPath id="c26"><rect x="107.45" y="389.4" width="63.45" height="55.9"/></clipPath><g clip-path="url(#c26)" fill="none" stroke-width="0.85" stroke-linejoin="round"><path d="M107.36 390.83C108.80 391.01 113.77 390.83 116.00 391.93C118.23 393.03 119.40 394.94 120.71 397.43C122.02 399.92 122.81 403.19 123.86 406.86C124.90 410.52 125.95 415.76 127.00 419.43C128.05 423.10 128.96 426.24 130.14 428.86C131.32 431.48 132.50 433.57 134.07 435.14C135.64 436.71 137.08 437.55 139.57 438.29C142.06 439.02 144.42 439.28 149.00 439.54C153.58 439.80 164.06 439.80 167.07 439.86" stroke="#555555"/><path d="M107.36 390.83C108.80 391.01 113.64 390.83 116.00 391.93C118.36 393.03 119.93 394.94 121.50 397.43C123.07 399.92 124.12 403.45 125.43 406.86C126.74 410.26 128.05 414.71 129.36 417.86C130.67 421.00 131.85 423.36 133.29 425.71C134.73 428.07 135.90 430.43 138.00 432.00C140.10 433.57 142.98 434.41 145.86 435.14C148.74 435.88 151.75 436.14 155.29 436.40C158.82 436.66 165.11 436.66 167.07 436.71" stroke="#6a6ad0"/><path d="M107.36 390.83C108.80 391.01 113.51 390.96 116.00 391.93C118.49 392.90 120.45 394.42 122.29 396.64C124.12 398.87 125.56 402.40 127.00 405.29C128.44 408.17 129.49 411.18 130.93 413.93C132.37 416.68 133.94 419.43 135.64 421.79C137.35 424.14 138.92 426.37 141.14 428.07C143.37 429.77 146.12 431.08 149.00 432.00C151.88 432.92 155.42 433.26 158.43 433.57C161.44 433.89 165.63 433.83 167.07 433.89" stroke="#66c466"/><path d="M107.36 390.83C108.80 391.01 113.38 391.22 116.00 391.93C118.62 392.64 120.98 393.11 123.07 395.07C125.17 397.04 126.87 400.70 128.57 403.71C130.27 406.73 131.71 410.39 133.29 413.14C134.86 415.89 136.30 418.12 138.00 420.21C139.70 422.31 141.40 424.33 143.50 425.71C145.60 427.10 148.08 427.89 150.57 428.54C153.06 429.20 155.68 429.38 158.43 429.64C161.18 429.90 165.63 430.04 167.07 430.11" stroke="#ea6a78"/><path d="M107.36 390.83C108.80 391.01 113.38 391.22 116.00 391.93C118.62 392.64 120.98 393.24 123.07 395.07C125.17 396.90 126.87 400.05 128.57 402.93C130.27 405.81 131.71 409.61 133.29 412.36C134.86 415.11 136.30 417.33 138.00 419.43C139.70 421.52 141.40 423.57 143.50 424.93C145.60 426.29 148.08 426.95 150.57 427.60C153.06 428.25 155.68 428.60 158.43 428.86C161.18 429.12 165.63 429.12 167.07 429.17" stroke="#c470d0"/><path d="M107.66 389.37l-1.5 2.7h3zM111.96 389.91l-1.5 2.7h3zM116.26 390.73l-1.5 2.7h3zM120.56 395.75l-1.5 2.7h3zM124.86 409.36l-1.5 2.7h3zM129.16 424.4l-1.5 2.7h3zM133.46 432.66l-1.5 2.7h3zM137.76 435.75l-1.5 2.7h3zM142.06 437.12l-1.5 2.7h3zM146.36 437.69l-1.5 2.7h3zM150.66 438.07l-1.5 2.7h3zM154.96 438.15l-1.5 2.7h3zM159.26 438.22l-1.5 2.7h3zM163.56 438.3l-1.5 2.7h3z" fill="#484848" fill-opacity="0.12" stroke="#484848" stroke-width="0.6"/><path d="M107.66 389.37l-1.5 2.7h3zM111.96 389.91l-1.5 2.7h3zM116.26 390.69l-1.5 2.7h3zM120.56 394.99l-1.5 2.7h3zM124.86 403.99l-1.5 2.7h3zM129.16 415.8l-1.5 2.7h3zM133.46 424.44l-1.5 2.7h3zM137.76 430.18l-1.5 2.7h3zM142.06 432.12l-1.5 2.7h3zM146.36 433.71l-1.5 2.7h3zM150.66 434.28l-1.5 2.7h3zM154.96 434.86l-1.5 2.7h3zM159.26 435.01l-1.5 2.7h3zM163.56 435.12l-1.5 2.7h3z" fill="#5050c0" fill-opacity="0.12" stroke="#5050c0" stroke-width="0.6"/><path d="M107.66 389.37l-1.5 2.7h3zM111.96 389.91l-1.5 2.7h3zM116.26 390.62l-1.5 2.7h3zM120.56 393.85l-1.5 2.7h3zM124.86 399.86l-1.5 2.7h3zM129.16 408.53l-1.5 2.7h3zM133.46 416.64l-1.5 2.7h3zM137.76 422.7l-1.5 2.7h3zM142.06 427.03l-1.5 2.7h3zM146.36 429.18l-1.5 2.7h3zM150.66 430.78l-1.5 2.7h3zM154.96 431.49l-1.5 2.7h3zM159.26 432.1l-1.5 2.7h3zM163.56 432.26l-1.5 2.7h3z" fill="#40a840" fill-opacity="0.12" stroke="#40a840" stroke-width="0.6"/><path d="M107.66 389.37l-1.5 2.7h3zM111.96 389.91l-1.5 2.7h3zM116.26 390.54l-1.5 2.7h3zM120.56 392.45l-1.5 2.7h3zM124.86 396.38l-1.5 2.7h3zM129.16 403.39l-1.5 2.7h3zM133.46 411.9l-1.5 2.7h3zM137.76 418.35l-1.5 2.7h3zM142.06 422.77l-1.5 2.7h3zM146.36 425.36l-1.5 2.7h3zM150.66 427.05l-1.5 2.7h3zM154.96 427.66l-1.5 2.7h3zM159.26 428.19l-1.5 2.7h3zM163.56 428.42l-1.5 2.7h3z" fill="#d82c54" fill-opacity="0.12" stroke="#d82c54" stroke-width="0.6"/><path d="M107.66 389.37l-1.5 2.7h3zM111.96 389.91l-1.5 2.7h3zM116.26 390.54l-1.5 2.7h3zM120.56 392.45l-1.5 2.7h3zM124.86 396.12l-1.5 2.7h3zM129.16 402.6l-1.5 2.7h3zM133.46 411.11l-1.5 2.7h3zM137.76 417.56l-1.5 2.7h3zM142.06 421.99l-1.5 2.7h3zM146.36 424.51l-1.5 2.7h3zM150.66 426.11l-1.5 2.7h3zM154.96 426.8l-1.5 2.7h3zM159.26 427.39l-1.5 2.7h3zM163.56 427.54l-1.5 2.7h3z" fill="#c03c98" fill-opacity="0.12" stroke="#c03c98" stroke-width="0.6"/></g><path d="M127.93 445.3v-1.3" stroke="#a0a0a0" stroke-width="0.6"/><path d="M148.42 445.3v-1.3" stroke="#a0a0a0" stroke-width="0.6"/><path d="M107.45 431.82h1.3" stroke="#a0a0a0" stroke-width="0.6"/><path d="M107.45 418.35h1.3" stroke="#a0a0a0" stroke-width="0.6"/><path d="M107.45 404.88h1.3" stroke="#a0a0a0" stroke-width="0.6"/><rect x="107.45" y="391.4" width="61.45" height="53.9" fill="none" stroke="#bababa" stroke-width="1"/><text class="r" x="138.18" y="388.6" font-size="9.0" text-anchor="middle" >Tianjin</text><text class="r" x="104.95" y="449.6" font-size="8.6" text-anchor="end" >0.2</text><text class="r" x="104.95" y="436.12" font-size="8.6" text-anchor="end" >0.4</text><text class="r" x="104.95" y="422.65" font-size="8.6" text-anchor="end" >0.6</text><text class="r" x="104.95" y="409.18" font-size="8.6" text-anchor="end" >0.8</text><text class="r" x="107.45" y="455.7" font-size="8.6" text-anchor="middle" >0</text><text class="r" x="127.93" y="455.7" font-size="8.6" text-anchor="middle" >10</text><text class="r" x="148.42" y="455.7" font-size="8.6" text-anchor="middle" >20</text><text class="r" x="168.9" y="455.7" font-size="8.6" text-anchor="middle" >30</text></g>
<g><clipPath id="c27"><rect x="189" y="389.4" width="63.4" height="55.9"/></clipPath><g clip-path="url(#c27)" fill="none" stroke-width="0.85" stroke-linejoin="round"><path d="M189.36 390.83C190.54 391.40 194.46 392.40 196.43 394.29C198.39 396.17 199.70 399.00 201.14 402.14C202.58 405.29 203.76 409.61 205.07 413.14C206.38 416.68 207.56 420.35 209.00 423.36C210.44 426.37 211.88 428.99 213.71 431.21C215.55 433.44 217.64 435.59 220.00 436.71C222.36 437.84 223.40 437.71 227.86 437.97C232.31 438.23 243.57 438.23 246.71 438.29" stroke="#555555"/><path d="M189.36 390.83C190.54 391.35 194.20 392.35 196.43 393.97C198.65 395.60 200.88 398.16 202.71 400.57C204.55 402.98 205.86 405.55 207.43 408.43C209.00 411.31 210.44 414.98 212.14 417.86C213.85 420.74 215.81 423.62 217.64 425.71C219.48 427.81 220.92 429.17 223.14 430.43C225.37 431.69 228.38 432.60 231.00 433.26C233.62 433.91 236.24 434.10 238.86 434.36C241.48 434.62 245.40 434.75 246.71 434.83" stroke="#6a6ad0"/><path d="M189.36 390.83C190.54 391.27 194.20 392.27 196.43 393.50C198.65 394.73 200.62 396.25 202.71 398.21C204.81 400.18 206.90 402.80 209.00 405.29C211.10 407.77 213.19 410.65 215.29 413.14C217.38 415.63 219.48 418.25 221.57 420.21C223.67 422.18 225.76 423.54 227.86 424.93C229.95 426.32 232.05 427.68 234.14 428.54C236.24 429.41 238.33 429.75 240.43 430.11C242.52 430.48 245.67 430.64 246.71 430.74" stroke="#66c466"/><path d="M189.36 390.83C190.54 391.20 194.20 392.06 196.43 393.03C198.65 394.00 200.62 395.12 202.71 396.64C204.81 398.16 206.90 400.18 209.00 402.14C211.10 404.11 213.19 406.33 215.29 408.43C217.38 410.52 219.48 412.75 221.57 414.71C223.67 416.68 225.76 418.64 227.86 420.21C229.95 421.79 232.05 423.10 234.14 424.14C236.24 425.19 238.33 425.85 240.43 426.50C242.52 427.15 245.67 427.81 246.71 428.07" stroke="#ea6a78"/><path d="M189.36 390.83C190.54 391.20 194.20 392.14 196.43 393.03C198.65 393.92 200.62 394.70 202.71 396.17C204.81 397.64 206.90 399.92 209.00 401.83C211.10 403.74 213.19 405.63 215.29 407.64C217.38 409.66 219.48 412.02 221.57 413.93C223.67 415.84 225.76 417.54 227.86 419.11C229.95 420.69 232.05 422.20 234.14 423.36C236.24 424.51 238.33 425.37 240.43 426.03C242.52 426.68 245.67 427.08 246.71 427.29" stroke="#c470d0"/><path d="M189.66 389.48l-1.5 2.7h3zM195.96 392.56l-1.5 2.7h3zM202.26 403.76l-1.5 2.7h3zM208.56 420.71l-1.5 2.7h3zM214.86 430.71l-1.5 2.7h3zM221.16 435.4l-1.5 2.7h3zM227.46 436.41l-1.5 2.7h3zM233.76 436.57l-1.5 2.7h3zM240.06 436.67l-1.5 2.7h3zM246.36 436.78l-1.5 2.7h3z" fill="#484848" fill-opacity="0.12" stroke="#484848" stroke-width="0.6"/><path d="M189.66 389.46l-1.5 2.7h3zM195.96 392.26l-1.5 2.7h3zM202.26 398.59l-1.5 2.7h3zM208.56 409.19l-1.5 2.7h3zM214.86 420.23l-1.5 2.7h3zM221.16 427.23l-1.5 2.7h3zM227.46 430.48l-1.5 2.7h3zM233.76 432.14l-1.5 2.7h3zM240.06 432.93l-1.5 2.7h3zM246.36 433.31l-1.5 2.7h3z" fill="#5050c0" fill-opacity="0.12" stroke="#5050c0" stroke-width="0.6"/><path d="M189.66 389.44l-1.5 2.7h3zM195.96 391.82l-1.5 2.7h3zM202.26 396.37l-1.5 2.7h3zM208.56 403.29l-1.5 2.7h3zM214.86 411.11l-1.5 2.7h3zM221.16 418.25l-1.5 2.7h3zM227.46 423.13l-1.5 2.7h3zM233.76 426.82l-1.5 2.7h3zM240.06 428.52l-1.5 2.7h3zM246.36 429.21l-1.5 2.7h3z" fill="#40a840" fill-opacity="0.12" stroke="#40a840" stroke-width="0.6"/><path d="M189.66 389.42l-1.5 2.7h3zM195.96 391.38l-1.5 2.7h3zM202.26 394.88l-1.5 2.7h3zM208.56 400.26l-1.5 2.7h3zM214.86 406.5l-1.5 2.7h3zM221.16 412.8l-1.5 2.7h3zM227.46 418.36l-1.5 2.7h3zM233.76 422.4l-1.5 2.7h3zM240.06 424.86l-1.5 2.7h3zM246.36 426.48l-1.5 2.7h3z" fill="#d82c54" fill-opacity="0.12" stroke="#d82c54" stroke-width="0.6"/><path d="M189.66 389.42l-1.5 2.7h3zM195.96 391.38l-1.5 2.7h3zM202.26 394.44l-1.5 2.7h3zM208.56 399.93l-1.5 2.7h3zM214.86 405.75l-1.5 2.7h3zM221.16 412.01l-1.5 2.7h3zM227.46 417.28l-1.5 2.7h3zM233.76 421.6l-1.5 2.7h3zM240.06 424.37l-1.5 2.7h3zM246.36 425.71l-1.5 2.7h3z" fill="#c03c98" fill-opacity="0.12" stroke="#c03c98" stroke-width="0.6"/></g><path d="M219.7 445.3v-1.3" stroke="#a0a0a0" stroke-width="0.6"/><path d="M189 418.35h1.3" stroke="#a0a0a0" stroke-width="0.6"/><rect x="189" y="391.4" width="61.4" height="53.9" fill="none" stroke="#bababa" stroke-width="1"/><text class="r" x="219.7" y="388.6" font-size="9.0" text-anchor="middle" >Wuxi</text><text class="r" x="186.5" y="449.6" font-size="8.6" text-anchor="end" >0</text><text class="r" x="186.5" y="422.65" font-size="8.6" text-anchor="end" >0.5</text><text class="r" x="186.5" y="395.7" font-size="8.6" text-anchor="end" >1</text><text class="r" x="189" y="455.7" font-size="8.6" text-anchor="middle" >0</text><text class="r" x="219.7" y="455.7" font-size="8.6" text-anchor="middle" >10</text><text class="r" x="250.4" y="455.7" font-size="8.6" text-anchor="middle" >20</text></g>
<g><clipPath id="c28"><rect x="270.5" y="389.4" width="63.4" height="55.9"/></clipPath><g clip-path="url(#c28)" fill="none" stroke-width="0.85" stroke-linejoin="round"><path d="M270.36 390.83C271.27 391.14 274.15 391.35 275.86 392.71C277.56 394.08 279.26 396.38 280.57 399.00C281.88 401.62 282.67 405.02 283.71 408.43C284.76 411.83 285.68 416.02 286.86 419.43C288.04 422.83 289.35 426.37 290.79 428.86C292.23 431.35 293.54 432.92 295.50 434.36C297.46 435.80 299.30 436.85 302.57 437.50C305.85 438.15 310.69 438.10 315.14 438.29C319.60 438.47 326.93 438.55 329.29 438.60" stroke="#555555"/><path d="M270.36 390.83C271.40 391.09 274.68 391.30 276.64 392.40C278.61 393.50 280.44 395.02 282.14 397.43C283.85 399.84 285.42 403.58 286.86 406.86C288.30 410.13 289.35 413.93 290.79 417.07C292.23 420.21 293.80 423.23 295.50 425.71C297.20 428.20 298.77 430.30 301.00 432.00C303.23 433.70 305.98 435.01 308.86 435.93C311.74 436.85 314.88 437.16 318.29 437.50C321.69 437.84 327.45 437.89 329.29 437.97" stroke="#6a6ad0"/><path d="M270.36 390.83C271.54 391.09 275.20 391.43 277.43 392.40C279.65 393.37 281.88 394.76 283.71 396.64C285.55 398.53 286.86 400.96 288.43 403.71C290.00 406.46 291.57 410.13 293.14 413.14C294.71 416.15 296.15 419.17 297.86 421.79C299.56 424.40 301.26 426.89 303.36 428.86C305.45 430.82 307.68 432.39 310.43 433.57C313.18 434.75 316.71 435.40 319.86 435.93C323.00 436.45 327.71 436.58 329.29 436.71" stroke="#66c466"/><path d="M270.36 390.83C271.80 391.09 276.38 391.56 279.00 392.40C281.62 393.24 283.98 393.97 286.07 395.86C288.17 397.74 289.74 400.70 291.57 403.71C293.40 406.73 295.37 410.92 297.07 413.93C298.77 416.94 300.08 419.43 301.79 421.79C303.49 424.14 305.06 426.42 307.29 428.07C309.51 429.72 312.52 430.77 315.14 431.69C317.76 432.60 320.64 433.13 323.00 433.57C325.36 434.02 328.24 434.23 329.29 434.36" stroke="#ea6a78"/><path d="M270.36 390.83C271.80 391.09 276.25 391.56 279.00 392.40C281.75 393.24 284.63 394.10 286.86 395.86C289.08 397.61 290.52 400.05 292.36 402.93C294.19 405.81 296.15 410.13 297.86 413.14C299.56 416.15 300.87 418.77 302.57 421.00C304.27 423.23 305.98 424.98 308.07 426.50C310.17 428.02 312.65 429.20 315.14 430.11C317.63 431.03 320.64 431.55 323.00 432.00C325.36 432.45 328.24 432.65 329.29 432.79" stroke="#c470d0"/><path d="M270.66 389.43l-1.5 2.7h3zM274.96 390.91l-1.5 2.7h3zM279.26 395.75l-1.5 2.7h3zM283.56 406.46l-1.5 2.7h3zM287.86 420.33l-1.5 2.7h3zM292.16 428.96l-1.5 2.7h3zM296.46 433.28l-1.5 2.7h3zM300.76 435.19l-1.5 2.7h3zM305.06 436.16l-1.5 2.7h3zM309.36 436.42l-1.5 2.7h3zM313.66 436.69l-1.5 2.7h3zM317.96 436.85l-1.5 2.7h3zM322.26 436.94l-1.5 2.7h3zM326.56 437.04l-1.5 2.7h3z" fill="#484848" fill-opacity="0.12" stroke="#484848" stroke-width="0.6"/><path d="M270.66 389.4l-1.5 2.7h3zM274.96 390.48l-1.5 2.7h3zM279.26 393.29l-1.5 2.7h3zM283.56 398.76l-1.5 2.7h3zM287.86 407.96l-1.5 2.7h3zM292.16 418.09l-1.5 2.7h3zM296.46 425.31l-1.5 2.7h3zM300.76 430.22l-1.5 2.7h3zM305.06 432.53l-1.5 2.7h3zM309.36 434.51l-1.5 2.7h3zM313.66 435.23l-1.5 2.7h3zM317.96 435.95l-1.5 2.7h3zM322.26 436.17l-1.5 2.7h3zM326.56 436.35l-1.5 2.7h3z" fill="#5050c0" fill-opacity="0.12" stroke="#5050c0" stroke-width="0.6"/><path d="M270.66 389.4l-1.5 2.7h3zM274.96 390.35l-1.5 2.7h3zM279.26 392.13l-1.5 2.7h3zM283.56 395.04l-1.5 2.7h3zM287.86 401.36l-1.5 2.7h3zM292.16 409.67l-1.5 2.7h3zM296.46 417.72l-1.5 2.7h3zM300.76 424.01l-1.5 2.7h3zM305.06 428.49l-1.5 2.7h3zM309.36 431.36l-1.5 2.7h3zM313.66 432.88l-1.5 2.7h3zM317.96 433.95l-1.5 2.7h3zM322.26 434.63l-1.5 2.7h3zM326.56 434.99l-1.5 2.7h3z" fill="#40a840" fill-opacity="0.12" stroke="#40a840" stroke-width="0.6"/><path d="M270.66 389.38l-1.5 2.7h3zM274.96 390.16l-1.5 2.7h3zM279.26 391.03l-1.5 2.7h3zM283.56 393.13l-1.5 2.7h3zM287.86 396.91l-1.5 2.7h3zM292.16 403.3l-1.5 2.7h3zM296.46 411.29l-1.5 2.7h3zM300.76 418.57l-1.5 2.7h3zM305.06 424.02l-1.5 2.7h3zM309.36 427.52l-1.5 2.7h3zM313.66 429.5l-1.5 2.7h3zM317.96 430.86l-1.5 2.7h3zM322.26 431.89l-1.5 2.7h3zM326.56 432.52l-1.5 2.7h3z" fill="#d82c54" fill-opacity="0.12" stroke="#d82c54" stroke-width="0.6"/><path d="M270.66 389.38l-1.5 2.7h3zM274.96 390.16l-1.5 2.7h3zM279.26 391.01l-1.5 2.7h3zM283.56 392.91l-1.5 2.7h3zM287.86 395.64l-1.5 2.7h3zM292.16 401.17l-1.5 2.7h3zM296.46 409.04l-1.5 2.7h3zM300.76 416.48l-1.5 2.7h3zM305.06 421.99l-1.5 2.7h3zM309.36 425.66l-1.5 2.7h3zM313.66 427.85l-1.5 2.7h3zM317.96 429.29l-1.5 2.7h3zM322.26 430.32l-1.5 2.7h3zM326.56 430.94l-1.5 2.7h3z" fill="#c03c98" fill-opacity="0.12" stroke="#c03c98" stroke-width="0.6"/></g><path d="M290.97 445.3v-1.3" stroke="#a0a0a0" stroke-width="0.6"/><path d="M311.43 445.3v-1.3" stroke="#a0a0a0" stroke-width="0.6"/><path d="M270.5 418.35h1.3" stroke="#a0a0a0" stroke-width="0.6"/><rect x="270.5" y="391.4" width="61.4" height="53.9" fill="none" stroke="#bababa" stroke-width="1"/><text class="r" x="301.2" y="388.6" font-size="9.0" text-anchor="middle" >Xi’an</text><text class="r" x="268" y="449.6" font-size="8.6" text-anchor="end" >0</text><text class="r" x="268" y="422.65" font-size="8.6" text-anchor="end" >0.5</text><text class="r" x="268" y="395.7" font-size="8.6" text-anchor="end" >1</text><text class="r" x="270.5" y="455.7" font-size="8.6" text-anchor="middle" >0</text><text class="r" x="290.97" y="455.7" font-size="8.6" text-anchor="middle" >10</text><text class="r" x="311.43" y="455.7" font-size="8.6" text-anchor="middle" >20</text><text class="r" x="331.9" y="455.7" font-size="8.6" text-anchor="middle" >30</text></g>
<g><clipPath id="c29"><rect x="352" y="389.4" width="63.7" height="55.9"/></clipPath><g clip-path="url(#c29)" fill="none" stroke-width="0.85" stroke-linejoin="round"><path d="M352.36 390.83C354.06 391.40 360.21 391.61 362.57 394.29C364.93 396.96 365.19 402.40 366.50 406.86C367.81 411.31 368.99 417.20 370.43 421.00C371.87 424.80 373.57 427.68 375.14 429.64C376.71 431.61 377.76 432.08 379.86 432.79C381.95 433.49 382.21 433.70 387.71 433.89C393.21 434.07 408.67 433.89 412.86 433.89" stroke="#555555"/><path d="M352.36 390.83C354.06 391.40 360.21 391.88 362.57 394.29C364.93 396.70 365.19 401.62 366.50 405.29C367.81 408.95 368.99 412.88 370.43 416.29C371.87 419.69 373.57 423.36 375.14 425.71C376.71 428.07 377.76 429.25 379.86 430.43C381.95 431.61 382.21 432.31 387.71 432.79C393.21 433.26 408.67 433.18 412.86 433.26" stroke="#6a6ad0"/><path d="M352.36 390.83C354.06 391.40 360.08 392.14 362.57 394.29C365.06 396.43 365.71 400.57 367.29 403.71C368.86 406.86 370.43 410.13 372.00 413.14C373.57 416.15 374.88 419.30 376.71 421.79C378.55 424.27 380.64 426.68 383.00 428.07C385.36 429.46 385.88 429.67 390.86 430.11C395.83 430.56 409.19 430.64 412.86 430.74" stroke="#66c466"/><path d="M352.36 390.83C354.06 391.40 359.95 392.40 362.57 394.29C365.19 396.17 366.24 399.26 368.07 402.14C369.90 405.02 371.87 408.82 373.57 411.57C375.27 414.32 376.45 416.42 378.29 418.64C380.12 420.87 382.21 423.36 384.57 424.93C386.93 426.50 387.71 427.36 392.43 428.07C397.14 428.78 409.45 428.99 412.86 429.17" stroke="#ea6a78"/><path d="M352.36 390.83C354.06 391.40 359.82 392.53 362.57 394.29C365.32 396.04 366.89 398.74 368.86 401.36C370.82 403.98 372.52 407.38 374.36 410.00C376.19 412.62 377.89 414.85 379.86 417.07C381.82 419.30 383.79 421.79 386.14 423.36C388.50 424.93 389.55 425.71 394.00 426.50C398.45 427.29 409.71 427.81 412.86 428.07" stroke="#c470d0"/><path d="M352.66 389.43l-1.5 2.7h3zM361.16 392.31l-1.5 2.7h3zM369.66 416.72l-1.5 2.7h3zM378.16 430.15l-1.5 2.7h3zM386.66 432.24l-1.5 2.7h3zM395.16 432.39l-1.5 2.7h3zM403.66 432.39l-1.5 2.7h3zM412.16 432.39l-1.5 2.7h3z" fill="#484848" fill-opacity="0.12" stroke="#484848" stroke-width="0.6"/><path d="M352.66 389.43l-1.5 2.7h3zM361.16 392.31l-1.5 2.7h3zM369.66 412.63l-1.5 2.7h3zM378.16 427.23l-1.5 2.7h3zM386.66 430.97l-1.5 2.7h3zM395.16 431.43l-1.5 2.7h3zM403.66 431.58l-1.5 2.7h3zM412.16 431.74l-1.5 2.7h3z" fill="#5050c0" fill-opacity="0.12" stroke="#5050c0" stroke-width="0.6"/><path d="M352.66 389.43l-1.5 2.7h3zM361.16 392.31l-1.5 2.7h3zM369.66 406.96l-1.5 2.7h3zM378.16 421.73l-1.5 2.7h3zM386.66 427.52l-1.5 2.7h3zM395.16 428.74l-1.5 2.7h3zM403.66 428.98l-1.5 2.7h3zM412.16 429.22l-1.5 2.7h3z" fill="#40a840" fill-opacity="0.12" stroke="#40a840" stroke-width="0.6"/><path d="M352.66 389.43l-1.5 2.7h3zM361.16 392.31l-1.5 2.7h3zM369.66 403.36l-1.5 2.7h3zM378.16 416.95l-1.5 2.7h3zM386.66 424.26l-1.5 2.7h3zM395.16 426.72l-1.5 2.7h3zM403.66 427.18l-1.5 2.7h3zM412.16 427.63l-1.5 2.7h3z" fill="#d82c54" fill-opacity="0.12" stroke="#d82c54" stroke-width="0.6"/><path d="M352.66 389.43l-1.5 2.7h3zM361.16 392.31l-1.5 2.7h3zM369.66 401.11l-1.5 2.7h3zM378.16 413.39l-1.5 2.7h3zM386.66 422.06l-1.5 2.7h3zM395.16 425.1l-1.5 2.7h3zM403.66 425.8l-1.5 2.7h3zM412.16 426.51l-1.5 2.7h3z" fill="#c03c98" fill-opacity="0.12" stroke="#c03c98" stroke-width="0.6"/></g><path d="M372.57 445.3v-1.3" stroke="#a0a0a0" stroke-width="0.6"/><path d="M393.13 445.3v-1.3" stroke="#a0a0a0" stroke-width="0.6"/><path d="M352 418.35h1.3" stroke="#a0a0a0" stroke-width="0.6"/><rect x="352" y="391.4" width="61.7" height="53.9" fill="none" stroke="#bababa" stroke-width="1"/><text class="r" x="382.85" y="388.6" font-size="9.0" text-anchor="middle" >Xinxiang</text><text class="r" x="349.5" y="449.6" font-size="8.6" text-anchor="end" >0</text><text class="r" x="349.5" y="422.65" font-size="8.6" text-anchor="end" >0.5</text><text class="r" x="349.5" y="395.7" font-size="8.6" text-anchor="end" >1</text><text class="r" x="352" y="455.7" font-size="8.6" text-anchor="middle" >0</text><text class="r" x="372.57" y="455.7" font-size="8.6" text-anchor="middle" >5</text><text class="r" x="393.13" y="455.7" font-size="8.6" text-anchor="middle" >10</text><text class="r" x="413.7" y="455.7" font-size="8.6" text-anchor="middle" >15</text></g>
<g><clipPath id="c30"><rect x="26" y="466.2" width="63.5" height="56.3"/></clipPath><g clip-path="url(#c30)" fill="none" stroke-width="0.85" stroke-linejoin="round"><path d="M27.14 468.36C28.58 470.06 33.69 474.51 35.79 478.57C37.88 482.63 38.54 488.00 39.71 492.71C40.89 497.43 41.55 503.58 42.86 506.86C44.17 510.13 45.74 511.18 47.57 512.36C49.40 513.54 51.24 513.59 53.86 513.93C56.48 514.27 57.79 514.32 63.29 514.40C68.79 514.48 82.93 514.40 86.86 514.40" stroke="#555555"/><path d="M27.14 468.36C28.58 469.93 33.69 473.99 35.79 477.79C37.88 481.58 38.40 486.82 39.71 491.14C41.02 495.46 42.20 500.44 43.64 503.71C45.08 506.99 46.65 509.21 48.36 510.79C50.06 512.36 51.37 512.62 53.86 513.14C56.35 513.67 57.79 513.80 63.29 513.93C68.79 514.06 82.93 513.93 86.86 513.93" stroke="#6a6ad0"/><path d="M27.14 468.36C28.58 469.54 33.56 472.42 35.79 475.43C38.01 478.44 39.06 482.76 40.50 486.43C41.94 490.10 42.86 494.02 44.43 497.43C46.00 500.83 48.10 504.63 49.93 506.86C51.76 509.08 53.20 509.87 55.43 510.79C57.65 511.70 58.05 511.96 63.29 512.36C68.52 512.75 82.93 513.01 86.86 513.14" stroke="#66c466"/><path d="M27.14 468.36C28.58 469.27 33.43 471.63 35.79 473.86C38.14 476.08 39.58 478.57 41.29 481.71C42.99 484.86 44.30 489.31 46.00 492.71C47.70 496.12 49.54 499.52 51.50 502.14C53.46 504.76 55.56 506.86 57.79 508.43C60.01 510.00 60.01 510.84 64.86 511.57C69.70 512.30 83.19 512.62 86.86 512.83" stroke="#ea6a78"/><path d="M27.14 468.36C28.58 469.14 33.43 470.98 35.79 473.07C38.14 475.17 39.45 477.92 41.29 480.93C43.12 483.94 44.95 487.87 46.79 491.14C48.62 494.42 50.32 497.95 52.29 500.57C54.25 503.19 56.21 505.15 58.57 506.86C60.93 508.56 61.71 509.87 66.43 510.79C71.14 511.70 83.45 512.10 86.86 512.36" stroke="#c470d0"/><path d="M27.44 467.21l-1.5 2.7h3zM35.94 477.64l-1.5 2.7h3zM44.44 507.21l-1.5 2.7h3zM52.94 512.2l-1.5 2.7h3zM61.44 512.81l-1.5 2.7h3zM69.94 512.9l-1.5 2.7h3zM78.44 512.9l-1.5 2.7h3z" fill="#484848" fill-opacity="0.12" stroke="#484848" stroke-width="0.6"/><path d="M27.44 467.18l-1.5 2.7h3zM35.94 476.82l-1.5 2.7h3zM44.44 503.41l-1.5 2.7h3zM52.94 511.25l-1.5 2.7h3zM61.44 512.27l-1.5 2.7h3zM69.94 512.43l-1.5 2.7h3zM78.44 512.43l-1.5 2.7h3z" fill="#5050c0" fill-opacity="0.12" stroke="#5050c0" stroke-width="0.6"/><path d="M27.44 467.1l-1.5 2.7h3zM35.94 474.3l-1.5 2.7h3zM44.44 495.95l-1.5 2.7h3zM52.94 507.51l-1.5 2.7h3zM61.44 510.49l-1.5 2.7h3zM69.94 511.08l-1.5 2.7h3zM78.44 511.36l-1.5 2.7h3z" fill="#40a840" fill-opacity="0.12" stroke="#40a840" stroke-width="0.6"/><path d="M27.44 467.05l-1.5 2.7h3zM35.94 472.58l-1.5 2.7h3zM44.44 487.58l-1.5 2.7h3zM52.94 502.09l-1.5 2.7h3zM61.44 508.55l-1.5 2.7h3zM69.94 510.36l-1.5 2.7h3zM78.44 510.85l-1.5 2.7h3z" fill="#d82c54" fill-opacity="0.12" stroke="#d82c54" stroke-width="0.6"/><path d="M27.44 467.02l-1.5 2.7h3zM35.94 471.8l-1.5 2.7h3zM44.44 485.29l-1.5 2.7h3zM52.94 499.73l-1.5 2.7h3zM61.44 506.79l-1.5 2.7h3zM69.94 509.56l-1.5 2.7h3zM78.44 510.21l-1.5 2.7h3z" fill="#c03c98" fill-opacity="0.12" stroke="#c03c98" stroke-width="0.6"/></g><path d="M46.5 522.5v-1.3" stroke="#a0a0a0" stroke-width="0.6"/><path d="M67 522.5v-1.3" stroke="#a0a0a0" stroke-width="0.6"/><path d="M26 495.35h1.3" stroke="#a0a0a0" stroke-width="0.6"/><rect x="26" y="468.2" width="61.5" height="54.3" fill="none" stroke="#bababa" stroke-width="1"/><text class="r" x="56.75" y="465.6" font-size="9.0" text-anchor="middle" >Xuchang</text><text class="r" x="23.5" y="526.8" font-size="8.6" text-anchor="end" >0</text><text class="r" x="23.5" y="499.65" font-size="8.6" text-anchor="end" >0.5</text><text class="r" x="23.5" y="472.5" font-size="8.6" text-anchor="end" >1</text><text class="r" x="26" y="532.9" font-size="8.6" text-anchor="middle" >0</text><text class="r" x="46.5" y="532.9" font-size="8.6" text-anchor="middle" >5</text><text class="r" x="67" y="532.9" font-size="8.6" text-anchor="middle" >10</text><text class="r" x="87.5" y="532.9" font-size="8.6" text-anchor="middle" >15</text><text class="r" x="0" y="0" font-size="8.6" text-anchor="middle"  transform="translate(11.4 495.35) rotate(-90)">Den</text><text class="r" x="57.25" y="541.4" font-size="9.1" text-anchor="middle" >Distance</text></g>
<g><clipPath id="c31"><rect x="107.45" y="466.2" width="63.45" height="56.3"/></clipPath><g clip-path="url(#c31)" fill="none" stroke-width="0.85" stroke-linejoin="round"><path d="M107.36 470.71C108.54 471.24 112.46 472.15 114.43 473.86C116.39 475.56 117.70 478.05 119.14 480.93C120.58 483.81 121.76 488.00 123.07 491.14C124.38 494.29 125.56 497.30 127.00 499.79C128.44 502.27 129.88 504.50 131.71 506.07C133.55 507.64 135.64 508.51 138.00 509.21C140.36 509.92 141.40 510.05 145.86 510.31C150.31 510.58 161.57 510.71 164.71 510.79" stroke="#555555"/><path d="M107.36 470.71C108.54 471.19 112.20 471.97 114.43 473.54C116.65 475.11 118.88 477.73 120.71 480.14C122.55 482.55 123.86 485.25 125.43 488.00C127.00 490.75 128.57 494.02 130.14 496.64C131.71 499.26 133.02 501.88 134.86 503.71C136.69 505.55 138.79 506.65 141.14 507.64C143.50 508.64 145.07 509.24 149.00 509.69C152.93 510.13 162.10 510.21 164.71 510.31" stroke="#6a6ad0"/><path d="M107.36 470.71C108.54 471.11 111.94 471.76 114.43 473.07C116.92 474.38 119.93 476.35 122.29 478.57C124.64 480.80 126.48 483.81 128.57 486.43C130.67 489.05 132.76 491.93 134.86 494.29C136.95 496.64 139.05 498.87 141.14 500.57C143.24 502.27 145.07 503.40 147.43 504.50C149.79 505.60 152.40 506.46 155.29 507.17C158.17 507.88 163.14 508.48 164.71 508.74" stroke="#66c466"/><path d="M107.36 470.71C108.54 471.03 111.94 471.55 114.43 472.60C116.92 473.65 119.93 475.22 122.29 477.00C124.64 478.78 126.48 481.06 128.57 483.29C130.67 485.51 132.76 488.13 134.86 490.36C136.95 492.58 139.05 494.81 141.14 496.64C143.24 498.48 145.07 499.92 147.43 501.36C149.79 502.80 152.40 504.24 155.29 505.29C158.17 506.33 163.14 507.25 164.71 507.64" stroke="#ea6a78"/><path d="M107.36 470.71C108.54 471.03 111.94 471.60 114.43 472.60C116.92 473.60 119.93 475.04 122.29 476.69C124.64 478.34 126.48 480.35 128.57 482.50C130.67 484.65 132.76 487.40 134.86 489.57C136.95 491.75 139.05 493.71 141.14 495.54C143.24 497.38 145.07 499.08 147.43 500.57C149.79 502.06 152.40 503.40 155.29 504.50C158.17 505.60 163.14 506.73 164.71 507.17" stroke="#c470d0"/><path d="M107.66 469.35l-1.5 2.7h3zM113.96 472.15l-1.5 2.7h3zM120.26 482.33l-1.5 2.7h3zM126.56 497.31l-1.5 2.7h3zM132.86 505.14l-1.5 2.7h3zM139.16 507.88l-1.5 2.7h3zM145.46 508.76l-1.5 2.7h3zM151.76 508.96l-1.5 2.7h3zM158.06 509.12l-1.5 2.7h3zM164.36 509.28l-1.5 2.7h3z" fill="#484848" fill-opacity="0.12" stroke="#484848" stroke-width="0.6"/><path d="M107.66 469.33l-1.5 2.7h3zM113.96 471.85l-1.5 2.7h3zM120.26 478.16l-1.5 2.7h3zM126.56 488.57l-1.5 2.7h3zM132.86 499.21l-1.5 2.7h3zM139.16 504.9l-1.5 2.7h3zM145.46 507.26l-1.5 2.7h3zM151.76 508.3l-1.5 2.7h3zM158.06 508.55l-1.5 2.7h3zM164.36 508.8l-1.5 2.7h3z" fill="#5050c0" fill-opacity="0.12" stroke="#5050c0" stroke-width="0.6"/><path d="M107.66 469.31l-1.5 2.7h3zM113.96 471.41l-1.5 2.7h3zM120.26 475.65l-1.5 2.7h3zM126.56 482.41l-1.5 2.7h3zM132.86 490.29l-1.5 2.7h3zM139.16 497.09l-1.5 2.7h3zM145.46 501.77l-1.5 2.7h3zM151.76 504.47l-1.5 2.7h3zM158.06 506.13l-1.5 2.7h3zM164.36 507.18l-1.5 2.7h3z" fill="#40a840" fill-opacity="0.12" stroke="#40a840" stroke-width="0.6"/><path d="M107.66 469.29l-1.5 2.7h3zM113.96 470.97l-1.5 2.7h3zM120.26 474.36l-1.5 2.7h3zM126.56 479.77l-1.5 2.7h3zM132.86 486.61l-1.5 2.7h3zM139.16 493.16l-1.5 2.7h3zM145.46 498.38l-1.5 2.7h3zM151.76 502.02l-1.5 2.7h3zM158.06 504.48l-1.5 2.7h3zM164.36 506.05l-1.5 2.7h3z" fill="#d82c54" fill-opacity="0.12" stroke="#d82c54" stroke-width="0.6"/><path d="M107.66 469.29l-1.5 2.7h3zM113.96 470.97l-1.5 2.7h3zM120.26 474.13l-1.5 2.7h3zM126.56 479.14l-1.5 2.7h3zM132.86 485.82l-1.5 2.7h3zM139.16 492.16l-1.5 2.7h3zM145.46 497.49l-1.5 2.7h3zM151.76 501.24l-1.5 2.7h3zM158.06 503.79l-1.5 2.7h3zM164.36 505.57l-1.5 2.7h3z" fill="#c03c98" fill-opacity="0.12" stroke="#c03c98" stroke-width="0.6"/></g><path d="M138.18 522.5v-1.3" stroke="#a0a0a0" stroke-width="0.6"/><path d="M107.45 495.35h1.3" stroke="#a0a0a0" stroke-width="0.6"/><rect x="107.45" y="468.2" width="61.45" height="54.3" fill="none" stroke="#bababa" stroke-width="1"/><text class="r" x="138.18" y="465.6" font-size="9.0" text-anchor="middle" >Xuzhou</text><text class="r" x="104.95" y="526.8" font-size="8.6" text-anchor="end" >0</text><text class="r" x="104.95" y="499.65" font-size="8.6" text-anchor="end" >0.5</text><text class="r" x="104.95" y="472.5" font-size="8.6" text-anchor="end" >1</text><text class="r" x="107.45" y="532.9" font-size="8.6" text-anchor="middle" >0</text><text class="r" x="138.18" y="532.9" font-size="8.6" text-anchor="middle" >10</text><text class="r" x="168.9" y="532.9" font-size="8.6" text-anchor="middle" >20</text><text class="r" x="138.68" y="541.4" font-size="9.1" text-anchor="middle" >Distance</text></g>
<g><clipPath id="c32"><rect x="189" y="466.2" width="63.4" height="56.3"/></clipPath><g clip-path="url(#c32)" fill="none" stroke-width="0.85" stroke-linejoin="round"><path d="M190.14 469.14C191.58 469.67 196.69 469.67 198.79 472.29C200.88 474.90 201.40 480.40 202.71 484.86C204.02 489.31 205.20 495.07 206.64 499.00C208.08 502.93 209.79 505.94 211.36 508.43C212.93 510.92 214.11 512.67 216.07 513.93C218.04 515.19 217.51 515.58 223.14 515.97C228.77 516.36 245.40 516.23 249.86 516.29" stroke="#555555"/><path d="M190.14 469.14C191.58 469.67 196.56 469.93 198.79 472.29C201.01 474.64 202.06 479.88 203.50 483.29C204.94 486.69 205.99 489.44 207.43 492.71C208.87 495.99 210.44 499.92 212.14 502.93C213.85 505.94 215.68 509.14 217.64 510.79C219.61 512.44 218.56 512.38 223.93 512.83C229.30 513.27 245.54 513.35 249.86 513.46" stroke="#6a6ad0"/><path d="M190.14 469.14C191.58 469.67 196.43 470.45 198.79 472.29C201.14 474.12 202.71 477.52 204.29 480.14C205.86 482.76 206.64 485.12 208.21 488.00C209.79 490.88 211.75 494.42 213.71 497.43C215.68 500.44 217.90 503.98 220.00 506.07C222.10 508.17 221.31 509.08 226.29 510.00C231.26 510.92 245.93 511.31 249.86 511.57" stroke="#66c466"/><path d="M190.14 469.14C191.58 469.67 196.30 470.85 198.79 472.29C201.27 473.73 203.24 475.69 205.07 477.79C206.90 479.88 208.08 482.50 209.79 484.86C211.49 487.21 213.32 489.18 215.29 491.93C217.25 494.68 219.48 499.00 221.57 501.36C223.67 503.71 225.50 504.95 227.86 506.07C230.21 507.20 232.05 507.59 235.71 508.11C239.38 508.64 247.50 509.03 249.86 509.21" stroke="#ea6a78"/><path d="M190.14 469.14C191.58 469.67 196.17 470.85 198.79 472.29C201.40 473.73 203.89 475.82 205.86 477.79C207.82 479.75 208.87 481.85 210.57 484.07C212.27 486.30 214.11 488.39 216.07 491.14C218.04 493.89 220.26 498.21 222.36 500.57C224.45 502.93 226.42 504.11 228.64 505.29C230.87 506.46 232.18 507.07 235.71 507.64C239.25 508.22 247.50 508.56 249.86 508.74" stroke="#c470d0"/><path d="M190.44 467.75l-1.5 2.7h3zM198.94 471.29l-1.5 2.7h3zM207.44 499.1l-1.5 2.7h3zM215.94 512.28l-1.5 2.7h3zM224.44 514.49l-1.5 2.7h3zM232.94 514.59l-1.5 2.7h3zM241.44 514.69l-1.5 2.7h3z" fill="#484848" fill-opacity="0.12" stroke="#484848" stroke-width="0.6"/><path d="M190.44 467.75l-1.5 2.7h3zM198.94 471.15l-1.5 2.7h3zM207.44 491.25l-1.5 2.7h3zM215.94 506.86l-1.5 2.7h3zM224.44 511.34l-1.5 2.7h3zM232.94 511.55l-1.5 2.7h3zM241.44 511.75l-1.5 2.7h3z" fill="#5050c0" fill-opacity="0.12" stroke="#5050c0" stroke-width="0.6"/><path d="M190.44 467.75l-1.5 2.7h3zM198.94 471.01l-1.5 2.7h3zM207.44 484.96l-1.5 2.7h3zM215.94 498.99l-1.5 2.7h3zM224.44 507.35l-1.5 2.7h3zM232.94 508.94l-1.5 2.7h3zM241.44 509.51l-1.5 2.7h3z" fill="#40a840" fill-opacity="0.12" stroke="#40a840" stroke-width="0.6"/><path d="M190.44 467.75l-1.5 2.7h3zM198.94 470.92l-1.5 2.7h3zM207.44 479.84l-1.5 2.7h3zM215.94 491.41l-1.5 2.7h3zM224.44 502.01l-1.5 2.7h3zM232.94 505.89l-1.5 2.7h3zM241.44 507.06l-1.5 2.7h3z" fill="#d82c54" fill-opacity="0.12" stroke="#d82c54" stroke-width="0.6"/><path d="M190.44 467.75l-1.5 2.7h3zM198.94 470.91l-1.5 2.7h3zM207.44 478.4l-1.5 2.7h3zM215.94 489.48l-1.5 2.7h3zM224.44 500.64l-1.5 2.7h3zM232.94 505.22l-1.5 2.7h3zM241.44 506.59l-1.5 2.7h3z" fill="#c03c98" fill-opacity="0.12" stroke="#c03c98" stroke-width="0.6"/></g><path d="M209.47 522.5v-1.3" stroke="#a0a0a0" stroke-width="0.6"/><path d="M229.93 522.5v-1.3" stroke="#a0a0a0" stroke-width="0.6"/><path d="M189 495.35h1.3" stroke="#a0a0a0" stroke-width="0.6"/><rect x="189" y="468.2" width="61.4" height="54.3" fill="none" stroke="#bababa" stroke-width="1"/><text class="r" x="219.7" y="465.6" font-size="9.0" text-anchor="middle" >Yangzhou</text><text class="r" x="186.5" y="526.8" font-size="8.6" text-anchor="end" >0</text><text class="r" x="186.5" y="499.65" font-size="8.6" text-anchor="end" >0.5</text><text class="r" x="186.5" y="472.5" font-size="8.6" text-anchor="end" >1</text><text class="r" x="189" y="532.9" font-size="8.6" text-anchor="middle" >0</text><text class="r" x="209.47" y="532.9" font-size="8.6" text-anchor="middle" >5</text><text class="r" x="229.93" y="532.9" font-size="8.6" text-anchor="middle" >10</text><text class="r" x="250.4" y="532.9" font-size="8.6" text-anchor="middle" >15</text><text class="r" x="220.2" y="541.4" font-size="9.1" text-anchor="middle" >Distance</text></g>
<g><clipPath id="c33"><rect x="270.5" y="466.2" width="63.4" height="56.3"/></clipPath><g clip-path="url(#c33)" fill="none" stroke-width="0.85" stroke-linejoin="round"><path d="M270.36 468.83C271.54 469.01 275.46 468.57 277.43 469.93C279.39 471.29 280.83 473.99 282.14 477.00C283.45 480.01 284.24 484.33 285.29 488.00C286.33 491.67 287.25 495.86 288.43 499.00C289.61 502.14 290.92 504.89 292.36 506.86C293.80 508.82 295.11 509.95 297.07 510.79C299.04 511.62 301.13 511.62 304.14 511.89C307.15 512.15 310.95 512.23 315.14 512.36C319.33 512.49 326.93 512.62 329.29 512.67" stroke="#555555"/><path d="M270.36 468.83C271.54 469.01 275.33 468.70 277.43 469.93C279.52 471.16 281.36 473.46 282.93 476.21C284.50 478.96 285.55 483.02 286.86 486.43C288.17 489.83 289.35 493.50 290.79 496.64C292.23 499.79 293.80 503.11 295.50 505.29C297.20 507.46 298.77 508.69 301.00 509.69C303.23 510.68 304.14 510.89 308.86 511.26C313.57 511.62 325.88 511.78 329.29 511.89" stroke="#6a6ad0"/><path d="M270.36 468.83C271.54 469.01 275.20 468.96 277.43 469.93C279.65 470.90 281.88 472.42 283.71 474.64C285.55 476.87 286.86 480.27 288.43 483.29C290.00 486.30 291.57 489.70 293.14 492.71C294.71 495.73 296.15 498.95 297.86 501.36C299.56 503.77 301.26 505.73 303.36 507.17C305.45 508.61 307.68 509.32 310.43 510.00C313.18 510.68 316.71 511.00 319.86 511.26C323.00 511.52 327.71 511.52 329.29 511.57" stroke="#66c466"/><path d="M270.36 468.83C271.80 469.01 276.25 468.83 279.00 469.93C281.75 471.03 284.76 473.20 286.86 475.43C288.95 477.65 290.00 480.40 291.57 483.29C293.14 486.17 294.71 489.96 296.29 492.71C297.86 495.46 299.30 497.82 301.00 499.79C302.70 501.75 304.40 503.32 306.50 504.50C308.60 505.68 311.08 506.33 313.57 506.86C316.06 507.38 318.81 507.43 321.43 507.64C324.05 507.85 327.98 508.04 329.29 508.11" stroke="#ea6a78"/><path d="M270.36 468.83C271.80 469.01 276.25 468.96 279.00 469.93C281.75 470.90 284.50 472.68 286.86 474.64C289.21 476.61 291.31 479.23 293.14 481.71C294.98 484.20 296.29 487.08 297.86 489.57C299.43 492.06 300.87 494.68 302.57 496.64C304.27 498.61 305.98 500.18 308.07 501.36C310.17 502.54 312.65 503.11 315.14 503.71C317.63 504.32 320.64 504.58 323.00 504.97C325.36 505.36 328.24 505.89 329.29 506.07" stroke="#c470d0"/><path d="M270.66 467.38l-1.5 2.7h3zM274.96 468.04l-1.5 2.7h3zM279.26 471.17l-1.5 2.7h3zM283.56 480.45l-1.5 2.7h3zM287.86 495.5l-1.5 2.7h3zM292.16 504.96l-1.5 2.7h3zM296.46 508.77l-1.5 2.7h3zM300.76 509.86l-1.5 2.7h3zM305.06 510.42l-1.5 2.7h3zM309.36 510.61l-1.5 2.7h3zM313.66 510.79l-1.5 2.7h3zM317.96 510.92l-1.5 2.7h3zM322.26 511.02l-1.5 2.7h3zM326.56 511.11l-1.5 2.7h3z" fill="#484848" fill-opacity="0.12" stroke="#484848" stroke-width="0.6"/><path d="M270.66 467.38l-1.5 2.7h3zM274.96 468.04l-1.5 2.7h3zM279.26 470.52l-1.5 2.7h3zM283.56 476.35l-1.5 2.7h3zM287.86 487.53l-1.5 2.7h3zM292.16 497.66l-1.5 2.7h3zM296.46 504.55l-1.5 2.7h3zM300.76 507.99l-1.5 2.7h3zM305.06 509l-1.5 2.7h3zM309.36 509.77l-1.5 2.7h3zM313.66 509.9l-1.5 2.7h3zM317.96 510.04l-1.5 2.7h3zM322.26 510.17l-1.5 2.7h3zM326.56 510.3l-1.5 2.7h3z" fill="#5050c0" fill-opacity="0.12" stroke="#5050c0" stroke-width="0.6"/><path d="M270.66 467.38l-1.5 2.7h3zM274.96 468.04l-1.5 2.7h3zM279.26 469.8l-1.5 2.7h3zM283.56 473.03l-1.5 2.7h3zM287.86 480.74l-1.5 2.7h3zM292.16 489.24l-1.5 2.7h3zM296.46 497.29l-1.5 2.7h3zM300.76 502.92l-1.5 2.7h3zM305.06 506.35l-1.5 2.7h3zM309.36 508.07l-1.5 2.7h3zM313.66 508.93l-1.5 2.7h3zM317.96 509.5l-1.5 2.7h3zM322.26 509.84l-1.5 2.7h3zM326.56 509.98l-1.5 2.7h3z" fill="#40a840" fill-opacity="0.12" stroke="#40a840" stroke-width="0.6"/><path d="M270.66 467.37l-1.5 2.7h3zM274.96 467.91l-1.5 2.7h3zM279.26 468.61l-1.5 2.7h3zM283.56 471.62l-1.5 2.7h3zM287.86 475.6l-1.5 2.7h3zM292.16 482.96l-1.5 2.7h3zM296.46 491.47l-1.5 2.7h3zM300.76 497.92l-1.5 2.7h3zM305.06 501.76l-1.5 2.7h3zM309.36 503.95l-1.5 2.7h3zM313.66 505.37l-1.5 2.7h3zM317.96 505.8l-1.5 2.7h3zM322.26 506.19l-1.5 2.7h3zM326.56 506.45l-1.5 2.7h3z" fill="#d82c54" fill-opacity="0.12" stroke="#d82c54" stroke-width="0.6"/><path d="M270.66 467.37l-1.5 2.7h3zM274.96 467.91l-1.5 2.7h3zM279.26 468.58l-1.5 2.7h3zM283.56 471.16l-1.5 2.7h3zM287.86 474.27l-1.5 2.7h3zM292.16 479.11l-1.5 2.7h3zM296.46 485.74l-1.5 2.7h3zM300.76 492.42l-1.5 2.7h3zM305.06 497.27l-1.5 2.7h3zM309.36 500.29l-1.5 2.7h3zM313.66 501.72l-1.5 2.7h3zM317.96 502.66l-1.5 2.7h3zM322.26 503.35l-1.5 2.7h3zM326.56 504.09l-1.5 2.7h3z" fill="#c03c98" fill-opacity="0.12" stroke="#c03c98" stroke-width="0.6"/></g><path d="M290.97 522.5v-1.3" stroke="#a0a0a0" stroke-width="0.6"/><path d="M311.43 522.5v-1.3" stroke="#a0a0a0" stroke-width="0.6"/><path d="M270.5 495.35h1.3" stroke="#a0a0a0" stroke-width="0.6"/><rect x="270.5" y="468.2" width="61.4" height="54.3" fill="none" stroke="#bababa" stroke-width="1"/><text class="r" x="301.2" y="465.6" font-size="9.0" text-anchor="middle" >Zhengzhou</text><text class="r" x="268" y="526.8" font-size="8.6" text-anchor="end" >0</text><text class="r" x="268" y="499.65" font-size="8.6" text-anchor="end" >0.5</text><text class="r" x="268" y="472.5" font-size="8.6" text-anchor="end" >1</text><text class="r" x="270.5" y="532.9" font-size="8.6" text-anchor="middle" >0</text><text class="r" x="290.97" y="532.9" font-size="8.6" text-anchor="middle" >10</text><text class="r" x="311.43" y="532.9" font-size="8.6" text-anchor="middle" >20</text><text class="r" x="331.9" y="532.9" font-size="8.6" text-anchor="middle" >30</text><text class="r" x="301.7" y="541.4" font-size="9.1" text-anchor="middle" >Distance</text></g>
<rect x="375.4" y="462.4" width="27.3" height="84.8" fill="#fff" stroke="#c4c4c4" stroke-width="1"/>
<line x1="376.4" x2="383.8" y1="466.8" y2="466.8" stroke="#555555" stroke-width="0.8"/>
<text class="r" x="401.6" y="469.7" font-size="8.4" text-anchor="end" >2000</text>
<line x1="376.4" x2="383.8" y1="475.3" y2="475.3" stroke="#6a6ad0" stroke-width="0.8"/>
<text class="r" x="401.6" y="478.2" font-size="8.4" text-anchor="end" >2005</text>
<line x1="376.4" x2="383.8" y1="483.8" y2="483.8" stroke="#66c466" stroke-width="0.8"/>
<text class="r" x="401.6" y="486.7" font-size="8.4" text-anchor="end" >2010</text>
<line x1="376.4" x2="383.8" y1="492.3" y2="492.3" stroke="#ea6a78" stroke-width="0.8"/>
<text class="r" x="401.6" y="495.2" font-size="8.4" text-anchor="end" >2015</text>
<line x1="376.4" x2="383.8" y1="500.8" y2="500.8" stroke="#c470d0" stroke-width="0.8"/>
<text class="r" x="401.6" y="503.7" font-size="8.4" text-anchor="end" >2020</text>
<path d="M380.5 507.9L379.1 510.56L381.9 510.56Z" fill="#555555" fill-opacity="0.7" stroke="none"/>
<text class="r" x="401.6" y="512.2" font-size="8.4" text-anchor="end" >2000</text>
<path d="M380.5 516.4L379.1 519.06L381.9 519.06Z" fill="#6a6ad0" fill-opacity="0.7" stroke="none"/>
<text class="r" x="401.6" y="520.7" font-size="8.4" text-anchor="end" >2005</text>
<path d="M380.5 524.9L379.1 527.56L381.9 527.56Z" fill="#66c466" fill-opacity="0.7" stroke="none"/>
<text class="r" x="401.6" y="529.2" font-size="8.4" text-anchor="end" >2010</text>
<path d="M380.5 533.4L379.1 536.06L381.9 536.06Z" fill="#ea6a78" fill-opacity="0.7" stroke="none"/>
<text class="r" x="401.6" y="537.7" font-size="8.4" text-anchor="end" >2015</text>
<path d="M380.5 541.9L379.1 544.56L381.9 544.56Z" fill="#c470d0" fill-opacity="0.7" stroke="none"/>
<text class="r" x="401.6" y="546.2" font-size="8.4" text-anchor="end" >2020</text>
</g></svg></body></html>
